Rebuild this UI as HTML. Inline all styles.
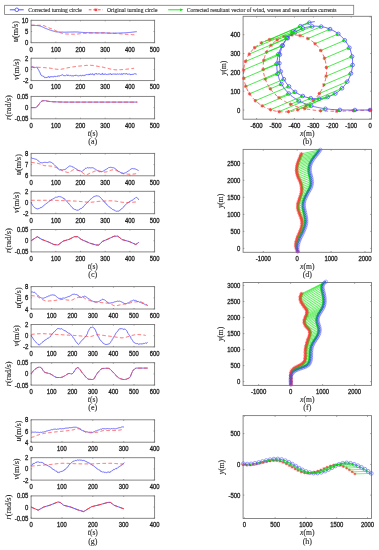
<!DOCTYPE html><html><head><meta charset="utf-8"><style>html,body{margin:0;padding:0;background:#fff;}svg{display:block;will-change:transform;filter:blur(0.3px);}</style></head><body>
<svg width="379" height="550" viewBox="0 0 379 550">
<style>text.t{stroke:#222;stroke-width:0.3px;} text.s{stroke:#2a2a2a;stroke-width:0.12px;}</style>
<rect width="379" height="550" fill="#fff"/>
<rect x="4.6" y="5.3" width="349.1" height="9.2" fill="#fff" stroke="#7a7a7a" stroke-width="0.8"/>
<path d="M9.8,9.8H23.7" stroke="#4040ff" stroke-width="0.9"/>
<circle cx="16.8" cy="9.8" r="1.8" fill="#fff" stroke="#4040ff" stroke-width="0.8"/>
<text x="28.2" y="12.1" font-size="6.8" font-family='"Liberation Serif", serif' text-anchor="start" fill="#2a2a2a" textLength="53.5" lengthAdjust="spacingAndGlyphs" class="s" >Corrected turning circle</text>
<path d="M88.8,9.8H103" stroke="#ff3a3a" stroke-width="0.9" stroke-dasharray="2.6 2.0"/>
<path d="M94.4,9.8h3 M95.9,8.3v3 M94.8,8.7l2.2,2.2 M94.8,10.9l2.2,-2.2" stroke="#ff3a3a" stroke-width="0.9" fill="none"/>
<circle cx="95.9" cy="9.8" r="0.9" fill="#ff3a3a"/>
<text x="107" y="12.1" font-size="6.8" font-family='"Liberation Serif", serif' text-anchor="start" fill="#2a2a2a" textLength="50.4" lengthAdjust="spacingAndGlyphs" class="s" >Original turning circle</text>
<path d="M168.2,9.8H181.5" stroke="#00e000" stroke-width="0.9"/>
<path d="M183.6,9.8L180.2,8.5L180.2,11.1Z" fill="#00e000"/>
<text x="186.7" y="12.1" font-size="6.8" font-family='"Liberation Serif", serif' text-anchor="start" fill="#2a2a2a" textLength="149.8" lengthAdjust="spacingAndGlyphs" class="s" >Corrected resultant vector of wind, waves and sea surface currents</text>
<rect x="31.1" y="20.3" width="123.5" height="22.4" fill="none" stroke="#7a7a7a" stroke-width="0.9"/>
<text x="31.1" y="51.5" font-size="6.5" font-family='"Liberation Sans", sans-serif' text-anchor="middle" fill="#2a2a2a" textLength="3.3" lengthAdjust="spacingAndGlyphs" class="t" >0</text>
<text x="55.8" y="51.5" font-size="6.5" font-family='"Liberation Sans", sans-serif' text-anchor="middle" fill="#2a2a2a" textLength="9.8" lengthAdjust="spacingAndGlyphs" class="t" >100</text>
<text x="80.5" y="51.5" font-size="6.5" font-family='"Liberation Sans", sans-serif' text-anchor="middle" fill="#2a2a2a" textLength="9.8" lengthAdjust="spacingAndGlyphs" class="t" >200</text>
<text x="105.2" y="51.5" font-size="6.5" font-family='"Liberation Sans", sans-serif' text-anchor="middle" fill="#2a2a2a" textLength="9.8" lengthAdjust="spacingAndGlyphs" class="t" >300</text>
<text x="129.9" y="51.5" font-size="6.5" font-family='"Liberation Sans", sans-serif' text-anchor="middle" fill="#2a2a2a" textLength="9.8" lengthAdjust="spacingAndGlyphs" class="t" >400</text>
<text x="154.6" y="51.5" font-size="6.5" font-family='"Liberation Sans", sans-serif' text-anchor="middle" fill="#2a2a2a" textLength="9.8" lengthAdjust="spacingAndGlyphs" class="t" >500</text>
<text x="28.4" y="45.2" font-size="6.5" font-family='"Liberation Sans", sans-serif' text-anchor="end" fill="#2a2a2a" textLength="3.3" lengthAdjust="spacingAndGlyphs" class="t" >0</text>
<text x="28.4" y="34" font-size="6.5" font-family='"Liberation Sans", sans-serif' text-anchor="end" fill="#2a2a2a" textLength="3.3" lengthAdjust="spacingAndGlyphs" class="t" >5</text>
<text x="28.4" y="22.8" font-size="6.5" font-family='"Liberation Sans", sans-serif' text-anchor="end" fill="#2a2a2a" textLength="6.6" lengthAdjust="spacingAndGlyphs" class="t" >10</text>
<path d="M31.1,42.7v-1 M31.1,20.3v1 M55.8,42.7v-1 M55.8,20.3v1 M80.5,42.7v-1 M80.5,20.3v1 M105.2,42.7v-1 M105.2,20.3v1 M129.9,42.7v-1 M129.9,20.3v1 M154.6,42.7v-1 M154.6,20.3v1 M31.1,42.7h1 M154.6,42.7h-1 M31.1,31.5h1 M154.6,31.5h-1 M31.1,20.3h1 M154.6,20.3h-1" stroke="#7a7a7a" stroke-width="0.8" fill="none"/>
<path d="M31.1,25.3 L31.5,25.3 L31.8,25.3 L32.2,25.3 L32.5,25.3 L32.9,25.3 L33.2,25.3 L33.6,25.3 L33.9,25.4 L34.3,25.4 L34.6,25.4 L35,25.4 L35.3,25.4 L35.7,25.5 L36,25.5 L36.4,25.5 L36.8,25.5 L37.1,25.6 L37.5,25.6 L37.8,25.6 L38.2,25.6 L38.5,25.7 L38.9,25.7 L39.2,25.8 L39.6,25.9 L39.9,26 L40.3,26.1 L40.6,26.2 L41,26.3 L41.4,26.5 L41.7,26.6 L42.1,26.8 L42.4,26.9 L42.8,27.1 L43.1,27.3 L43.5,27.4 L43.8,27.6 L44.2,27.8 L44.5,27.9 L44.9,28.1 L45.2,28.2 L45.6,28.4 L45.9,28.5 L46.3,28.6 L46.7,28.8 L47,28.9 L47.4,29.1 L47.7,29.2 L48.1,29.3 L48.4,29.5 L48.8,29.6 L49.1,29.7 L49.5,29.9 L49.8,30 L50.2,30.1 L50.5,30.2 L50.9,30.4 L51.3,30.5 L51.6,30.6 L52,30.7 L52.3,30.8 L52.7,30.9 L53,31 L53.4,31.1 L53.7,31.2 L54.1,31.3 L54.4,31.4 L54.8,31.5 L55.1,31.6 L55.5,31.7 L55.8,31.8 L56.2,31.8 L56.6,31.9 L56.9,31.9 L57.3,31.9 L57.6,32 L58,32 L58.3,32 L58.7,32 L59,32 L59.4,32 L59.7,32.1 L60.1,32.1 L60.4,32.1 L60.8,32.1 L61.2,32.1 L61.5,32.1 L61.9,32.1 L62.2,32.1 L62.6,32.1 L62.9,32.1 L63.3,32.2 L63.6,32.2 L64,32.2 L64.3,32.2 L64.7,32.2 L65,32.2 L65.4,32.2 L65.7,32.2 L66.1,32.2 L66.5,32.2 L66.8,32.2 L67.2,32.2 L67.5,32.1 L67.9,32.1 L68.2,32.1 L68.6,32.1 L68.9,32.1 L69.3,32.1 L69.6,32.1 L70,32.1 L70.3,32.1 L70.7,32 L71.1,32 L71.4,32 L71.8,32 L72.1,32 L72.5,32 L72.8,32 L73.2,32 L73.5,32 L73.9,32 L74.2,32 L74.6,31.9 L74.9,31.9 L75.3,31.9 L75.6,32 L76,32 L76.4,32 L76.7,32 L77.1,32 L77.4,32 L77.8,32 L78.1,32.1 L78.5,32.1 L78.8,32.1 L79.2,32.2 L79.5,32.2 L79.9,32.2 L80.2,32.2 L80.6,32.3 L81,32.3 L81.3,32.3 L81.7,32.4 L82,32.4 L82.4,32.4 L82.7,32.4 L83.1,32.5 L83.4,32.5 L83.8,32.5 L84.1,32.5 L84.5,32.5 L84.8,32.5 L85.2,32.6 L85.5,32.6 L85.9,32.6 L86.3,32.6 L86.6,32.6 L87,32.6 L87.3,32.6 L87.7,32.6 L88,32.7 L88.4,32.7 L88.7,32.7 L89.1,32.7 L89.4,32.7 L89.8,32.7 L90.1,32.7 L90.5,32.7 L90.9,32.7 L91.2,32.7 L91.6,32.8 L91.9,32.8 L92.3,32.8 L92.6,32.8 L93,32.8 L93.3,32.8 L93.7,32.8 L94,32.8 L94.4,32.8 L94.7,32.8 L95.1,32.8 L95.4,32.8 L95.8,32.8 L96.2,32.8 L96.5,32.9 L96.9,32.9 L97.2,32.9 L97.6,32.9 L97.9,32.9 L98.3,32.9 L98.6,32.9 L99,32.9 L99.3,32.9 L99.7,32.9 L100,32.9 L100.4,32.9 L100.8,32.9 L101.1,32.9 L101.5,32.9 L101.8,32.9 L102.2,32.9 L102.5,32.9 L102.9,32.9 L103.2,32.9 L103.6,32.9 L103.9,32.9 L104.3,32.9 L104.6,32.9 L105,33 L105.3,33 L105.7,33 L106.1,33 L106.4,33 L106.8,33 L107.1,33 L107.5,33 L107.8,33.1 L108.2,33.1 L108.5,33.1 L108.9,33.1 L109.2,33.1 L109.6,33.1 L109.9,33.1 L110.3,33.2 L110.7,33.2 L111,33.2 L111.4,33.2 L111.7,33.2 L112.1,33.2 L112.4,33.2 L112.8,33.2 L113.1,33.2 L113.5,33.2 L113.8,33.2 L114.2,33.2 L114.5,33.2 L114.9,33.2 L115.2,33.1 L115.6,33.1 L116,33.1 L116.3,33.1 L116.7,33.1 L117,33.1 L117.4,33.1 L117.7,33.1 L118.1,33.1 L118.4,33.1 L118.8,33 L119.1,33 L119.5,33 L119.8,33 L120.2,33 L120.6,33 L120.9,33 L121.3,33 L121.6,32.9 L122,32.9 L122.3,32.9 L122.7,32.9 L123,32.9 L123.4,32.9 L123.7,32.9 L124.1,32.8 L124.4,32.8 L124.8,32.8 L125.1,32.8 L125.5,32.8 L125.9,32.7 L126.2,32.7 L126.6,32.7 L126.9,32.7 L127.3,32.6 L127.6,32.6 L128,32.6 L128.3,32.6 L128.7,32.5 L129,32.5 L129.4,32.5 L129.7,32.4 L130.1,32.4 L130.5,32.4 L130.8,32.3 L131.2,32.3 L131.5,32.3 L131.9,32.2 L132.2,32.2 L132.6,32.1 L132.9,32.1 L133.3,32.1 L133.6,32 L134,32 L134.3,31.9 L134.7,31.9 L135,31.8 L135.4,31.8 L135.8,31.7 L136.1,31.7 L136.5,31.7 L136.8,31.6" stroke="#4040ff" stroke-width="0.8" fill="none" stroke-linejoin="round"/>
<path d="M31.1,25.3 L31.5,25.3 L31.8,25.3 L32.2,25.3 L32.5,25.3 L32.9,25.3 L33.2,25.3 L33.6,25.3 L33.9,25.3 L34.3,25.3 L34.6,25.3 L35,25.3 L35.3,25.3 L35.7,25.3 L36,25.3 L36.4,25.3 L36.8,25.3 L37.1,25.3 L37.5,25.3 L37.8,25.3 L38.2,25.3 L38.5,25.3 L38.9,25.3 L39.2,25.3 L39.6,25.3 L39.9,25.3 L40.3,25.3 L40.6,25.3 L41,25.3 L41.4,25.3 L41.7,25.3 L42.1,25.3 L42.4,25.3 L42.8,25.4 L43.1,25.4 L43.5,25.5 L43.8,25.7 L44.2,25.8 L44.5,25.9 L44.9,26.1 L45.2,26.3 L45.6,26.4 L45.9,26.6 L46.3,26.8 L46.7,26.9 L47,27.1 L47.4,27.3 L47.7,27.4 L48.1,27.5 L48.4,27.7 L48.8,27.8 L49.1,27.9 L49.5,28.1 L49.8,28.2 L50.2,28.3 L50.5,28.4 L50.9,28.6 L51.3,28.7 L51.6,28.8 L52,29 L52.3,29.1 L52.7,29.2 L53,29.4 L53.4,29.5 L53.7,29.7 L54.1,29.8 L54.4,30 L54.8,30.1 L55.1,30.3 L55.5,30.5 L55.8,30.7 L56.2,30.9 L56.6,31.1 L56.9,31.2 L57.3,31.4 L57.6,31.6 L58,31.8 L58.3,31.9 L58.7,32.1 L59,32.2 L59.4,32.4 L59.7,32.5 L60.1,32.6 L60.4,32.7 L60.8,32.9 L61.2,33 L61.5,33.1 L61.9,33.2 L62.2,33.3 L62.6,33.4 L62.9,33.5 L63.3,33.6 L63.6,33.7 L64,33.7 L64.3,33.8 L64.7,33.9 L65,33.9 L65.4,33.9 L65.7,34 L66.1,34 L66.5,34 L66.8,34 L67.2,34 L67.5,34 L67.9,34.1 L68.2,34.1 L68.6,34.1 L68.9,34.1 L69.3,34.1 L69.6,34.1 L70,34.1 L70.3,34.1 L70.7,34.1 L71.1,34.1 L71.4,34.2 L71.8,34.2 L72.1,34.2 L72.5,34.2 L72.8,34.2 L73.2,34.2 L73.5,34.2 L73.9,34.2 L74.2,34.2 L74.6,34.2 L74.9,34.2 L75.3,34.2 L75.6,34.2 L76,34.2 L76.4,34.1 L76.7,34.1 L77.1,34.1 L77.4,34 L77.8,34 L78.1,33.9 L78.5,33.9 L78.8,33.9 L79.2,33.8 L79.5,33.8 L79.9,33.7 L80.2,33.7 L80.6,33.6 L81,33.6 L81.3,33.6 L81.7,33.5 L82,33.5 L82.4,33.5 L82.7,33.4 L83.1,33.4 L83.4,33.4 L83.8,33.4 L84.1,33.4 L84.5,33.3 L84.8,33.3 L85.2,33.3 L85.5,33.3 L85.9,33.2 L86.3,33.2 L86.6,33.2 L87,33.2 L87.3,33.2 L87.7,33.2 L88,33.1 L88.4,33.1 L88.7,33.1 L89.1,33.1 L89.4,33.1 L89.8,33.1 L90.1,33.1 L90.5,33 L90.9,33 L91.2,33 L91.6,33 L91.9,33 L92.3,33 L92.6,33 L93,33 L93.3,33 L93.7,33 L94,32.9 L94.4,32.9 L94.7,32.9 L95.1,32.9 L95.4,32.9 L95.8,32.9 L96.2,32.9 L96.5,32.9 L96.9,32.9 L97.2,32.9 L97.6,32.9 L97.9,32.9 L98.3,32.9 L98.6,32.9 L99,32.8 L99.3,32.8 L99.7,32.8 L100,32.8 L100.4,32.8 L100.8,32.8 L101.1,32.8 L101.5,32.9 L101.8,32.9 L102.2,32.9 L102.5,32.9 L102.9,32.9 L103.2,32.9 L103.6,32.9 L103.9,32.9 L104.3,32.9 L104.6,32.9 L105,33 L105.3,33 L105.7,33 L106.1,33 L106.4,33 L106.8,33 L107.1,33 L107.5,33.1 L107.8,33.1 L108.2,33.1 L108.5,33.1 L108.9,33.1 L109.2,33.1 L109.6,33.1 L109.9,33.2 L110.3,33.2 L110.7,33.2 L111,33.2 L111.4,33.2 L111.7,33.2 L112.1,33.2 L112.4,33.3 L112.8,33.3 L113.1,33.3 L113.5,33.3 L113.8,33.3 L114.2,33.4 L114.5,33.4 L114.9,33.4 L115.2,33.4 L115.6,33.4 L116,33.5 L116.3,33.5 L116.7,33.5 L117,33.5 L117.4,33.5 L117.7,33.6 L118.1,33.6 L118.4,33.6 L118.8,33.6 L119.1,33.7 L119.5,33.7 L119.8,33.7 L120.2,33.8 L120.6,33.8 L120.9,33.8 L121.3,33.9 L121.6,33.9 L122,33.9 L122.3,34 L122.7,34 L123,34 L123.4,34.1 L123.7,34.1 L124.1,34.1 L124.4,34.2 L124.8,34.2 L125.1,34.2 L125.5,34.3 L125.9,34.3 L126.2,34.3 L126.6,34.4 L126.9,34.4 L127.3,34.4 L127.6,34.4 L128,34.4 L128.3,34.5 L128.7,34.5 L129,34.5 L129.4,34.5 L129.7,34.5 L130.1,34.6 L130.5,34.6 L130.8,34.6 L131.2,34.6 L131.5,34.6 L131.9,34.7 L132.2,34.7 L132.6,34.7 L132.9,34.7 L133.3,34.7 L133.6,34.7 L134,34.8 L134.3,34.8 L134.7,34.8 L135,34.8 L135.4,34.8 L135.8,34.8 L136.1,34.8 L136.5,34.8 L136.8,34.9" stroke="#ff3a3a" stroke-width="0.8" fill="none" stroke-dasharray="3.6 2.4" stroke-linejoin="round"/>
<text x="18" y="31.5" font-size="7.8" font-family='"Liberation Serif", serif' text-anchor="middle" fill="#2a2a2a" textLength="20.8" lengthAdjust="spacingAndGlyphs" transform="rotate(-90 18 31.5)" class="s" ><tspan font-style="italic">u</tspan>(m/s)</text>
<rect x="31.1" y="58.2" width="123.5" height="22.4" fill="none" stroke="#7a7a7a" stroke-width="0.9"/>
<text x="31.1" y="89.4" font-size="6.5" font-family='"Liberation Sans", sans-serif' text-anchor="middle" fill="#2a2a2a" textLength="3.3" lengthAdjust="spacingAndGlyphs" class="t" >0</text>
<text x="55.8" y="89.4" font-size="6.5" font-family='"Liberation Sans", sans-serif' text-anchor="middle" fill="#2a2a2a" textLength="9.8" lengthAdjust="spacingAndGlyphs" class="t" >100</text>
<text x="80.5" y="89.4" font-size="6.5" font-family='"Liberation Sans", sans-serif' text-anchor="middle" fill="#2a2a2a" textLength="9.8" lengthAdjust="spacingAndGlyphs" class="t" >200</text>
<text x="105.2" y="89.4" font-size="6.5" font-family='"Liberation Sans", sans-serif' text-anchor="middle" fill="#2a2a2a" textLength="9.8" lengthAdjust="spacingAndGlyphs" class="t" >300</text>
<text x="129.9" y="89.4" font-size="6.5" font-family='"Liberation Sans", sans-serif' text-anchor="middle" fill="#2a2a2a" textLength="9.8" lengthAdjust="spacingAndGlyphs" class="t" >400</text>
<text x="154.6" y="89.4" font-size="6.5" font-family='"Liberation Sans", sans-serif' text-anchor="middle" fill="#2a2a2a" textLength="9.8" lengthAdjust="spacingAndGlyphs" class="t" >500</text>
<text x="28.4" y="83.1" font-size="6.5" font-family='"Liberation Sans", sans-serif' text-anchor="end" fill="#2a2a2a" textLength="5.5" lengthAdjust="spacingAndGlyphs" class="t" >-2</text>
<text x="28.4" y="71.9" font-size="6.5" font-family='"Liberation Sans", sans-serif' text-anchor="end" fill="#2a2a2a" textLength="3.3" lengthAdjust="spacingAndGlyphs" class="t" >0</text>
<text x="28.4" y="60.7" font-size="6.5" font-family='"Liberation Sans", sans-serif' text-anchor="end" fill="#2a2a2a" textLength="3.3" lengthAdjust="spacingAndGlyphs" class="t" >2</text>
<path d="M31.1,80.6v-1 M31.1,58.2v1 M55.8,80.6v-1 M55.8,58.2v1 M80.5,80.6v-1 M80.5,58.2v1 M105.2,80.6v-1 M105.2,58.2v1 M129.9,80.6v-1 M129.9,58.2v1 M154.6,80.6v-1 M154.6,58.2v1 M31.1,80.6h1 M154.6,80.6h-1 M31.1,69.4h1 M154.6,69.4h-1 M31.1,58.2h1 M154.6,58.2h-1" stroke="#7a7a7a" stroke-width="0.8" fill="none"/>
<path d="M31.1,67.1 L31.4,67.1 L31.6,67 L31.9,67.1 L32.2,67.2 L32.4,67 L32.7,66.7 L33,66.8 L33.2,67.4 L33.5,67.6 L33.7,67.5 L34,67.5 L34.3,67.8 L34.5,67.7 L34.8,67.6 L35.1,67.6 L35.3,67.4 L35.6,67.3 L35.9,67 L36.1,66.9 L36.4,67.1 L36.7,67.3 L36.9,67.7 L37.2,67.8 L37.5,67.9 L37.7,68.5 L38,69.1 L38.3,69.5 L38.5,69.8 L38.8,70.2 L39,70.9 L39.3,71.5 L39.6,71.8 L39.8,72.3 L40.1,72.9 L40.4,73.7 L40.6,74.5 L40.9,74.9 L41.2,74.9 L41.4,75.2 L41.7,75.7 L42,75.6 L42.2,75.6 L42.5,76 L42.8,76.4 L43,76.6 L43.3,76.4 L43.6,76.2 L43.8,76.4 L44.1,76.8 L44.3,77.3 L44.6,77.7 L44.9,77.5 L45.1,77.4 L45.4,77.6 L45.7,77.4 L45.9,77.1 L46.2,77.2 L46.5,77.6 L46.7,77.6 L47,77.6 L47.3,77.4 L47.5,77 L47.8,77.1 L48.1,77.2 L48.3,77 L48.6,76.6 L48.9,76.5 L49.1,77.1 L49.4,77.6 L49.6,77.2 L49.9,76.7 L50.2,76.8 L50.4,76.8 L50.7,76.8 L51,77.1 L51.2,77.1 L51.5,76.7 L51.8,76.5 L52,76.3 L52.3,76.6 L52.6,77 L52.8,77.1 L53.1,77.2 L53.4,77.1 L53.6,76.6 L53.9,76.3 L54.2,76.3 L54.4,76.4 L54.7,76.3 L54.9,76.2 L55.2,76.2 L55.5,76.4 L55.7,76.6 L56,76.3 L56.3,76 L56.5,76.2 L56.8,76.5 L57.1,76.8 L57.3,76.6 L57.6,76 L57.9,75.7 L58.1,76 L58.4,76.1 L58.7,75.9 L58.9,76.1 L59.2,76 L59.4,75.9 L59.7,76 L60,75.8 L60.2,75.6 L60.5,75.5 L60.8,75.4 L61,75.2 L61.3,75.2 L61.6,75.2 L61.8,74.9 L62.1,74.8 L62.4,74.8 L62.6,74.8 L62.9,74.8 L63.2,75 L63.4,75.3 L63.7,75.7 L64,75.6 L64.2,75.7 L64.5,75.8 L64.7,75.5 L65,75.6 L65.3,75.8 L65.5,75.7 L65.8,75.4 L66.1,75.1 L66.3,75 L66.6,75.1 L66.9,75 L67.1,74.8 L67.4,75.3 L67.7,75.8 L67.9,75.4 L68.2,75.2 L68.5,75.3 L68.7,75.3 L69,75.3 L69.3,75.5 L69.5,75.8 L69.8,76.1 L70,75.9 L70.3,75.6 L70.6,75.4 L70.8,75.5 L71.1,75.7 L71.4,75.8 L71.6,75.8 L71.9,75.8 L72.2,75.9 L72.4,75.7 L72.7,75.7 L73,76.2 L73.2,76.2 L73.5,75.8 L73.8,75.6 L74,75.8 L74.3,75.5 L74.6,75.1 L74.8,75.3 L75.1,75.7 L75.3,75.7 L75.6,75.2 L75.9,75 L76.1,75.2 L76.4,75.3 L76.7,75.3 L76.9,75.3 L77.2,75.4 L77.5,75.7 L77.7,75.8 L78,75.7 L78.3,75.9 L78.5,75.9 L78.8,75.8 L79.1,75.8 L79.3,75.6 L79.6,75.6 L79.9,75.6 L80.1,75.5 L80.4,75.4 L80.6,75.2 L80.9,75.3 L81.2,75.8 L81.4,76.2 L81.7,75.9 L82,75.3 L82.2,75.3 L82.5,75.3 L82.8,75.2 L83,75.5 L83.3,75.7 L83.6,75.4 L83.8,75.2 L84.1,75.4 L84.4,75.6 L84.6,75.5 L84.9,75 L85.2,74.8 L85.4,75 L85.7,75.2 L85.9,75.3 L86.2,75 L86.5,74.6 L86.7,74.4 L87,74.3 L87.3,74.6 L87.5,74.7 L87.8,74.6 L88.1,74.6 L88.3,74.7 L88.6,74.9 L88.9,74.5 L89.1,73.9 L89.4,74.4 L89.7,75 L89.9,74.7 L90.2,74.3 L90.4,74.2 L90.7,73.8 L91,73.8 L91.2,74.1 L91.5,74.4 L91.8,74.5 L92,74.6 L92.3,74.4 L92.6,73.7 L92.8,73.7 L93.1,74.3 L93.4,74.7 L93.6,74.8 L93.9,74.9 L94.2,75.1 L94.4,74.6 L94.7,73.9 L95,73.9 L95.2,73.9 L95.5,73.8 L95.7,73.6 L96,73.8 L96.3,73.8 L96.5,73.5 L96.8,74 L97.1,74.4 L97.3,74.2 L97.6,73.9 L97.9,73.9 L98.1,74 L98.4,73.9 L98.7,73.8 L98.9,74.1 L99.2,74.2 L99.5,73.9 L99.7,73.7 L100,74 L100.3,74.4 L100.5,74.4 L100.8,74.3 L101,74 L101.3,73.9 L101.6,74.1 L101.8,74.4 L102.1,74.5 L102.4,74.1 L102.6,73.3 L102.9,73.5 L103.2,74.3 L103.4,74.6 L103.7,74.5 L104,74.2 L104.2,74.1 L104.5,74.4 L104.8,74.3 L105,73.8 L105.3,73.8 L105.6,74.1 L105.8,74.2 L106.1,74.6 L106.3,74.8 L106.6,74.5 L106.9,74.4 L107.1,74.5 L107.4,74.2 L107.7,74.1 L107.9,74.4 L108.2,74.5 L108.5,74 L108.7,73.9 L109,74.1 L109.3,74.1 L109.5,74 L109.8,74.2 L110.1,74.2 L110.3,73.8 L110.6,73.6 L110.9,73.7 L111.1,74.3 L111.4,74.9 L111.6,74.5 L111.9,74 L112.2,74.2 L112.4,74.2 L112.7,74.1 L113,74 L113.2,74.1 L113.5,74 L113.8,73.9 L114,74 L114.3,73.9 L114.6,74 L114.8,74.3 L115.1,74.3 L115.4,74.2 L115.6,73.9 L115.9,73.9 L116.1,74.3 L116.4,74.4 L116.7,74 L116.9,73.8 L117.2,73.9 L117.5,74 L117.7,74.1 L118,74.1 L118.3,74.1 L118.5,74.2 L118.8,74.3 L119.1,74.1 L119.3,74 L119.6,74 L119.9,74 L120.1,74.1 L120.4,74.1 L120.7,74.1 L120.9,74.4 L121.2,74.5 L121.4,73.9 L121.7,73.6 L122,73.8 L122.2,74.2 L122.5,74.4 L122.8,74.3 L123,73.8 L123.3,73.5 L123.6,73.8 L123.8,74.1 L124.1,73.7 L124.4,74 L124.6,74.1 L124.9,73.8 L125.2,73.9 L125.4,74.1 L125.7,73.9 L126,73.6 L126.2,73.8 L126.5,74 L126.7,73.5 L127,73.6 L127.3,74.1 L127.5,74.4 L127.8,74.3 L128.1,74.2 L128.3,74.2 L128.6,74.2 L128.9,73.9 L129.1,73.9 L129.4,74.1 L129.7,73.9 L129.9,74.1 L130.2,74.7 L130.5,74.8 L130.7,74.4 L131,74.4 L131.3,74.4 L131.5,74.5 L131.8,74.8 L132,75 L132.3,74.6 L132.6,74.2 L132.8,74.2 L133.1,74.2 L133.4,74.3 L133.6,74.3 L133.9,74.2 L134.2,73.8 L134.4,73.7 L134.7,74 L135,74.1 L135.2,74.1 L135.5,73.9 L135.8,73.8 L136,73.8 L136.3,74.2 L136.6,74.2 L136.8,74.2" stroke="#4040ff" stroke-width="0.8" fill="none" stroke-linejoin="round"/>
<path d="M31.1,67.2 L31.4,67.2 L31.8,67.2 L32.1,67.2 L32.5,67.2 L32.8,67.2 L33.2,67.2 L33.5,67.2 L33.9,67.2 L34.2,67.2 L34.5,67.2 L34.9,67.2 L35.2,67.2 L35.6,67.2 L35.9,67.2 L36.3,67.2 L36.6,67.3 L37,67.3 L37.3,67.3 L37.6,67.3 L38,67.3 L38.3,67.3 L38.7,67.3 L39,67.3 L39.4,67.4 L39.7,67.4 L40.1,67.4 L40.4,67.4 L40.7,67.4 L41.1,67.4 L41.4,67.5 L41.8,67.5 L42.1,67.5 L42.5,67.5 L42.8,67.5 L43.2,67.5 L43.5,67.6 L43.8,67.6 L44.2,67.6 L44.5,67.6 L44.9,67.6 L45.2,67.7 L45.6,67.7 L45.9,67.7 L46.3,67.8 L46.6,67.8 L46.9,67.8 L47.3,67.9 L47.6,67.9 L48,67.9 L48.3,68 L48.7,68 L49,68.1 L49.4,68.1 L49.7,68.1 L50,68.2 L50.4,68.2 L50.7,68.3 L51.1,68.3 L51.4,68.4 L51.8,68.4 L52.1,68.5 L52.5,68.5 L52.8,68.6 L53.1,68.6 L53.5,68.7 L53.8,68.8 L54.2,68.8 L54.5,68.9 L54.9,68.9 L55.2,69 L55.6,69.1 L55.9,69.1 L56.2,69.2 L56.6,69.2 L56.9,69.3 L57.3,69.3 L57.6,69.3 L58,69.4 L58.3,69.4 L58.7,69.4 L59,69.4 L59.3,69.4 L59.7,69.4 L60,69.4 L60.4,69.3 L60.7,69.3 L61.1,69.2 L61.4,69.2 L61.8,69.1 L62.1,69.1 L62.4,69 L62.8,68.9 L63.1,68.9 L63.5,68.8 L63.8,68.7 L64.2,68.6 L64.5,68.5 L64.9,68.4 L65.2,68.4 L65.5,68.3 L65.9,68.2 L66.2,68.1 L66.6,68 L66.9,68 L67.3,67.9 L67.6,67.8 L68,67.8 L68.3,67.7 L68.6,67.6 L69,67.6 L69.3,67.5 L69.7,67.5 L70,67.4 L70.4,67.3 L70.7,67.3 L71.1,67.2 L71.4,67.2 L71.7,67.1 L72.1,67.1 L72.4,67 L72.8,66.9 L73.1,66.9 L73.5,66.8 L73.8,66.8 L74.2,66.7 L74.5,66.7 L74.8,66.6 L75.2,66.6 L75.5,66.5 L75.9,66.5 L76.2,66.4 L76.6,66.4 L76.9,66.3 L77.3,66.3 L77.6,66.2 L77.9,66.2 L78.3,66.2 L78.6,66.1 L79,66.1 L79.3,66.1 L79.7,66 L80,66 L80.4,66 L80.7,65.9 L81,65.9 L81.4,65.9 L81.7,65.8 L82.1,65.8 L82.4,65.8 L82.8,65.7 L83.1,65.7 L83.5,65.7 L83.8,65.6 L84.1,65.6 L84.5,65.6 L84.8,65.5 L85.2,65.5 L85.5,65.5 L85.9,65.5 L86.2,65.4 L86.6,65.4 L86.9,65.4 L87.2,65.4 L87.6,65.4 L87.9,65.4 L88.3,65.3 L88.6,65.3 L89,65.3 L89.3,65.3 L89.7,65.3 L90,65.3 L90.4,65.3 L90.7,65.3 L91,65.3 L91.4,65.4 L91.7,65.4 L92.1,65.4 L92.4,65.4 L92.8,65.5 L93.1,65.5 L93.5,65.6 L93.8,65.6 L94.1,65.7 L94.5,65.7 L94.8,65.8 L95.2,65.8 L95.5,65.9 L95.9,65.9 L96.2,66 L96.6,66.1 L96.9,66.1 L97.2,66.2 L97.6,66.3 L97.9,66.3 L98.3,66.4 L98.6,66.5 L99,66.5 L99.3,66.6 L99.7,66.6 L100,66.7 L100.3,66.8 L100.7,66.8 L101,66.9 L101.4,66.9 L101.7,67 L102.1,67.1 L102.4,67.1 L102.8,67.2 L103.1,67.3 L103.4,67.3 L103.8,67.4 L104.1,67.5 L104.5,67.6 L104.8,67.7 L105.2,67.7 L105.5,67.8 L105.9,67.9 L106.2,68 L106.5,68.1 L106.9,68.2 L107.2,68.2 L107.6,68.3 L107.9,68.4 L108.3,68.5 L108.6,68.6 L109,68.7 L109.3,68.7 L109.6,68.8 L110,68.9 L110.3,69 L110.7,69.1 L111,69.1 L111.4,69.2 L111.7,69.3 L112.1,69.3 L112.4,69.4 L112.7,69.4 L113.1,69.5 L113.4,69.5 L113.8,69.6 L114.1,69.6 L114.5,69.7 L114.8,69.7 L115.2,69.7 L115.5,69.8 L115.8,69.8 L116.2,69.8 L116.5,69.8 L116.9,69.8 L117.2,69.8 L117.6,69.8 L117.9,69.8 L118.3,69.8 L118.6,69.8 L118.9,69.8 L119.3,69.7 L119.6,69.7 L120,69.7 L120.3,69.7 L120.7,69.7 L121,69.6 L121.4,69.6 L121.7,69.6 L122,69.6 L122.4,69.6 L122.7,69.5 L123.1,69.5 L123.4,69.5 L123.8,69.4 L124.1,69.4 L124.5,69.4 L124.8,69.4 L125.1,69.3 L125.5,69.3 L125.8,69.3 L126.2,69.2 L126.5,69.2 L126.9,69.2 L127.2,69.1 L127.6,69.1 L127.9,69.1 L128.2,69 L128.6,69 L128.9,69 L129.3,68.9 L129.6,68.9 L130,68.9 L130.3,68.8 L130.7,68.8 L131,68.7 L131.3,68.7 L131.7,68.6 L132,68.6 L132.4,68.5 L132.7,68.5 L133.1,68.4 L133.4,68.4 L133.8,68.3 L134.1,68.3" stroke="#ff3a3a" stroke-width="0.8" fill="none" stroke-dasharray="3.6 2.4" stroke-linejoin="round"/>
<text x="19.3" y="69.4" font-size="7.8" font-family='"Liberation Serif", serif' text-anchor="middle" fill="#2a2a2a" textLength="21" lengthAdjust="spacingAndGlyphs" transform="rotate(-90 19.3 69.4)" class="s" ><tspan font-style="italic">v</tspan>(m/s)</text>
<rect x="31.1" y="96.4" width="123.5" height="22.4" fill="none" stroke="#7a7a7a" stroke-width="0.9"/>
<text x="31.1" y="127.6" font-size="6.5" font-family='"Liberation Sans", sans-serif' text-anchor="middle" fill="#2a2a2a" textLength="3.3" lengthAdjust="spacingAndGlyphs" class="t" >0</text>
<text x="55.8" y="127.6" font-size="6.5" font-family='"Liberation Sans", sans-serif' text-anchor="middle" fill="#2a2a2a" textLength="9.8" lengthAdjust="spacingAndGlyphs" class="t" >100</text>
<text x="80.5" y="127.6" font-size="6.5" font-family='"Liberation Sans", sans-serif' text-anchor="middle" fill="#2a2a2a" textLength="9.8" lengthAdjust="spacingAndGlyphs" class="t" >200</text>
<text x="105.2" y="127.6" font-size="6.5" font-family='"Liberation Sans", sans-serif' text-anchor="middle" fill="#2a2a2a" textLength="9.8" lengthAdjust="spacingAndGlyphs" class="t" >300</text>
<text x="129.9" y="127.6" font-size="6.5" font-family='"Liberation Sans", sans-serif' text-anchor="middle" fill="#2a2a2a" textLength="9.8" lengthAdjust="spacingAndGlyphs" class="t" >400</text>
<text x="154.6" y="127.6" font-size="6.5" font-family='"Liberation Sans", sans-serif' text-anchor="middle" fill="#2a2a2a" textLength="9.8" lengthAdjust="spacingAndGlyphs" class="t" >500</text>
<text x="28.4" y="121.3" font-size="6.5" font-family='"Liberation Sans", sans-serif' text-anchor="end" fill="#2a2a2a" textLength="13.7" lengthAdjust="spacingAndGlyphs" class="t" >-0.05</text>
<text x="28.4" y="110.1" font-size="6.5" font-family='"Liberation Sans", sans-serif' text-anchor="end" fill="#2a2a2a" textLength="3.3" lengthAdjust="spacingAndGlyphs" class="t" >0</text>
<text x="28.4" y="98.9" font-size="6.5" font-family='"Liberation Sans", sans-serif' text-anchor="end" fill="#2a2a2a" textLength="11.5" lengthAdjust="spacingAndGlyphs" class="t" >0.05</text>
<path d="M31.1,118.8v-1 M31.1,96.4v1 M55.8,118.8v-1 M55.8,96.4v1 M80.5,118.8v-1 M80.5,96.4v1 M105.2,118.8v-1 M105.2,96.4v1 M129.9,118.8v-1 M129.9,96.4v1 M154.6,118.8v-1 M154.6,96.4v1 M31.1,118.8h1 M154.6,118.8h-1 M31.1,107.6h1 M154.6,107.6h-1 M31.1,96.4h1 M154.6,96.4h-1" stroke="#7a7a7a" stroke-width="0.8" fill="none"/>
<path d="M31.1,107.6 L31.5,107.6 L31.8,107.6 L32.2,107.6 L32.5,107.6 L32.9,107.6 L33.2,107.6 L33.6,107.6 L33.9,107.6 L34.3,107.6 L34.7,107.6 L35,107.6 L35.4,107.6 L35.7,107.6 L36.1,107.5 L36.4,107.4 L36.8,107 L37.1,106.6 L37.5,106.2 L37.8,105.7 L38.2,105.3 L38.6,104.9 L38.9,104.4 L39.3,103.9 L39.6,103.4 L40,102.9 L40.3,102.4 L40.7,102 L41,101.7 L41.4,101.4 L41.8,101.2 L42.1,101 L42.5,100.9 L42.8,100.8 L43.2,100.8 L43.5,100.7 L43.9,100.7 L44.2,100.7 L44.6,100.7 L45,100.7 L45.3,100.7 L45.7,100.7 L46,100.8 L46.4,100.9 L46.7,101 L47.1,101.1 L47.4,101.2 L47.8,101.2 L48.2,101.3 L48.5,101.3 L48.9,101.4 L49.2,101.4 L49.6,101.5 L49.9,101.5 L50.3,101.5 L50.6,101.6 L51,101.6 L51.3,101.6 L51.7,101.7 L52.1,101.7 L52.4,101.7 L52.8,101.7 L53.1,101.7 L53.5,101.8 L53.8,101.8 L54.2,101.8 L54.5,101.8 L54.9,101.8 L55.3,101.8 L55.6,101.8 L56,101.9 L56.3,101.9 L56.7,101.9 L57,101.9 L57.4,101.9 L57.7,101.9 L58.1,101.9 L58.5,101.9 L58.8,102 L59.2,102 L59.5,102 L59.9,102 L60.2,102 L60.6,102 L60.9,102 L61.3,102 L61.6,102 L62,102 L62.4,102 L62.7,102.1 L63.1,102.1 L63.4,102.1 L63.8,102.1 L64.1,102.1 L64.5,102.1 L64.8,102.1 L65.2,102.1 L65.6,102.1 L65.9,102.1 L66.3,102.1 L66.6,102.1 L67,102.1 L67.3,102.1 L67.7,102.1 L68,102.1 L68.4,102.1 L68.8,102.1 L69.1,102.1 L69.5,102.1 L69.8,102.1 L70.2,102.1 L70.5,102.1 L70.9,102.1 L71.2,102.1 L71.6,102.1 L72,102.1 L72.3,102.1 L72.7,102.1 L73,102.1 L73.4,102.1 L73.7,102.1 L74.1,102.1 L74.4,102.1 L74.8,102.1 L75.1,102.1 L75.5,102.1 L75.9,102.1 L76.2,102.1 L76.6,102.1 L76.9,102.1 L77.3,102.1 L77.6,102.1 L78,102.1 L78.3,102.1 L78.7,102.1 L79.1,102.1 L79.4,102.1 L79.8,102.1 L80.1,102.1 L80.5,102.1 L80.8,102.1 L81.2,102.1 L81.5,102.1 L81.9,102.1 L82.3,102.1 L82.6,102.1 L83,102.1 L83.3,102.1 L83.7,102.1 L84,102.1 L84.4,102.1 L84.7,102.1 L85.1,102.1 L85.4,102.1 L85.8,102.1 L86.2,102.1 L86.5,102.1 L86.9,102.1 L87.2,102.1 L87.6,102.1 L87.9,102.1 L88.3,102.1 L88.6,102.1 L89,102.1 L89.4,102.1 L89.7,102.1 L90.1,102.1 L90.4,102.1 L90.8,102.1 L91.1,102.1 L91.5,102.1 L91.8,102.1 L92.2,102.1 L92.6,102.1 L92.9,102.1 L93.3,102.1 L93.6,102.1 L94,102.1 L94.3,102.1 L94.7,102.1 L95,102.1 L95.4,102.1 L95.7,102.1 L96.1,102.1 L96.5,102.1 L96.8,102.1 L97.2,102.1 L97.5,102.1 L97.9,102.1 L98.2,102.1 L98.6,102.1 L98.9,102.1 L99.3,102.1 L99.7,102.1 L100,102.1 L100.4,102.1 L100.7,102.1 L101.1,102.1 L101.4,102.1 L101.8,102.1 L102.1,102.1 L102.5,102.1 L102.9,102.1 L103.2,102.1 L103.6,102.1 L103.9,102.1 L104.3,102.1 L104.6,102.1 L105,102.1 L105.3,102.1 L105.7,102.1 L106.1,102.1 L106.4,102.1 L106.8,102.1 L107.1,102.1 L107.5,102.1 L107.8,102.1 L108.2,102.1 L108.5,102.1 L108.9,102.1 L109.2,102.1 L109.6,102.1 L110,102.1 L110.3,102.1 L110.7,102.1 L111,102.1 L111.4,102.1 L111.7,102.1 L112.1,102.1 L112.4,102.1 L112.8,102.1 L113.2,102.1 L113.5,102.1 L113.9,102.1 L114.2,102.1 L114.6,102.1 L114.9,102.1 L115.3,102.1 L115.6,102.1 L116,102.1 L116.4,102.1 L116.7,102.1 L117.1,102.1 L117.4,102.1 L117.8,102.1 L118.1,102.1 L118.5,102.1 L118.8,102.1 L119.2,102.1 L119.5,102.1 L119.9,102.1 L120.3,102.1 L120.6,102.1 L121,102.1 L121.3,102.1 L121.7,102.1 L122,102.1 L122.4,102.1 L122.7,102.1 L123.1,102.1 L123.5,102.1 L123.8,102.1 L124.2,102.1 L124.5,102.1 L124.9,102.1 L125.2,102.1 L125.6,102.1 L125.9,102.1 L126.3,102.1 L126.7,102.1 L127,102.1 L127.4,102.1 L127.7,102.1 L128.1,102.1 L128.4,102.1 L128.8,102.1 L129.1,102.1 L129.5,102.1 L129.9,102.1 L130.2,102.1 L130.6,102.1 L130.9,102.1 L131.3,102.1 L131.6,102.1 L132,102.1 L132.3,102.1 L132.7,102.1 L133,102.1 L133.4,102.1 L133.8,102.1 L134.1,102.1 L134.5,102.1 L134.8,102.1 L135.2,102.1 L135.5,102.1 L135.9,102.1 L136.2,102.1 L136.6,102.1 L137,102.1 L137.3,102.1" stroke="#4040ff" stroke-width="0.8" fill="none" stroke-linejoin="round"/>
<path d="M31.1,107.6 L31.5,107.6 L31.8,107.6 L32.2,107.6 L32.5,107.6 L32.9,107.6 L33.2,107.6 L33.6,107.6 L33.9,107.6 L34.3,107.6 L34.7,107.6 L35,107.6 L35.4,107.6 L35.7,107.6 L36.1,107.5 L36.4,107.4 L36.8,107 L37.1,106.6 L37.5,106.2 L37.8,105.7 L38.2,105.3 L38.6,104.9 L38.9,104.4 L39.3,103.9 L39.6,103.4 L40,102.9 L40.3,102.4 L40.7,102 L41,101.7 L41.4,101.4 L41.8,101.2 L42.1,101 L42.5,100.9 L42.8,100.8 L43.2,100.8 L43.5,100.7 L43.9,100.7 L44.2,100.7 L44.6,100.7 L45,100.7 L45.3,100.7 L45.7,100.7 L46,100.8 L46.4,100.9 L46.7,101 L47.1,101.1 L47.4,101.2 L47.8,101.2 L48.2,101.3 L48.5,101.3 L48.9,101.4 L49.2,101.4 L49.6,101.5 L49.9,101.5 L50.3,101.5 L50.6,101.6 L51,101.6 L51.3,101.6 L51.7,101.7 L52.1,101.7 L52.4,101.7 L52.8,101.7 L53.1,101.7 L53.5,101.8 L53.8,101.8 L54.2,101.8 L54.5,101.8 L54.9,101.8 L55.3,101.8 L55.6,101.8 L56,101.9 L56.3,101.9 L56.7,101.9 L57,101.9 L57.4,101.9 L57.7,101.9 L58.1,101.9 L58.5,101.9 L58.8,102 L59.2,102 L59.5,102 L59.9,102 L60.2,102 L60.6,102 L60.9,102 L61.3,102 L61.6,102 L62,102 L62.4,102 L62.7,102.1 L63.1,102.1 L63.4,102.1 L63.8,102.1 L64.1,102.1 L64.5,102.1 L64.8,102.1 L65.2,102.1 L65.6,102.1 L65.9,102.1 L66.3,102.1 L66.6,102.1 L67,102.1 L67.3,102.1 L67.7,102.1 L68,102.1 L68.4,102.1 L68.8,102.1 L69.1,102.1 L69.5,102.1 L69.8,102.1 L70.2,102.1 L70.5,102.1 L70.9,102.1 L71.2,102.1 L71.6,102.1 L72,102.1 L72.3,102.1 L72.7,102.1 L73,102.1 L73.4,102.1 L73.7,102.1 L74.1,102.1 L74.4,102.1 L74.8,102.1 L75.1,102.1 L75.5,102.1 L75.9,102.1 L76.2,102.1 L76.6,102.1 L76.9,102.1 L77.3,102.1 L77.6,102.1 L78,102.1 L78.3,102.1 L78.7,102.1 L79.1,102.1 L79.4,102.1 L79.8,102.1 L80.1,102.1 L80.5,102.1 L80.8,102.1 L81.2,102.1 L81.5,102.1 L81.9,102.1 L82.3,102.1 L82.6,102.1 L83,102.1 L83.3,102.1 L83.7,102.1 L84,102.1 L84.4,102.1 L84.7,102.1 L85.1,102.1 L85.4,102.1 L85.8,102.1 L86.2,102.1 L86.5,102.1 L86.9,102.1 L87.2,102.1 L87.6,102.1 L87.9,102.1 L88.3,102.1 L88.6,102.1 L89,102.1 L89.4,102.1 L89.7,102.1 L90.1,102.1 L90.4,102.1 L90.8,102.1 L91.1,102.1 L91.5,102.1 L91.8,102.1 L92.2,102.1 L92.6,102.1 L92.9,102.1 L93.3,102.1 L93.6,102.1 L94,102.1 L94.3,102.1 L94.7,102.1 L95,102.1 L95.4,102.1 L95.7,102.1 L96.1,102.1 L96.5,102.1 L96.8,102.1 L97.2,102.1 L97.5,102.1 L97.9,102.1 L98.2,102.1 L98.6,102.1 L98.9,102.1 L99.3,102.1 L99.7,102.1 L100,102.1 L100.4,102.1 L100.7,102.1 L101.1,102.1 L101.4,102.1 L101.8,102.1 L102.1,102.1 L102.5,102.1 L102.9,102.1 L103.2,102.1 L103.6,102.1 L103.9,102.1 L104.3,102.1 L104.6,102.1 L105,102.1 L105.3,102.1 L105.7,102.1 L106.1,102.1 L106.4,102.1 L106.8,102.1 L107.1,102.1 L107.5,102.1 L107.8,102.1 L108.2,102.1 L108.5,102.1 L108.9,102.1 L109.2,102.1 L109.6,102.1 L110,102.1 L110.3,102.1 L110.7,102.1 L111,102.1 L111.4,102.1 L111.7,102.1 L112.1,102.1 L112.4,102.1 L112.8,102.1 L113.2,102.1 L113.5,102.1 L113.9,102.1 L114.2,102.1 L114.6,102.1 L114.9,102.1 L115.3,102.1 L115.6,102.1 L116,102.1 L116.4,102.1 L116.7,102.1 L117.1,102.1 L117.4,102.1 L117.8,102.1 L118.1,102.1 L118.5,102.1 L118.8,102.1 L119.2,102.1 L119.5,102.1 L119.9,102.1 L120.3,102.1 L120.6,102.1 L121,102.1 L121.3,102.1 L121.7,102.1 L122,102.1 L122.4,102.1 L122.7,102.1 L123.1,102.1 L123.5,102.1 L123.8,102.1 L124.2,102.1 L124.5,102.1 L124.9,102.1 L125.2,102.1 L125.6,102.1 L125.9,102.1 L126.3,102.1 L126.7,102.1 L127,102.1 L127.4,102.1 L127.7,102.1 L128.1,102.1 L128.4,102.1 L128.8,102.1 L129.1,102.1 L129.5,102.1 L129.9,102.1 L130.2,102.1 L130.6,102.1 L130.9,102.1 L131.3,102.1 L131.6,102.1 L132,102.1 L132.3,102.1 L132.7,102.1 L133,102.1 L133.4,102.1 L133.8,102.1 L134.1,102.1 L134.5,102.1 L134.8,102.1 L135.2,102.1 L135.5,102.1 L135.9,102.1 L136.2,102.1 L136.6,102.1 L137,102.1 L137.3,102.1" stroke="#ff3a3a" stroke-width="0.9" fill="none" stroke-dasharray="4.2 1.8" stroke-linejoin="round"/>
<text x="10.6" y="107.6" font-size="7.8" font-family='"Liberation Serif", serif' text-anchor="middle" fill="#2a2a2a" textLength="24.8" lengthAdjust="spacingAndGlyphs" transform="rotate(-90 10.6 107.6)" class="s" ><tspan font-style="italic">r</tspan>(rad/s)</text>
<text x="92.8" y="135.5" font-size="7.4" font-family='"Liberation Serif", serif' text-anchor="middle" fill="#2a2a2a" class="s" ><tspan font-style="italic">t</tspan>(s)</text>
<text x="92.8" y="144" font-size="8" font-family='"Liberation Serif", serif' text-anchor="middle" fill="#2a2a2a" class="s" >(a)</text>
<rect x="31.1" y="153.4" width="123.5" height="22.4" fill="none" stroke="#7a7a7a" stroke-width="0.9"/>
<text x="31.1" y="184.6" font-size="6.5" font-family='"Liberation Sans", sans-serif' text-anchor="middle" fill="#2a2a2a" textLength="3.3" lengthAdjust="spacingAndGlyphs" class="t" >0</text>
<text x="55.8" y="184.6" font-size="6.5" font-family='"Liberation Sans", sans-serif' text-anchor="middle" fill="#2a2a2a" textLength="9.8" lengthAdjust="spacingAndGlyphs" class="t" >100</text>
<text x="80.5" y="184.6" font-size="6.5" font-family='"Liberation Sans", sans-serif' text-anchor="middle" fill="#2a2a2a" textLength="9.8" lengthAdjust="spacingAndGlyphs" class="t" >200</text>
<text x="105.2" y="184.6" font-size="6.5" font-family='"Liberation Sans", sans-serif' text-anchor="middle" fill="#2a2a2a" textLength="9.8" lengthAdjust="spacingAndGlyphs" class="t" >300</text>
<text x="129.9" y="184.6" font-size="6.5" font-family='"Liberation Sans", sans-serif' text-anchor="middle" fill="#2a2a2a" textLength="9.8" lengthAdjust="spacingAndGlyphs" class="t" >400</text>
<text x="154.6" y="184.6" font-size="6.5" font-family='"Liberation Sans", sans-serif' text-anchor="middle" fill="#2a2a2a" textLength="9.8" lengthAdjust="spacingAndGlyphs" class="t" >500</text>
<text x="28.4" y="178.3" font-size="6.5" font-family='"Liberation Sans", sans-serif' text-anchor="end" fill="#2a2a2a" textLength="3.3" lengthAdjust="spacingAndGlyphs" class="t" >6</text>
<text x="28.4" y="167.1" font-size="6.5" font-family='"Liberation Sans", sans-serif' text-anchor="end" fill="#2a2a2a" textLength="3.3" lengthAdjust="spacingAndGlyphs" class="t" >7</text>
<text x="28.4" y="155.9" font-size="6.5" font-family='"Liberation Sans", sans-serif' text-anchor="end" fill="#2a2a2a" textLength="3.3" lengthAdjust="spacingAndGlyphs" class="t" >8</text>
<path d="M31.1,175.8v-1 M31.1,153.4v1 M55.8,175.8v-1 M55.8,153.4v1 M80.5,175.8v-1 M80.5,153.4v1 M105.2,175.8v-1 M105.2,153.4v1 M129.9,175.8v-1 M129.9,153.4v1 M154.6,175.8v-1 M154.6,153.4v1 M31.1,175.8h1 M154.6,175.8h-1 M31.1,164.6h1 M154.6,164.6h-1 M31.1,153.4h1 M154.6,153.4h-1" stroke="#7a7a7a" stroke-width="0.8" fill="none"/>
<path d="M31.1,158 L31.5,157.9 L31.8,158 L32.2,158.3 L32.5,158.4 L32.9,158.5 L33.3,158.5 L33.6,158.5 L34,158.7 L34.3,158.9 L34.7,158.8 L35.1,158.9 L35.4,159.1 L35.8,159.3 L36.1,159.4 L36.5,159.4 L36.8,159.6 L37.2,159.9 L37.6,160.1 L37.9,160.4 L38.3,160.9 L38.6,161.2 L39,161.4 L39.4,161.8 L39.7,162.2 L40.1,162.4 L40.4,162.5 L40.8,162.8 L41.2,162.9 L41.5,162.7 L41.9,162.6 L42.2,162.7 L42.6,162.8 L43,162.6 L43.3,162.5 L43.7,162.5 L44,162.4 L44.4,162.3 L44.8,162.5 L45.1,162.5 L45.5,162.4 L45.8,162.2 L46.2,162.3 L46.6,162.5 L46.9,162.5 L47.3,162.6 L47.6,162.5 L48,162.3 L48.3,162.2 L48.7,162.2 L49.1,162 L49.4,161.9 L49.8,162 L50.1,162 L50.5,162.1 L50.9,162.3 L51.2,162.3 L51.6,162.5 L51.9,162.9 L52.3,163.1 L52.7,163.2 L53,163.5 L53.4,163.9 L53.7,164.3 L54.1,164.7 L54.5,165.1 L54.8,165.4 L55.2,165.7 L55.5,166 L55.9,166.3 L56.3,166.5 L56.6,167 L57,167.5 L57.3,167.8 L57.7,168 L58.1,168.6 L58.4,169.2 L58.8,169.4 L59.1,169.6 L59.5,169.9 L59.8,169.9 L60.2,169.8 L60.6,169.9 L60.9,169.8 L61.3,169.8 L61.6,170 L62,170.1 L62.4,170.1 L62.7,169.8 L63.1,169.5 L63.4,169.6 L63.8,170 L64.2,170 L64.5,169.6 L64.9,169.3 L65.2,169.3 L65.6,169.2 L66,168.9 L66.3,168.5 L66.7,168.3 L67,167.9 L67.4,167.5 L67.8,167.1 L68.1,166.9 L68.5,166.7 L68.8,166.6 L69.2,166.3 L69.6,166 L69.9,166.1 L70.3,166.2 L70.6,166 L71,165.9 L71.3,166 L71.7,166.4 L72.1,166.8 L72.4,167 L72.8,166.8 L73.1,166.8 L73.5,167.3 L73.9,167.6 L74.2,167.7 L74.6,168 L74.9,168.2 L75.3,168.4 L75.7,168.5 L76,168.6 L76.4,168.9 L76.7,169.2 L77.1,169.5 L77.5,169.9 L77.8,170.4 L78.2,170.5 L78.5,170.5 L78.9,170.6 L79.3,170.7 L79.6,170.8 L80,170.8 L80.3,170.9 L80.7,171.1 L81,171.3 L81.4,171.5 L81.8,171.4 L82.1,171.3 L82.5,171.1 L82.8,170.8 L83.2,170.4 L83.6,170 L83.9,169.9 L84.3,169.7 L84.6,169.3 L85,168.7 L85.4,168.4 L85.7,168.3 L86.1,168.4 L86.4,168.3 L86.8,167.9 L87.2,167.8 L87.5,167.6 L87.9,167.7 L88.2,167.9 L88.6,167.9 L89,167.8 L89.3,167.7 L89.7,167.7 L90,167.7 L90.4,167.8 L90.8,168 L91.1,167.9 L91.5,167.8 L91.8,167.8 L92.2,167.8 L92.5,167.7 L92.9,167.8 L93.3,168 L93.6,168.1 L94,168.4 L94.3,168.6 L94.7,168.9 L95.1,169 L95.4,169.2 L95.8,169.4 L96.1,169.7 L96.5,170 L96.9,170.1 L97.2,170.4 L97.6,170.7 L97.9,170.9 L98.3,171 L98.7,171.2 L99,171.4 L99.4,171.7 L99.7,171.6 L100.1,171.5 L100.5,171.6 L100.8,171.8 L101.2,171.8 L101.5,171.7 L101.9,171.5 L102.3,171.5 L102.6,171.3 L103,171.1 L103.3,171.1 L103.7,170.8 L104,170.4 L104.4,170.3 L104.8,170.1 L105.1,169.8 L105.5,169.7 L105.8,169.5 L106.2,169.3 L106.6,169.1 L106.9,168.9 L107.3,168.6 L107.6,168.5 L108,168.4 L108.4,168 L108.7,167.5 L109.1,167.5 L109.4,167.5 L109.8,167.4 L110.2,167.4 L110.5,167.3 L110.9,167.4 L111.2,167.5 L111.6,167.4 L112,167.4 L112.3,167.6 L112.7,167.7 L113,167.9 L113.4,167.8 L113.8,167.7 L114.1,167.7 L114.5,168 L114.8,168.3 L115.2,168.8 L115.5,169.2 L115.9,169.3 L116.3,169.5 L116.6,169.8 L117,170 L117.3,170.3 L117.7,170.8 L118.1,171.2 L118.4,171.3 L118.8,171.5 L119.1,171.7 L119.5,171.7 L119.9,171.9 L120.2,172.3 L120.6,172.5 L120.9,172.6 L121.3,172.8 L121.7,173 L122,173.2 L122.4,173.1 L122.7,173 L123.1,173.2 L123.5,173.4 L123.8,173.3 L124.2,173.1 L124.5,173.1 L124.9,173 L125.2,172.8 L125.6,172.8 L126,172.6 L126.3,172.4 L126.7,172.2 L127,171.7 L127.4,171.5 L127.8,171.4 L128.1,171.1 L128.5,171 L128.8,170.9 L129.2,170.5 L129.6,170 L129.9,169.7 L130.3,169.5 L130.6,169.3 L131,169.1 L131.4,168.9 L131.7,168.7 L132.1,168.7 L132.4,168.6 L132.8,168.6 L133.2,168.8 L133.5,168.7 L133.9,168.5 L134.2,168.6 L134.6,168.8 L135,168.9 L135.3,169 L135.7,169.1 L136,169.2 L136.4,169.4 L136.7,169.6 L137.1,169.6 L137.5,169.9 L137.8,170.3 L138.2,170.4 L138.5,170.5" stroke="#4040ff" stroke-width="0.8" fill="none" stroke-linejoin="round"/>
<path d="M31.1,162.4 L31.5,162.4 L31.8,162.4 L32.2,162.5 L32.5,162.5 L32.9,162.5 L33.3,162.6 L33.6,162.6 L34,162.7 L34.3,162.7 L34.7,162.8 L35.1,162.9 L35.4,162.9 L35.8,163 L36.1,163.1 L36.5,163.1 L36.8,163.2 L37.2,163.3 L37.6,163.3 L37.9,163.4 L38.3,163.5 L38.6,163.6 L39,163.7 L39.4,163.8 L39.7,163.9 L40.1,164 L40.4,164.2 L40.8,164.3 L41.2,164.5 L41.5,164.6 L41.9,164.8 L42.2,164.9 L42.6,165 L43,165.2 L43.3,165.3 L43.7,165.4 L44,165.5 L44.4,165.6 L44.8,165.7 L45.1,165.7 L45.5,165.7 L45.8,165.8 L46.2,165.8 L46.6,165.8 L46.9,165.8 L47.3,165.9 L47.6,165.9 L48,165.9 L48.3,165.9 L48.7,165.9 L49.1,166 L49.4,166 L49.8,166 L50.1,166 L50.5,166.1 L50.9,166.1 L51.2,166.2 L51.6,166.2 L51.9,166.3 L52.3,166.4 L52.7,166.5 L53,166.6 L53.4,166.7 L53.7,166.8 L54.1,166.9 L54.5,167 L54.8,167.1 L55.2,167.2 L55.5,167.3 L55.9,167.5 L56.3,167.6 L56.6,167.7 L57,167.8 L57.3,168 L57.7,168.1 L58.1,168.3 L58.4,168.4 L58.8,168.6 L59.1,168.8 L59.5,169 L59.8,169.2 L60.2,169.4 L60.6,169.6 L60.9,169.8 L61.3,170.1 L61.6,170.3 L62,170.5 L62.4,170.6 L62.7,170.8 L63.1,171 L63.4,171.1 L63.8,171.3 L64.2,171.4 L64.5,171.5 L64.9,171.6 L65.2,171.8 L65.6,171.9 L66,172 L66.3,172.1 L66.7,172.2 L67,172.3 L67.4,172.4 L67.8,172.4 L68.1,172.4 L68.5,172.4 L68.8,172.4 L69.2,172.3 L69.6,172.2 L69.9,172 L70.3,171.8 L70.6,171.5 L71,171.3 L71.3,171 L71.7,170.7 L72.1,170.5 L72.4,170.2 L72.8,170 L73.1,169.8 L73.5,169.7 L73.9,169.6 L74.2,169.5 L74.6,169.5 L74.9,169.6 L75.3,169.6 L75.7,169.6 L76,169.7 L76.4,169.8 L76.7,169.9 L77.1,170 L77.5,170.1 L77.8,170.2 L78.2,170.3 L78.5,170.4 L78.9,170.6 L79.3,170.7 L79.6,170.8 L80,170.9 L80.3,171.1 L80.7,171.3 L81,171.6 L81.4,171.9 L81.8,172.1 L82.1,172.4 L82.5,172.7 L82.8,173 L83.2,173.3 L83.6,173.6 L83.9,173.8 L84.3,174 L84.6,174.2 L85,174.4 L85.4,174.5 L85.7,174.6 L86.1,174.7 L86.4,174.7 L86.8,174.6 L87.2,174.5 L87.5,174.4 L87.9,174.2 L88.2,174.1 L88.6,173.9 L89,173.7 L89.3,173.5 L89.7,173.3 L90,173.1 L90.4,173 L90.8,172.9 L91.1,172.7 L91.5,172.6 L91.8,172.4 L92.2,172.3 L92.5,172.1 L92.9,172 L93.3,171.8 L93.6,171.7 L94,171.5 L94.3,171.4 L94.7,171.2 L95.1,171.1 L95.4,171 L95.8,170.9 L96.1,170.9 L96.5,170.8 L96.9,170.8 L97.2,170.8 L97.6,170.8 L97.9,170.8 L98.3,170.8 L98.7,170.9 L99,171 L99.4,171 L99.7,171.1 L100.1,171.2 L100.5,171.3 L100.8,171.4 L101.2,171.5 L101.5,171.6 L101.9,171.7 L102.3,171.8 L102.6,171.9 L103,172 L103.3,172 L103.7,172.1 L104,172.1 L104.4,172.1 L104.8,172.1 L105.1,172.1 L105.5,172 L105.8,172 L106.2,171.9 L106.6,171.8 L106.9,171.7 L107.3,171.6 L107.6,171.4 L108,171.3 L108.4,171.2 L108.7,171.1 L109.1,170.9 L109.4,170.8 L109.8,170.7 L110.2,170.5 L110.5,170.4 L110.9,170.3 L111.2,170.2 L111.6,170.1 L112,170 L112.3,169.9 L112.7,169.9 L113,169.9 L113.4,169.9 L113.8,169.9 L114.1,169.9 L114.5,170 L114.8,170.1 L115.2,170.2 L115.5,170.3 L115.9,170.4 L116.3,170.5 L116.6,170.7 L117,170.9 L117.3,171 L117.7,171.2 L118.1,171.4 L118.4,171.6 L118.8,171.8 L119.1,172 L119.5,172.2 L119.9,172.3 L120.2,172.5 L120.6,172.7 L120.9,172.9 L121.3,173.1 L121.7,173.2 L122,173.4 L122.4,173.5 L122.7,173.6 L123.1,173.7 L123.5,173.8 L123.8,173.8 L124.2,173.9 L124.5,173.9 L124.9,173.9 L125.2,174 L125.6,174 L126,174 L126.3,174 L126.7,174.1 L127,174.1 L127.4,174.1 L127.8,174.1 L128.1,174.2 L128.5,174.2 L128.8,174.2 L129.2,174.2 L129.6,174.2 L129.9,174.2 L130.3,174.2 L130.6,174.2 L131,174.2 L131.4,174.2 L131.7,174.2 L132.1,174.2 L132.4,174.2 L132.8,174.2 L133.2,174.1 L133.5,174.1 L133.9,174 L134.2,174 L134.6,173.9 L135,173.8 L135.3,173.8 L135.7,173.7 L136,173.6 L136.4,173.5 L136.7,173.4 L137.1,173.3 L137.5,173.2 L137.8,173.1 L138.2,173 L138.5,172.9" stroke="#ff3a3a" stroke-width="0.8" fill="none" stroke-dasharray="3.6 2.4" stroke-linejoin="round"/>
<text x="21.2" y="164.6" font-size="7.8" font-family='"Liberation Serif", serif' text-anchor="middle" fill="#2a2a2a" textLength="20.8" lengthAdjust="spacingAndGlyphs" transform="rotate(-90 21.2 164.6)" class="s" ><tspan font-style="italic">u</tspan>(m/s)</text>
<rect x="31.1" y="191.3" width="123.5" height="22.4" fill="none" stroke="#7a7a7a" stroke-width="0.9"/>
<text x="31.1" y="222.5" font-size="6.5" font-family='"Liberation Sans", sans-serif' text-anchor="middle" fill="#2a2a2a" textLength="3.3" lengthAdjust="spacingAndGlyphs" class="t" >0</text>
<text x="55.8" y="222.5" font-size="6.5" font-family='"Liberation Sans", sans-serif' text-anchor="middle" fill="#2a2a2a" textLength="9.8" lengthAdjust="spacingAndGlyphs" class="t" >100</text>
<text x="80.5" y="222.5" font-size="6.5" font-family='"Liberation Sans", sans-serif' text-anchor="middle" fill="#2a2a2a" textLength="9.8" lengthAdjust="spacingAndGlyphs" class="t" >200</text>
<text x="105.2" y="222.5" font-size="6.5" font-family='"Liberation Sans", sans-serif' text-anchor="middle" fill="#2a2a2a" textLength="9.8" lengthAdjust="spacingAndGlyphs" class="t" >300</text>
<text x="129.9" y="222.5" font-size="6.5" font-family='"Liberation Sans", sans-serif' text-anchor="middle" fill="#2a2a2a" textLength="9.8" lengthAdjust="spacingAndGlyphs" class="t" >400</text>
<text x="154.6" y="222.5" font-size="6.5" font-family='"Liberation Sans", sans-serif' text-anchor="middle" fill="#2a2a2a" textLength="9.8" lengthAdjust="spacingAndGlyphs" class="t" >500</text>
<text x="28.4" y="216.2" font-size="6.5" font-family='"Liberation Sans", sans-serif' text-anchor="end" fill="#2a2a2a" textLength="5.5" lengthAdjust="spacingAndGlyphs" class="t" >-2</text>
<text x="28.4" y="205" font-size="6.5" font-family='"Liberation Sans", sans-serif' text-anchor="end" fill="#2a2a2a" textLength="3.3" lengthAdjust="spacingAndGlyphs" class="t" >0</text>
<text x="28.4" y="193.8" font-size="6.5" font-family='"Liberation Sans", sans-serif' text-anchor="end" fill="#2a2a2a" textLength="3.3" lengthAdjust="spacingAndGlyphs" class="t" >2</text>
<path d="M31.1,213.7v-1 M31.1,191.3v1 M55.8,213.7v-1 M55.8,191.3v1 M80.5,213.7v-1 M80.5,191.3v1 M105.2,213.7v-1 M105.2,191.3v1 M129.9,213.7v-1 M129.9,191.3v1 M154.6,213.7v-1 M154.6,191.3v1 M31.1,213.7h1 M154.6,213.7h-1 M31.1,202.5h1 M154.6,202.5h-1 M31.1,191.3h1 M154.6,191.3h-1" stroke="#7a7a7a" stroke-width="0.8" fill="none"/>
<path d="M31.1,202.4 L31.4,202.9 L31.6,203.6 L31.9,204.2 L32.2,204.5 L32.4,204.9 L32.7,205.4 L33,205.7 L33.3,206 L33.5,206.4 L33.8,206.7 L34.1,207 L34.3,207.4 L34.6,207.6 L34.9,207.8 L35.1,207.9 L35.4,208.1 L35.7,208.3 L36,208.5 L36.2,208.5 L36.5,208.6 L36.8,208.5 L37,208.4 L37.3,208.6 L37.6,209.1 L37.8,209.1 L38.1,208.8 L38.4,208.7 L38.7,208.5 L38.9,208.3 L39.2,208.2 L39.5,208.4 L39.7,208.2 L40,207.8 L40.3,207.7 L40.5,207.7 L40.8,207.8 L41.1,207.8 L41.4,207.4 L41.6,207.3 L41.9,207.2 L42.2,207 L42.4,206.8 L42.7,206.6 L43,206.3 L43.2,206 L43.5,205.8 L43.8,205.6 L44.1,205.3 L44.3,205 L44.6,204.9 L44.9,204.8 L45.1,204.5 L45.4,204.2 L45.7,204 L45.9,203.9 L46.2,203.6 L46.5,203.4 L46.8,203.4 L47,203.1 L47.3,202.8 L47.6,202.6 L47.8,202.5 L48.1,202.3 L48.4,202 L48.6,201.7 L48.9,201.5 L49.2,201.3 L49.5,201.3 L49.7,200.9 L50,200.5 L50.3,200.5 L50.5,200.4 L50.8,200.1 L51.1,199.8 L51.3,199.7 L51.6,199.7 L51.9,199.7 L52.2,199.4 L52.4,199.1 L52.7,198.8 L53,198.8 L53.2,198.9 L53.5,198.7 L53.8,198.2 L54,198 L54.3,198.1 L54.6,197.9 L54.9,197.7 L55.1,197.5 L55.4,197.3 L55.7,197.3 L55.9,197.3 L56.2,197.2 L56.5,197.1 L56.7,197.3 L57,197.1 L57.3,197 L57.6,197 L57.8,196.9 L58.1,196.7 L58.4,196.6 L58.6,196.6 L58.9,196.5 L59.2,196.4 L59.4,196.6 L59.7,196.9 L60,196.9 L60.2,196.7 L60.5,196.8 L60.8,197 L61.1,197.1 L61.3,197.1 L61.6,197.1 L61.9,197.3 L62.1,197.5 L62.4,197.7 L62.7,197.8 L62.9,198 L63.2,198 L63.5,198.1 L63.8,198.8 L64,199.1 L64.3,198.8 L64.6,198.8 L64.8,199.4 L65.1,199.8 L65.4,199.9 L65.6,200.2 L65.9,200.5 L66.2,200.7 L66.5,200.9 L66.7,201.2 L67,201.5 L67.3,201.8 L67.5,202.2 L67.8,202.6 L68.1,202.9 L68.3,203.2 L68.6,203.6 L68.9,203.8 L69.2,203.8 L69.4,204.2 L69.7,204.6 L70,204.9 L70.2,205.3 L70.5,205.6 L70.8,205.8 L71,206.2 L71.3,206.5 L71.6,206.8 L71.9,207.1 L72.1,207.6 L72.4,207.8 L72.7,207.9 L72.9,208 L73.2,208.4 L73.5,208.8 L73.7,209.1 L74,209.1 L74.3,209.1 L74.6,209.4 L74.8,209.6 L75.1,209.6 L75.4,209.7 L75.6,209.6 L75.9,209.7 L76.2,210 L76.4,210.2 L76.7,210.2 L77,210.2 L77.3,210.2 L77.5,210.2 L77.8,210.2 L78.1,210.3 L78.3,210.1 L78.6,210.1 L78.9,210 L79.1,209.6 L79.4,209.4 L79.7,209.3 L80,209.3 L80.2,209.1 L80.5,208.6 L80.8,208.6 L81,208.8 L81.3,208.6 L81.6,208.4 L81.8,208.2 L82.1,207.9 L82.4,207.5 L82.7,207.1 L82.9,207 L83.2,207.1 L83.5,206.8 L83.7,206.4 L84,206 L84.3,205.6 L84.5,205.4 L84.8,205.2 L85.1,204.6 L85.4,204.3 L85.6,204.3 L85.9,204.1 L86.2,203.8 L86.4,203.6 L86.7,203.2 L87,202.8 L87.2,202.6 L87.5,202.4 L87.8,202 L88,201.8 L88.3,201.6 L88.6,201.3 L88.9,201.1 L89.1,200.9 L89.4,200.5 L89.7,200.2 L89.9,199.9 L90.2,199.6 L90.5,199.3 L90.7,199 L91,198.8 L91.3,198.7 L91.6,198.5 L91.8,198.3 L92.1,198.1 L92.4,197.8 L92.6,197.6 L92.9,197.4 L93.2,197.1 L93.4,196.8 L93.7,196.9 L94,196.9 L94.3,196.5 L94.5,196.3 L94.8,196.3 L95.1,196.1 L95.3,196.1 L95.6,196.1 L95.9,195.9 L96.1,195.8 L96.4,195.8 L96.7,195.8 L97,195.6 L97.2,195.8 L97.5,196 L97.8,195.9 L98,195.9 L98.3,196 L98.6,196.1 L98.8,196.3 L99.1,196.4 L99.4,196.6 L99.7,196.8 L99.9,197.1 L100.2,197.4 L100.5,197.5 L100.7,197.7 L101,198.1 L101.3,198.4 L101.5,198.7 L101.8,199.2 L102.1,199.5 L102.4,199.7 L102.6,200 L102.9,200.2 L103.2,200.4 L103.4,200.7 L103.7,201.2 L104,201.5 L104.2,201.9 L104.5,202.1 L104.8,202.1 L105.1,202.6 L105.3,203 L105.6,203.2 L105.9,203.6 L106.1,204 L106.4,204.1 L106.7,204.2 L106.9,204.7 L107.2,205 L107.5,205.2 L107.8,205.5 L108,205.7 L108.3,206 L108.6,206.4 L108.8,206.7 L109.1,206.9 L109.4,207 L109.6,207.1 L109.9,207.3 L110.2,207.5 L110.5,207.8 L110.7,208.1 L111,208.3 L111.3,208.3 L111.5,208.4 L111.8,208.8 L112.1,209.1 L112.3,209.3 L112.6,209.5 L112.9,209.7 L113.2,209.7 L113.4,209.8 L113.7,209.8 L114,210 L114.2,210.1 L114.5,210.2 L114.8,210.4 L115,210.5 L115.3,210.8 L115.6,211 L115.9,211 L116.1,211.1 L116.4,211.2 L116.7,211.3 L116.9,211.2 L117.2,211.1 L117.5,211.1 L117.7,211.3 L118,211.3 L118.3,211.2 L118.5,211.1 L118.8,211.1 L119.1,211 L119.4,210.8 L119.6,210.5 L119.9,210.1 L120.2,209.9 L120.4,209.8 L120.7,209.7 L121,209.6 L121.2,209.2 L121.5,208.9 L121.8,208.5 L122.1,208.3 L122.3,208.4 L122.6,208.1 L122.9,207.7 L123.1,207.4 L123.4,207.2 L123.7,206.8 L123.9,206.4 L124.2,206 L124.5,205.8 L124.8,205.7 L125,205.3 L125.3,204.9 L125.6,204.8 L125.8,204.6 L126.1,204.2 L126.4,203.8 L126.6,203.6 L126.9,203.5 L127.2,203.3 L127.5,203.2 L127.7,202.9 L128,202.7 L128.3,202.4 L128.5,202.2 L128.8,202.2 L129.1,202.1 L129.3,201.8 L129.6,201.5 L129.9,201.5 L130.2,201.5 L130.4,201.2 L130.7,200.8 L131,200.7 L131.2,200.9 L131.5,200.7 L131.8,200.4 L132,200.5 L132.3,200.4 L132.6,199.9 L132.9,199.7 L133.1,199.6 L133.4,199.4 L133.7,199.1 L133.9,198.8 L134.2,198.7 L134.5,198.5 L134.7,198.5 L135,198.3 L135.3,198 L135.6,197.7 L135.8,197.6 L136.1,197.6 L136.4,197.5 L136.6,197.4 L136.9,197.6 L137.2,197.8 L137.4,198.1 L137.7,198.4 L138,198.6 L138.3,198.9 L138.5,199.5 L138.8,200" stroke="#4040ff" stroke-width="0.8" fill="none" stroke-linejoin="round"/>
<path d="M31.1,200.4 L31.5,200.4 L31.8,200.4 L32.2,200.4 L32.5,200.3 L32.9,200.3 L33.3,200.3 L33.6,200.3 L34,200.3 L34.3,200.3 L34.7,200.3 L35,200.3 L35.4,200.3 L35.8,200.3 L36.1,200.3 L36.5,200.3 L36.8,200.3 L37.2,200.3 L37.6,200.3 L37.9,200.3 L38.3,200.3 L38.6,200.3 L39,200.3 L39.3,200.3 L39.7,200.3 L40.1,200.3 L40.4,200.3 L40.8,200.3 L41.1,200.3 L41.5,200.3 L41.9,200.3 L42.2,200.3 L42.6,200.3 L42.9,200.3 L43.3,200.3 L43.6,200.3 L44,200.3 L44.4,200.3 L44.7,200.3 L45.1,200.3 L45.4,200.3 L45.8,200.3 L46.2,200.3 L46.5,200.3 L46.9,200.3 L47.2,200.3 L47.6,200.3 L48,200.3 L48.3,200.3 L48.7,200.3 L49,200.3 L49.4,200.3 L49.7,200.3 L50.1,200.3 L50.5,200.3 L50.8,200.3 L51.2,200.3 L51.5,200.3 L51.9,200.3 L52.3,200.3 L52.6,200.3 L53,200.3 L53.3,200.4 L53.7,200.4 L54,200.4 L54.4,200.4 L54.8,200.4 L55.1,200.4 L55.5,200.4 L55.8,200.4 L56.2,200.4 L56.6,200.4 L56.9,200.4 L57.3,200.4 L57.6,200.5 L58,200.5 L58.3,200.5 L58.7,200.5 L59.1,200.5 L59.4,200.5 L59.8,200.5 L60.1,200.5 L60.5,200.5 L60.9,200.5 L61.2,200.6 L61.6,200.6 L61.9,200.6 L62.3,200.6 L62.6,200.6 L63,200.6 L63.4,200.6 L63.7,200.6 L64.1,200.6 L64.4,200.6 L64.8,200.7 L65.2,200.7 L65.5,200.7 L65.9,200.7 L66.2,200.7 L66.6,200.7 L67,200.7 L67.3,200.7 L67.7,200.8 L68,200.8 L68.4,200.8 L68.7,200.8 L69.1,200.8 L69.5,200.8 L69.8,200.8 L70.2,200.9 L70.5,200.9 L70.9,200.9 L71.3,200.9 L71.6,200.9 L72,200.9 L72.3,200.9 L72.7,201 L73,201 L73.4,201 L73.8,201 L74.1,201 L74.5,201 L74.8,201.1 L75.2,201.1 L75.6,201.1 L75.9,201.1 L76.3,201.1 L76.6,201.2 L77,201.2 L77.3,201.2 L77.7,201.2 L78.1,201.3 L78.4,201.3 L78.8,201.3 L79.1,201.4 L79.5,201.4 L79.9,201.4 L80.2,201.5 L80.6,201.5 L80.9,201.5 L81.3,201.6 L81.7,201.6 L82,201.7 L82.4,201.7 L82.7,201.7 L83.1,201.8 L83.4,201.8 L83.8,201.8 L84.2,201.9 L84.5,201.9 L84.9,201.9 L85.2,202 L85.6,202 L86,202 L86.3,202.1 L86.7,202.1 L87,202.1 L87.4,202.1 L87.7,202.1 L88.1,202.2 L88.5,202.2 L88.8,202.2 L89.2,202.2 L89.5,202.2 L89.9,202.2 L90.3,202.2 L90.6,202.2 L91,202.2 L91.3,202.2 L91.7,202.2 L92,202.2 L92.4,202.1 L92.8,202.1 L93.1,202.1 L93.5,202 L93.8,202 L94.2,201.9 L94.6,201.9 L94.9,201.8 L95.3,201.8 L95.6,201.7 L96,201.7 L96.4,201.7 L96.7,201.6 L97.1,201.6 L97.4,201.5 L97.8,201.5 L98.1,201.4 L98.5,201.4 L98.9,201.4 L99.2,201.4 L99.6,201.3 L99.9,201.3 L100.3,201.3 L100.7,201.3 L101,201.3 L101.4,201.2 L101.7,201.2 L102.1,201.2 L102.4,201.2 L102.8,201.1 L103.2,201.1 L103.5,201.1 L103.9,201.1 L104.2,201.1 L104.6,201 L105,201 L105.3,201 L105.7,201 L106,201 L106.4,200.9 L106.7,200.9 L107.1,200.9 L107.5,200.9 L107.8,200.9 L108.2,200.9 L108.5,200.9 L108.9,200.9 L109.3,200.8 L109.6,200.8 L110,200.8 L110.3,200.8 L110.7,200.8 L111.1,200.8 L111.4,200.8 L111.8,200.8 L112.1,200.8 L112.5,200.8 L112.8,200.9 L113.2,200.9 L113.6,200.9 L113.9,201 L114.3,201 L114.6,201 L115,201.1 L115.4,201.1 L115.7,201.2 L116.1,201.2 L116.4,201.3 L116.8,201.3 L117.1,201.4 L117.5,201.5 L117.9,201.5 L118.2,201.6 L118.6,201.6 L118.9,201.7 L119.3,201.8 L119.7,201.8 L120,201.9 L120.4,202 L120.7,202 L121.1,202.1 L121.4,202.1 L121.8,202.2 L122.2,202.2 L122.5,202.3 L122.9,202.3 L123.2,202.3 L123.6,202.4 L124,202.4 L124.3,202.4 L124.7,202.5 L125,202.5 L125.4,202.5 L125.7,202.5 L126.1,202.5 L126.5,202.5 L126.8,202.5 L127.2,202.5 L127.5,202.5 L127.9,202.5 L128.3,202.5 L128.6,202.5 L129,202.5 L129.3,202.4 L129.7,202.4 L130.1,202.4 L130.4,202.4 L130.8,202.4 L131.1,202.4 L131.5,202.4 L131.8,202.3 L132.2,202.3 L132.6,202.3 L132.9,202.3 L133.3,202.2 L133.6,202.2 L134,202.2 L134.4,202.1 L134.7,202.1 L135.1,202.1 L135.4,202 L135.8,202 L136.1,202 L136.5,201.9 L136.9,201.9 L137.2,201.8 L137.6,201.8 L137.9,201.7 L138.3,201.7" stroke="#ff3a3a" stroke-width="0.8" fill="none" stroke-dasharray="3.6 2.4" stroke-linejoin="round"/>
<text x="19.3" y="202.5" font-size="7.8" font-family='"Liberation Serif", serif' text-anchor="middle" fill="#2a2a2a" textLength="21" lengthAdjust="spacingAndGlyphs" transform="rotate(-90 19.3 202.5)" class="s" ><tspan font-style="italic">v</tspan>(m/s)</text>
<rect x="31.1" y="229.5" width="123.5" height="22.4" fill="none" stroke="#7a7a7a" stroke-width="0.9"/>
<text x="31.1" y="260.7" font-size="6.5" font-family='"Liberation Sans", sans-serif' text-anchor="middle" fill="#2a2a2a" textLength="3.3" lengthAdjust="spacingAndGlyphs" class="t" >0</text>
<text x="55.8" y="260.7" font-size="6.5" font-family='"Liberation Sans", sans-serif' text-anchor="middle" fill="#2a2a2a" textLength="9.8" lengthAdjust="spacingAndGlyphs" class="t" >100</text>
<text x="80.5" y="260.7" font-size="6.5" font-family='"Liberation Sans", sans-serif' text-anchor="middle" fill="#2a2a2a" textLength="9.8" lengthAdjust="spacingAndGlyphs" class="t" >200</text>
<text x="105.2" y="260.7" font-size="6.5" font-family='"Liberation Sans", sans-serif' text-anchor="middle" fill="#2a2a2a" textLength="9.8" lengthAdjust="spacingAndGlyphs" class="t" >300</text>
<text x="129.9" y="260.7" font-size="6.5" font-family='"Liberation Sans", sans-serif' text-anchor="middle" fill="#2a2a2a" textLength="9.8" lengthAdjust="spacingAndGlyphs" class="t" >400</text>
<text x="154.6" y="260.7" font-size="6.5" font-family='"Liberation Sans", sans-serif' text-anchor="middle" fill="#2a2a2a" textLength="9.8" lengthAdjust="spacingAndGlyphs" class="t" >500</text>
<text x="28.4" y="254.4" font-size="6.5" font-family='"Liberation Sans", sans-serif' text-anchor="end" fill="#2a2a2a" textLength="13.7" lengthAdjust="spacingAndGlyphs" class="t" >-0.05</text>
<text x="28.4" y="243.2" font-size="6.5" font-family='"Liberation Sans", sans-serif' text-anchor="end" fill="#2a2a2a" textLength="3.3" lengthAdjust="spacingAndGlyphs" class="t" >0</text>
<text x="28.4" y="232" font-size="6.5" font-family='"Liberation Sans", sans-serif' text-anchor="end" fill="#2a2a2a" textLength="11.5" lengthAdjust="spacingAndGlyphs" class="t" >0.05</text>
<path d="M31.1,251.9v-1 M31.1,229.5v1 M55.8,251.9v-1 M55.8,229.5v1 M80.5,251.9v-1 M80.5,229.5v1 M105.2,251.9v-1 M105.2,229.5v1 M129.9,251.9v-1 M129.9,229.5v1 M154.6,251.9v-1 M154.6,229.5v1 M31.1,251.9h1 M154.6,251.9h-1 M31.1,240.7h1 M154.6,240.7h-1 M31.1,229.5h1 M154.6,229.5h-1" stroke="#7a7a7a" stroke-width="0.8" fill="none"/>
<path d="M31.1,240.7 L37.3,236.7 L41.7,239.4 L48.6,242 L53.8,244.5 L58,245 L63.2,241.1 L69.1,239.4 L74.3,236.7 L77.8,236.7 L81.2,239.4 L89.9,243.2 L96.1,245 L98.8,245 L102.5,241.4 L107.9,239.1 L114.1,236.2 L117.8,236.2 L122.2,239.6 L129.4,241.6 L135.8,244.5 L138.8,242.3" stroke="#4040ff" stroke-width="0.8" fill="none"/>
<path d="M31.1,240.7 L37.3,236.7 L41.7,239.4 L48.6,242 L53.8,244.5 L58,245 L63.2,241.1 L69.1,239.4 L74.3,236.7 L77.8,236.7 L81.2,239.4 L89.9,243.2 L96.1,245 L98.8,245 L102.5,241.4 L107.9,239.1 L114.1,236.2 L117.8,236.2 L122.2,239.6 L129.4,241.6 L135.8,244.5 L138.8,242.3" stroke="#ff3a3a" stroke-width="0.95" fill="none" stroke-dasharray="4.2 1.8"/>
<text x="10.6" y="240.7" font-size="7.8" font-family='"Liberation Serif", serif' text-anchor="middle" fill="#2a2a2a" textLength="24.8" lengthAdjust="spacingAndGlyphs" transform="rotate(-90 10.6 240.7)" class="s" ><tspan font-style="italic">r</tspan>(rad/s)</text>
<text x="92.8" y="268.6" font-size="7.4" font-family='"Liberation Serif", serif' text-anchor="middle" fill="#2a2a2a" class="s" ><tspan font-style="italic">t</tspan>(s)</text>
<text x="92.8" y="277.1" font-size="8" font-family='"Liberation Serif", serif' text-anchor="middle" fill="#2a2a2a" class="s" >(c)</text>
<rect x="31.1" y="286.6" width="123.5" height="22.4" fill="none" stroke="#7a7a7a" stroke-width="0.9"/>
<text x="31.1" y="317.8" font-size="6.5" font-family='"Liberation Sans", sans-serif' text-anchor="middle" fill="#2a2a2a" textLength="3.3" lengthAdjust="spacingAndGlyphs" class="t" >0</text>
<text x="51.7" y="317.8" font-size="6.5" font-family='"Liberation Sans", sans-serif' text-anchor="middle" fill="#2a2a2a" textLength="9.8" lengthAdjust="spacingAndGlyphs" class="t" >100</text>
<text x="72.3" y="317.8" font-size="6.5" font-family='"Liberation Sans", sans-serif' text-anchor="middle" fill="#2a2a2a" textLength="9.8" lengthAdjust="spacingAndGlyphs" class="t" >200</text>
<text x="92.8" y="317.8" font-size="6.5" font-family='"Liberation Sans", sans-serif' text-anchor="middle" fill="#2a2a2a" textLength="9.8" lengthAdjust="spacingAndGlyphs" class="t" >300</text>
<text x="113.4" y="317.8" font-size="6.5" font-family='"Liberation Sans", sans-serif' text-anchor="middle" fill="#2a2a2a" textLength="9.8" lengthAdjust="spacingAndGlyphs" class="t" >400</text>
<text x="134" y="317.8" font-size="6.5" font-family='"Liberation Sans", sans-serif' text-anchor="middle" fill="#2a2a2a" textLength="9.8" lengthAdjust="spacingAndGlyphs" class="t" >500</text>
<text x="154.6" y="317.8" font-size="6.5" font-family='"Liberation Sans", sans-serif' text-anchor="middle" fill="#2a2a2a" textLength="9.8" lengthAdjust="spacingAndGlyphs" class="t" >600</text>
<text x="28.4" y="311.5" font-size="6.5" font-family='"Liberation Sans", sans-serif' text-anchor="end" fill="#2a2a2a" textLength="3.3" lengthAdjust="spacingAndGlyphs" class="t" >4</text>
<text x="28.4" y="300.3" font-size="6.5" font-family='"Liberation Sans", sans-serif' text-anchor="end" fill="#2a2a2a" textLength="3.3" lengthAdjust="spacingAndGlyphs" class="t" >6</text>
<text x="28.4" y="289.1" font-size="6.5" font-family='"Liberation Sans", sans-serif' text-anchor="end" fill="#2a2a2a" textLength="3.3" lengthAdjust="spacingAndGlyphs" class="t" >8</text>
<path d="M31.1,309v-1 M31.1,286.6v1 M51.7,309v-1 M51.7,286.6v1 M72.3,309v-1 M72.3,286.6v1 M92.8,309v-1 M92.8,286.6v1 M113.4,309v-1 M113.4,286.6v1 M134,309v-1 M134,286.6v1 M154.6,309v-1 M154.6,286.6v1 M31.1,309h1 M154.6,309h-1 M31.1,297.8h1 M154.6,297.8h-1 M31.1,286.6h1 M154.6,286.6h-1" stroke="#7a7a7a" stroke-width="0.8" fill="none"/>
<path d="M31.1,292.1 L31.5,292 L31.9,292 L32.3,292 L32.7,292 L33,292.3 L33.4,292.4 L33.8,292.4 L34.2,292.3 L34.6,292.3 L35,292.5 L35.4,293 L35.8,293.5 L36.2,293.9 L36.6,294.3 L36.9,294.5 L37.3,294.9 L37.7,295.4 L38.1,295.8 L38.5,296 L38.9,296.3 L39.3,296.7 L39.7,297 L40.1,297.2 L40.5,297.5 L40.8,297.7 L41.2,297.9 L41.6,298 L42,298.1 L42.4,298.2 L42.8,298.1 L43.2,298.1 L43.6,298.2 L44,298.1 L44.3,297.9 L44.7,297.7 L45.1,297.6 L45.5,297.5 L45.9,297.2 L46.3,296.9 L46.7,296.9 L47.1,296.8 L47.5,296.6 L47.9,296.4 L48.2,296.2 L48.6,296 L49,296 L49.4,295.9 L49.8,295.6 L50.2,295.3 L50.6,295.2 L51,295 L51.4,295 L51.8,295.1 L52.1,294.9 L52.5,294.9 L52.9,294.9 L53.3,295 L53.7,295 L54.1,295 L54.5,295.2 L54.9,295.4 L55.3,295.6 L55.6,296 L56,296.4 L56.4,296.6 L56.8,296.8 L57.2,297.2 L57.6,297.7 L58,298.1 L58.4,298.2 L58.8,298.4 L59.2,298.5 L59.5,298.4 L59.9,298.4 L60.3,298.4 L60.7,298.5 L61.1,298.7 L61.5,298.7 L61.9,298.4 L62.3,298.2 L62.7,298.2 L63.1,298.1 L63.4,298 L63.8,298.1 L64.2,298.2 L64.6,298.1 L65,297.8 L65.4,297.7 L65.8,297.7 L66.2,297.5 L66.6,297.3 L66.9,297.2 L67.3,297 L67.7,296.9 L68.1,296.8 L68.5,296.5 L68.9,296.4 L69.3,296.3 L69.7,296.3 L70.1,296.2 L70.5,295.8 L70.8,295.4 L71.2,295.2 L71.6,295 L72,294.8 L72.4,294.5 L72.8,294.3 L73.2,294.3 L73.6,294.3 L74,294.2 L74.3,294.1 L74.7,294.3 L75.1,294.5 L75.5,294.6 L75.9,294.5 L76.3,294.4 L76.7,294.6 L77.1,294.8 L77.5,295 L77.9,295 L78.2,295.4 L78.6,296 L79,296.6 L79.4,296.9 L79.8,297.1 L80.2,297.2 L80.6,297.3 L81,297.4 L81.4,297.4 L81.8,297.4 L82.1,297.1 L82.5,296.7 L82.9,296.6 L83.3,296.7 L83.7,296.6 L84.1,296.3 L84.5,296.2 L84.9,296.3 L85.3,296.4 L85.6,296.5 L86,296.7 L86.4,297 L86.8,297.4 L87.2,297.8 L87.6,298.1 L88,298.3 L88.4,298.5 L88.8,298.8 L89.2,298.9 L89.5,299.1 L89.9,299.5 L90.3,299.8 L90.7,300.1 L91.1,300.5 L91.5,300.9 L91.9,300.9 L92.3,301 L92.7,301.2 L93.1,301.4 L93.4,301.5 L93.8,301.7 L94.2,301.8 L94.6,301.8 L95,301.8 L95.4,302 L95.8,302.2 L96.2,302.1 L96.6,302 L96.9,301.9 L97.3,301.9 L97.7,301.8 L98.1,301.7 L98.5,301.6 L98.9,301.5 L99.3,301.3 L99.7,301.1 L100.1,301 L100.5,300.5 L100.8,300 L101.2,300 L101.6,300 L102,299.6 L102.4,299.3 L102.8,299.3 L103.2,299.5 L103.6,299.6 L104,299.7 L104.4,299.8 L104.7,300.1 L105.1,300.4 L105.5,300.6 L105.9,300.9 L106.3,301.3 L106.7,301.6 L107.1,301.9 L107.5,302.2 L107.9,302.3 L108.2,302.6 L108.6,303 L109,303.2 L109.4,303.1 L109.8,303 L110.2,303 L110.6,303 L111,302.9 L111.4,302.8 L111.8,302.7 L112.1,302.8 L112.5,302.7 L112.9,302.5 L113.3,302.4 L113.7,302.3 L114.1,302.2 L114.5,301.9 L114.9,301.7 L115.3,301.7 L115.7,301.7 L116,301.6 L116.4,301.5 L116.8,301.3 L117.2,301.1 L117.6,301.2 L118,301.3 L118.4,301.3 L118.8,301.3 L119.2,301.2 L119.5,301.1 L119.9,301.3 L120.3,301.4 L120.7,301.5 L121.1,301.8 L121.5,301.9 L121.9,301.9 L122.3,302.2 L122.7,302.5 L123.1,302.7 L123.4,302.9 L123.8,303.1 L124.2,303.4 L124.6,303.5 L125,303.4 L125.4,303.6 L125.8,303.8 L126.2,303.7 L126.6,303.5 L127,303.3 L127.3,303.1 L127.7,303.1 L128.1,303.2 L128.5,302.9 L128.9,302.6 L129.3,302.2 L129.7,301.9 L130.1,301.6 L130.5,301.3 L130.8,301.1 L131.2,301.1 L131.6,301 L132,300.9 L132.4,300.7 L132.8,300.5 L133.2,300.2 L133.6,300.1 L134,300.3 L134.4,300.5 L134.7,300.3 L135.1,300.2 L135.5,300.3 L135.9,300.7 L136.3,300.9 L136.7,301 L137.1,301.3 L137.5,301.5 L137.9,301.5 L138.3,301.4 L138.6,301.8 L139,302.1 L139.4,302.2 L139.8,302.2 L140.2,302.2 L140.6,302.3 L141,302.6 L141.4,302.8 L141.8,303 L142.1,303.3 L142.5,303.4 L142.9,303.4 L143.3,303.5 L143.7,303.8 L144.1,304 L144.5,304.2 L144.9,304.4 L145.3,304.7 L145.7,304.8 L146,304.8 L146.4,304.9 L146.8,305.1 L147.2,305.3 L147.6,305.5" stroke="#4040ff" stroke-width="0.8" fill="none" stroke-linejoin="round"/>
<path d="M31.1,295.7 L31.5,295.7 L31.9,295.7 L32.3,295.7 L32.7,295.7 L33,295.7 L33.4,295.8 L33.8,295.8 L34.2,295.9 L34.6,295.9 L35,295.9 L35.4,296 L35.8,296.1 L36.2,296.1 L36.6,296.2 L36.9,296.3 L37.3,296.5 L37.7,296.7 L38.1,296.9 L38.5,297.2 L38.9,297.5 L39.3,297.7 L39.7,298 L40.1,298.3 L40.5,298.6 L40.8,298.8 L41.2,299 L41.6,299.2 L42,299.4 L42.4,299.6 L42.8,299.7 L43.2,299.9 L43.6,300.1 L44,300.3 L44.3,300.4 L44.7,300.6 L45.1,300.7 L45.5,300.8 L45.9,300.9 L46.3,300.9 L46.7,301 L47.1,301 L47.5,301 L47.9,301 L48.2,301 L48.6,301 L49,300.9 L49.4,300.9 L49.8,300.9 L50.2,300.9 L50.6,300.8 L51,300.8 L51.4,300.8 L51.8,300.8 L52.1,300.7 L52.5,300.7 L52.9,300.7 L53.3,300.6 L53.7,300.6 L54.1,300.6 L54.5,300.5 L54.9,300.5 L55.3,300.4 L55.6,300.4 L56,300.3 L56.4,300.2 L56.8,300.2 L57.2,300.1 L57.6,300 L58,300 L58.4,299.9 L58.8,299.8 L59.2,299.8 L59.5,299.7 L59.9,299.7 L60.3,299.6 L60.7,299.6 L61.1,299.5 L61.5,299.5 L61.9,299.5 L62.3,299.5 L62.7,299.5 L63.1,299.5 L63.4,299.5 L63.8,299.5 L64.2,299.6 L64.6,299.6 L65,299.7 L65.4,299.7 L65.8,299.8 L66.2,299.8 L66.6,299.9 L66.9,300 L67.3,300 L67.7,300.1 L68.1,300.1 L68.5,300.2 L68.9,300.2 L69.3,300.2 L69.7,300.3 L70.1,300.3 L70.5,300.3 L70.8,300.3 L71.2,300.3 L71.6,300.2 L72,300.1 L72.4,299.9 L72.8,299.7 L73.2,299.5 L73.6,299.3 L74,299.1 L74.3,298.8 L74.7,298.6 L75.1,298.4 L75.5,298.2 L75.9,298.1 L76.3,298 L76.7,297.9 L77.1,297.7 L77.5,297.6 L77.9,297.5 L78.2,297.4 L78.6,297.3 L79,297.2 L79.4,297.1 L79.8,297 L80.2,297 L80.6,296.9 L81,296.9 L81.4,296.9 L81.8,297 L82.1,297 L82.5,297.2 L82.9,297.3 L83.3,297.5 L83.7,297.7 L84.1,297.9 L84.5,298.1 L84.9,298.3 L85.3,298.6 L85.6,298.8 L86,299 L86.4,299.2 L86.8,299.4 L87.2,299.5 L87.6,299.7 L88,299.8 L88.4,300 L88.8,300.1 L89.2,300.3 L89.5,300.4 L89.9,300.6 L90.3,300.7 L90.7,300.8 L91.1,301 L91.5,301.1 L91.9,301.2 L92.3,301.3 L92.7,301.4 L93.1,301.4 L93.4,301.5 L93.8,301.6 L94.2,301.7 L94.6,301.7 L95,301.8 L95.4,301.9 L95.8,301.9 L96.2,302 L96.6,302 L96.9,302.1 L97.3,302.1 L97.7,302.2 L98.1,302.2 L98.5,302.3 L98.9,302.3 L99.3,302.4 L99.7,302.4 L100.1,302.4 L100.5,302.5 L100.8,302.5 L101.2,302.5 L101.6,302.6 L102,302.6 L102.4,302.6 L102.8,302.7 L103.2,302.7 L103.6,302.8 L104,302.8 L104.4,302.8 L104.7,302.9 L105.1,302.9 L105.5,303 L105.9,303 L106.3,303 L106.7,303.1 L107.1,303.1 L107.5,303.2 L107.9,303.2 L108.2,303.3 L108.6,303.3 L109,303.4 L109.4,303.5 L109.8,303.5 L110.2,303.6 L110.6,303.8 L111,304 L111.4,304.2 L111.8,304.4 L112.1,304.7 L112.5,304.9 L112.9,305.2 L113.3,305.4 L113.7,305.6 L114.1,305.7 L114.5,305.8 L114.9,305.9 L115.3,305.9 L115.7,305.9 L116,305.9 L116.4,305.8 L116.8,305.7 L117.2,305.6 L117.6,305.5 L118,305.4 L118.4,305.3 L118.8,305.2 L119.2,305.1 L119.5,305 L119.9,304.9 L120.3,304.8 L120.7,304.7 L121.1,304.6 L121.5,304.5 L121.9,304.4 L122.3,304.4 L122.7,304.3 L123.1,304.3 L123.4,304.2 L123.8,304.2 L124.2,304.1 L124.6,304.1 L125,304 L125.4,304 L125.8,303.9 L126.2,303.9 L126.6,303.8 L127,303.7 L127.3,303.7 L127.7,303.6 L128.1,303.5 L128.5,303.4 L128.9,303.3 L129.3,303.2 L129.7,303.1 L130.1,302.9 L130.5,302.8 L130.8,302.7 L131.2,302.6 L131.6,302.4 L132,302.3 L132.4,302.2 L132.8,302.2 L133.2,302.1 L133.6,302.1 L134,302 L134.4,302 L134.7,301.9 L135.1,301.9 L135.5,301.9 L135.9,301.8 L136.3,301.8 L136.7,301.8 L137.1,301.8 L137.5,301.7 L137.9,301.7 L138.3,301.7 L138.6,301.7 L139,301.7 L139.4,301.8 L139.8,301.8 L140.2,301.9 L140.6,301.9 L141,302 L141.4,302.1 L141.8,302.3 L142.1,302.4 L142.5,302.5 L142.9,302.7 L143.3,302.9 L143.7,303 L144.1,303.2 L144.5,303.4 L144.9,303.6 L145.3,303.9 L145.7,304.1 L146,304.3 L146.4,304.6 L146.8,304.8 L147.2,305.1 L147.6,305.4" stroke="#ff3a3a" stroke-width="0.8" fill="none" stroke-dasharray="3.6 2.4" stroke-linejoin="round"/>
<text x="21.2" y="297.8" font-size="7.8" font-family='"Liberation Serif", serif' text-anchor="middle" fill="#2a2a2a" textLength="20.8" lengthAdjust="spacingAndGlyphs" transform="rotate(-90 21.2 297.8)" class="s" ><tspan font-style="italic">u</tspan>(m/s)</text>
<rect x="31.1" y="324.5" width="123.5" height="22.4" fill="none" stroke="#7a7a7a" stroke-width="0.9"/>
<text x="31.1" y="355.7" font-size="6.5" font-family='"Liberation Sans", sans-serif' text-anchor="middle" fill="#2a2a2a" textLength="3.3" lengthAdjust="spacingAndGlyphs" class="t" >0</text>
<text x="51.7" y="355.7" font-size="6.5" font-family='"Liberation Sans", sans-serif' text-anchor="middle" fill="#2a2a2a" textLength="9.8" lengthAdjust="spacingAndGlyphs" class="t" >100</text>
<text x="72.3" y="355.7" font-size="6.5" font-family='"Liberation Sans", sans-serif' text-anchor="middle" fill="#2a2a2a" textLength="9.8" lengthAdjust="spacingAndGlyphs" class="t" >200</text>
<text x="92.8" y="355.7" font-size="6.5" font-family='"Liberation Sans", sans-serif' text-anchor="middle" fill="#2a2a2a" textLength="9.8" lengthAdjust="spacingAndGlyphs" class="t" >300</text>
<text x="113.4" y="355.7" font-size="6.5" font-family='"Liberation Sans", sans-serif' text-anchor="middle" fill="#2a2a2a" textLength="9.8" lengthAdjust="spacingAndGlyphs" class="t" >400</text>
<text x="134" y="355.7" font-size="6.5" font-family='"Liberation Sans", sans-serif' text-anchor="middle" fill="#2a2a2a" textLength="9.8" lengthAdjust="spacingAndGlyphs" class="t" >500</text>
<text x="154.6" y="355.7" font-size="6.5" font-family='"Liberation Sans", sans-serif' text-anchor="middle" fill="#2a2a2a" textLength="9.8" lengthAdjust="spacingAndGlyphs" class="t" >600</text>
<text x="28.4" y="349.4" font-size="6.5" font-family='"Liberation Sans", sans-serif' text-anchor="end" fill="#2a2a2a" textLength="5.5" lengthAdjust="spacingAndGlyphs" class="t" >-2</text>
<text x="28.4" y="338.2" font-size="6.5" font-family='"Liberation Sans", sans-serif' text-anchor="end" fill="#2a2a2a" textLength="3.3" lengthAdjust="spacingAndGlyphs" class="t" >0</text>
<text x="28.4" y="327" font-size="6.5" font-family='"Liberation Sans", sans-serif' text-anchor="end" fill="#2a2a2a" textLength="3.3" lengthAdjust="spacingAndGlyphs" class="t" >2</text>
<path d="M31.1,346.9v-1 M31.1,324.5v1 M51.7,346.9v-1 M51.7,324.5v1 M72.3,346.9v-1 M72.3,324.5v1 M92.8,346.9v-1 M92.8,324.5v1 M113.4,346.9v-1 M113.4,324.5v1 M134,346.9v-1 M134,324.5v1 M154.6,346.9v-1 M154.6,324.5v1 M31.1,346.9h1 M154.6,346.9h-1 M31.1,335.7h1 M154.6,335.7h-1 M31.1,324.5h1 M154.6,324.5h-1" stroke="#7a7a7a" stroke-width="0.8" fill="none"/>
<path d="M31.1,335.4 L31.4,336 L31.7,336.8 L32,337.2 L32.3,337.2 L32.6,337.6 L32.9,338.2 L33.1,338.6 L33.4,339.1 L33.7,339.6 L34,339.9 L34.3,340.3 L34.6,340.8 L34.9,341.1 L35.2,341.3 L35.5,341.6 L35.8,342 L36.1,342.4 L36.4,342.8 L36.6,343.1 L36.9,343.3 L37.2,343.5 L37.5,343.8 L37.8,344.1 L38.1,344.4 L38.4,344.3 L38.7,344.3 L39,344.9 L39.3,345.2 L39.6,344.9 L39.9,344.5 L40.2,344.1 L40.4,343.9 L40.7,343.6 L41,343.5 L41.3,343.3 L41.6,343 L41.9,342.7 L42.2,342.6 L42.5,342.3 L42.8,341.7 L43.1,341.3 L43.4,341.4 L43.7,341.4 L43.9,341.1 L44.2,340.7 L44.5,340.4 L44.8,340.4 L45.1,340.3 L45.4,339.9 L45.7,339.7 L46,339.8 L46.3,339.5 L46.6,339.1 L46.9,339 L47.2,338.6 L47.5,338.3 L47.7,338.4 L48,338.5 L48.3,338.3 L48.6,337.9 L48.9,337.7 L49.2,337.5 L49.5,337.1 L49.8,336.8 L50.1,336.7 L50.4,336.7 L50.7,336.2 L51,335.5 L51.2,334.9 L51.5,334.5 L51.8,334.3 L52.1,334.2 L52.4,333.7 L52.7,333.5 L53,333.4 L53.3,332.9 L53.6,332.2 L53.9,332 L54.2,331.9 L54.5,331.7 L54.8,331.4 L55,330.9 L55.3,330.7 L55.6,330.5 L55.9,330.3 L56.2,330 L56.5,329.5 L56.8,329.2 L57.1,329 L57.4,328.7 L57.7,328.7 L58,328.7 L58.3,328.6 L58.5,328.5 L58.8,328.5 L59.1,328.6 L59.4,328.7 L59.7,328.8 L60,328.9 L60.3,329 L60.6,328.9 L60.9,328.8 L61.2,328.7 L61.5,328.7 L61.8,328.7 L62.1,329.1 L62.3,329.3 L62.6,329.3 L62.9,329.6 L63.2,329.8 L63.5,330 L63.8,330.3 L64.1,330.5 L64.4,330.5 L64.7,330.7 L65,330.9 L65.3,330.7 L65.6,330.9 L65.8,331.3 L66.1,331.7 L66.4,331.8 L66.7,331.8 L67,331.9 L67.3,332.1 L67.6,332.5 L67.9,332.7 L68.2,333 L68.5,333.2 L68.8,333.3 L69.1,333.3 L69.3,333.2 L69.6,333.4 L69.9,333.8 L70.2,334.1 L70.5,334.2 L70.8,334.3 L71.1,334.6 L71.4,335.1 L71.7,335.7 L72,336 L72.3,336.3 L72.6,336.6 L72.9,337.1 L73.1,337.6 L73.4,337.9 L73.7,338.2 L74,338.4 L74.3,338.9 L74.6,339.4 L74.9,340 L75.2,340.5 L75.5,341 L75.8,341.5 L76.1,341.9 L76.4,342.2 L76.6,342.5 L76.9,342.6 L77.2,343 L77.5,343.5 L77.8,344 L78.1,344.2 L78.4,344.3 L78.7,344.4 L79,344.1 L79.3,343.8 L79.6,343.5 L79.9,342.9 L80.2,342.5 L80.4,342.3 L80.7,342 L81,341.4 L81.3,341 L81.6,340.7 L81.9,340.2 L82.2,340 L82.5,340 L82.8,339.7 L83.1,339.3 L83.4,338.8 L83.7,338.5 L83.9,338.5 L84.2,338.3 L84.5,337.9 L84.8,337.4 L85.1,336.9 L85.4,336.6 L85.7,336.4 L86,336.2 L86.3,335.9 L86.6,335.2 L86.9,334.5 L87.2,334 L87.5,333.4 L87.7,332.4 L88,331.5 L88.3,331.1 L88.6,330.6 L88.9,329.9 L89.2,329.4 L89.5,328.9 L89.8,328.4 L90.1,328 L90.4,327.6 L90.7,327.2 L91,327.1 L91.2,327.4 L91.5,327.4 L91.8,327.1 L92.1,326.8 L92.4,327 L92.7,327.3 L93,327.4 L93.3,327.5 L93.6,327.7 L93.9,328.1 L94.2,328.5 L94.5,328.6 L94.8,329 L95,329.6 L95.3,329.8 L95.6,330.4 L95.9,331.4 L96.2,332.2 L96.5,332.6 L96.8,333.2 L97.1,334.3 L97.4,335.1 L97.7,335.6 L98,336.3 L98.3,336.8 L98.5,336.8 L98.8,337.3 L99.1,338.1 L99.4,338.7 L99.7,339.2 L100,339.8 L100.3,340.1 L100.6,340.4 L100.9,341 L101.2,341.2 L101.5,341.3 L101.8,341.5 L102.1,341.8 L102.3,342.1 L102.6,342.6 L102.9,343.2 L103.2,343.4 L103.5,343.4 L103.8,343.4 L104.1,343.6 L104.4,343.8 L104.7,344.2 L105,344.4 L105.3,344.5 L105.6,344.4 L105.8,344.1 L106.1,344.1 L106.4,344.5 L106.7,344.5 L107,344.5 L107.3,344.4 L107.6,344.3 L107.9,344.3 L108.2,344.2 L108.5,344 L108.8,343.9 L109.1,343.9 L109.4,343.8 L109.6,343.5 L109.9,343.2 L110.2,342.9 L110.5,342.3 L110.8,341.8 L111.1,341.4 L111.4,341.1 L111.7,340.7 L112,340.1 L112.3,339.4 L112.6,338.9 L112.9,338.6 L113.1,337.8 L113.4,337.4 L113.7,337.2 L114,336.6 L114.3,336 L114.6,335.7 L114.9,335.2 L115.2,334.6 L115.5,334 L115.8,333.3 L116.1,332.8 L116.4,332.5 L116.7,332.2 L116.9,331.8 L117.2,331.6 L117.5,331.5 L117.8,331.2 L118.1,330.6 L118.4,329.9 L118.7,329.4 L119,329.2 L119.3,329.2 L119.6,329 L119.9,328.6 L120.2,328.5 L120.4,328.8 L120.7,329 L121,328.9 L121.3,328.6 L121.6,328.7 L121.9,328.8 L122.2,328.8 L122.5,328.8 L122.8,329.1 L123.1,329.3 L123.4,329.4 L123.7,329.4 L124,328.9 L124.2,328.8 L124.5,329.2 L124.8,329.3 L125.1,329.2 L125.4,329.5 L125.7,329.7 L126,330 L126.3,330.2 L126.6,330.6 L126.9,331.1 L127.2,331.5 L127.5,332.2 L127.7,333 L128,333.3 L128.3,333.6 L128.6,334.1 L128.9,334.7 L129.2,335.3 L129.5,335.6 L129.8,335.8 L130.1,336.2 L130.4,336.6 L130.7,337.4 L131,338.3 L131.3,338.8 L131.5,339 L131.8,339.4 L132.1,339.9 L132.4,340.3 L132.7,340.6 L133,341.2 L133.3,341.8 L133.6,342.2 L133.9,342.5 L134.2,342.8 L134.5,342.8 L134.8,342.8 L135,343 L135.3,343.2 L135.6,343.4 L135.9,343.6 L136.2,343.6 L136.5,343.6 L136.8,343.7 L137.1,343.7 L137.4,343.6 L137.7,343.6 L138,343.8 L138.3,343.9 L138.6,344.3 L138.8,344.4 L139.1,344.1 L139.4,343.9 L139.7,344 L140,344.2 L140.3,344.1 L140.6,343.8 L140.9,343.7 L141.2,343.8 L141.5,343.9 L141.8,344 L142.1,344 L142.3,343.9 L142.6,343.8 L142.9,343.9 L143.2,343.9 L143.5,343.5 L143.8,343.2 L144.1,343.3 L144.4,343.5 L144.7,343.4 L145,343.2 L145.3,343 L145.6,342.9 L145.8,343 L146.1,343.3 L146.4,343.2 L146.7,343.2 L147,343 L147.3,342.5 L147.6,342.3" stroke="#4040ff" stroke-width="0.8" fill="none" stroke-linejoin="round"/>
<path d="M31.1,334.5 L31.5,334.5 L31.9,334.4 L32.3,334.4 L32.6,334.3 L33,334.3 L33.4,334.2 L33.8,334.2 L34.2,334.1 L34.6,334.1 L34.9,334.1 L35.3,334 L35.7,334 L36.1,333.9 L36.5,333.9 L36.9,333.9 L37.2,333.8 L37.6,333.8 L38,333.8 L38.4,333.8 L38.8,333.7 L39.2,333.7 L39.5,333.7 L39.9,333.7 L40.3,333.7 L40.7,333.7 L41.1,333.7 L41.5,333.7 L41.8,333.7 L42.2,333.7 L42.6,333.7 L43,333.7 L43.4,333.7 L43.8,333.7 L44.1,333.7 L44.5,333.7 L44.9,333.8 L45.3,333.8 L45.7,333.8 L46.1,333.8 L46.4,333.8 L46.8,333.8 L47.2,333.9 L47.6,333.9 L48,333.9 L48.4,333.9 L48.7,334 L49.1,334 L49.5,334 L49.9,334 L50.3,334 L50.7,334.1 L51,334.1 L51.4,334.1 L51.8,334.2 L52.2,334.2 L52.6,334.2 L53,334.2 L53.3,334.3 L53.7,334.3 L54.1,334.3 L54.5,334.3 L54.9,334.4 L55.3,334.4 L55.6,334.4 L56,334.4 L56.4,334.5 L56.8,334.5 L57.2,334.5 L57.6,334.5 L57.9,334.5 L58.3,334.6 L58.7,334.6 L59.1,334.6 L59.5,334.6 L59.9,334.6 L60.2,334.7 L60.6,334.7 L61,334.7 L61.4,334.7 L61.8,334.7 L62.2,334.8 L62.5,334.8 L62.9,334.8 L63.3,334.8 L63.7,334.9 L64.1,334.9 L64.5,334.9 L64.8,334.9 L65.2,334.9 L65.6,335 L66,335 L66.4,335 L66.8,335 L67.1,335 L67.5,335.1 L67.9,335.1 L68.3,335.1 L68.7,335.1 L69.1,335.2 L69.4,335.2 L69.8,335.2 L70.2,335.2 L70.6,335.2 L71,335.3 L71.4,335.3 L71.7,335.3 L72.1,335.3 L72.5,335.4 L72.9,335.4 L73.3,335.4 L73.7,335.4 L74,335.5 L74.4,335.5 L74.8,335.5 L75.2,335.5 L75.6,335.6 L76,335.6 L76.3,335.6 L76.7,335.6 L77.1,335.7 L77.5,335.7 L77.9,335.7 L78.3,335.7 L78.6,335.8 L79,335.8 L79.4,335.8 L79.8,335.9 L80.2,335.9 L80.6,335.9 L80.9,336 L81.3,336 L81.7,336.1 L82.1,336.1 L82.5,336.1 L82.9,336.2 L83.2,336.2 L83.6,336.2 L84,336.3 L84.4,336.3 L84.8,336.3 L85.2,336.3 L85.5,336.4 L85.9,336.4 L86.3,336.4 L86.7,336.4 L87.1,336.5 L87.5,336.5 L87.8,336.5 L88.2,336.5 L88.6,336.5 L89,336.5 L89.4,336.5 L89.8,336.5 L90.2,336.5 L90.5,336.5 L90.9,336.5 L91.3,336.4 L91.7,336.3 L92.1,336.2 L92.5,336 L92.8,335.9 L93.2,335.8 L93.6,335.6 L94,335.5 L94.4,335.4 L94.8,335.2 L95.1,335.1 L95.5,335 L95.9,334.9 L96.3,334.8 L96.7,334.8 L97.1,334.7 L97.4,334.7 L97.8,334.8 L98.2,334.8 L98.6,334.8 L99,334.8 L99.4,334.9 L99.7,334.9 L100.1,335 L100.5,335 L100.9,335 L101.3,335.1 L101.7,335.2 L102,335.2 L102.4,335.3 L102.8,335.3 L103.2,335.4 L103.6,335.4 L104,335.5 L104.3,335.5 L104.7,335.6 L105.1,335.6 L105.5,335.7 L105.9,335.7 L106.3,335.8 L106.6,335.8 L107,335.9 L107.4,335.9 L107.8,336 L108.2,336 L108.6,336.1 L108.9,336.1 L109.3,336.2 L109.7,336.2 L110.1,336.3 L110.5,336.3 L110.9,336.4 L111.2,336.4 L111.6,336.5 L112,336.5 L112.4,336.6 L112.8,336.6 L113.2,336.7 L113.5,336.7 L113.9,336.8 L114.3,336.8 L114.7,336.9 L115.1,336.9 L115.5,337 L115.8,337.1 L116.2,337.1 L116.6,337.2 L117,337.3 L117.4,337.3 L117.8,337.4 L118.1,337.5 L118.5,337.5 L118.9,337.6 L119.3,337.6 L119.7,337.7 L120.1,337.7 L120.4,337.7 L120.8,337.8 L121.2,337.8 L121.6,337.8 L122,337.8 L122.4,337.8 L122.7,337.8 L123.1,337.8 L123.5,337.7 L123.9,337.7 L124.3,337.6 L124.7,337.5 L125,337.5 L125.4,337.4 L125.8,337.3 L126.2,337.2 L126.6,337.1 L127,336.9 L127.3,336.8 L127.7,336.7 L128.1,336.6 L128.5,336.5 L128.9,336.4 L129.3,336.3 L129.6,336.2 L130,336.1 L130.4,336 L130.8,335.9 L131.2,335.8 L131.6,335.7 L131.9,335.6 L132.3,335.4 L132.7,335.3 L133.1,335.2 L133.5,335.1 L133.9,335 L134.2,334.9 L134.6,334.8 L135,334.7 L135.4,334.7 L135.8,334.6 L136.2,334.6 L136.5,334.6 L136.9,334.6 L137.3,334.6 L137.7,334.6 L138.1,334.6 L138.5,334.6 L138.8,334.6 L139.2,334.6 L139.6,334.6 L140,334.6 L140.4,334.7 L140.8,334.7 L141.1,334.7 L141.5,334.8 L141.9,334.8 L142.3,334.8 L142.7,334.9 L143.1,334.9 L143.4,335 L143.8,335.1 L144.2,335.1 L144.6,335.2 L145,335.3 L145.4,335.4 L145.7,335.5" stroke="#ff3a3a" stroke-width="0.8" fill="none" stroke-dasharray="3.6 2.4" stroke-linejoin="round"/>
<text x="19.3" y="335.7" font-size="7.8" font-family='"Liberation Serif", serif' text-anchor="middle" fill="#2a2a2a" textLength="21" lengthAdjust="spacingAndGlyphs" transform="rotate(-90 19.3 335.7)" class="s" ><tspan font-style="italic">v</tspan>(m/s)</text>
<rect x="31.1" y="362.7" width="123.5" height="22.4" fill="none" stroke="#7a7a7a" stroke-width="0.9"/>
<text x="31.1" y="393.9" font-size="6.5" font-family='"Liberation Sans", sans-serif' text-anchor="middle" fill="#2a2a2a" textLength="3.3" lengthAdjust="spacingAndGlyphs" class="t" >0</text>
<text x="51.7" y="393.9" font-size="6.5" font-family='"Liberation Sans", sans-serif' text-anchor="middle" fill="#2a2a2a" textLength="9.8" lengthAdjust="spacingAndGlyphs" class="t" >100</text>
<text x="72.3" y="393.9" font-size="6.5" font-family='"Liberation Sans", sans-serif' text-anchor="middle" fill="#2a2a2a" textLength="9.8" lengthAdjust="spacingAndGlyphs" class="t" >200</text>
<text x="92.8" y="393.9" font-size="6.5" font-family='"Liberation Sans", sans-serif' text-anchor="middle" fill="#2a2a2a" textLength="9.8" lengthAdjust="spacingAndGlyphs" class="t" >300</text>
<text x="113.4" y="393.9" font-size="6.5" font-family='"Liberation Sans", sans-serif' text-anchor="middle" fill="#2a2a2a" textLength="9.8" lengthAdjust="spacingAndGlyphs" class="t" >400</text>
<text x="134" y="393.9" font-size="6.5" font-family='"Liberation Sans", sans-serif' text-anchor="middle" fill="#2a2a2a" textLength="9.8" lengthAdjust="spacingAndGlyphs" class="t" >500</text>
<text x="154.6" y="393.9" font-size="6.5" font-family='"Liberation Sans", sans-serif' text-anchor="middle" fill="#2a2a2a" textLength="9.8" lengthAdjust="spacingAndGlyphs" class="t" >600</text>
<text x="28.4" y="387.6" font-size="6.5" font-family='"Liberation Sans", sans-serif' text-anchor="end" fill="#2a2a2a" textLength="13.7" lengthAdjust="spacingAndGlyphs" class="t" >-0.05</text>
<text x="28.4" y="376.4" font-size="6.5" font-family='"Liberation Sans", sans-serif' text-anchor="end" fill="#2a2a2a" textLength="3.3" lengthAdjust="spacingAndGlyphs" class="t" >0</text>
<text x="28.4" y="365.2" font-size="6.5" font-family='"Liberation Sans", sans-serif' text-anchor="end" fill="#2a2a2a" textLength="11.5" lengthAdjust="spacingAndGlyphs" class="t" >0.05</text>
<path d="M31.1,385.1v-1 M31.1,362.7v1 M51.7,385.1v-1 M51.7,362.7v1 M72.3,385.1v-1 M72.3,362.7v1 M92.8,385.1v-1 M92.8,362.7v1 M113.4,385.1v-1 M113.4,362.7v1 M134,385.1v-1 M134,362.7v1 M154.6,385.1v-1 M154.6,362.7v1 M31.1,385.1h1 M154.6,385.1h-1 M31.1,373.9h1 M154.6,373.9h-1 M31.1,362.7h1 M154.6,362.7h-1" stroke="#7a7a7a" stroke-width="0.8" fill="none"/>
<path d="M31.1,373.9 L31.5,373.3 L31.9,372.7 L32.3,372.2 L32.7,371.7 L33,371.2 L33.4,370.7 L33.8,370.3 L34.2,369.9 L34.6,369.6 L35,369.3 L35.4,369 L35.8,368.7 L36.2,368.4 L36.6,368.2 L36.9,367.9 L37.3,367.7 L37.7,367.5 L38.1,367.4 L38.5,367.3 L38.9,367.2 L39.3,367.2 L39.7,367.2 L40.1,367.3 L40.5,367.4 L40.8,367.6 L41.2,367.8 L41.6,368.2 L42,368.7 L42.4,369.3 L42.8,370 L43.2,370.7 L43.6,371.3 L44,371.8 L44.3,372 L44.7,372.2 L45.1,372.4 L45.5,372.6 L45.9,372.7 L46.3,372.8 L46.7,372.9 L47.1,373 L47.5,373.1 L47.9,373.2 L48.2,373.3 L48.6,373.4 L49,373.5 L49.4,373.6 L49.8,373.7 L50.2,373.9 L50.6,374 L51,374.2 L51.4,374.5 L51.8,374.7 L52.1,374.9 L52.5,375.2 L52.9,375.5 L53.3,375.7 L53.7,376 L54.1,376.3 L54.5,376.5 L54.9,376.7 L55.3,376.9 L55.6,377.1 L56,377.3 L56.4,377.4 L56.8,377.5 L57.2,377.5 L57.6,377.5 L58,377.5 L58.4,377.5 L58.8,377.5 L59.2,377.5 L59.5,377.5 L59.9,377.5 L60.3,377.5 L60.7,377.5 L61.1,377.4 L61.5,377.3 L61.9,377.2 L62.3,377.1 L62.7,376.9 L63.1,376.7 L63.4,376.5 L63.8,376.3 L64.2,376.1 L64.6,375.9 L65,375.7 L65.4,375.5 L65.8,375.3 L66.2,375 L66.6,374.7 L66.9,374.4 L67.3,374.2 L67.7,373.9 L68.1,373.7 L68.5,373.6 L68.9,373.5 L69.3,373.5 L69.7,373.5 L70.1,373.6 L70.5,373.7 L70.8,373.8 L71.2,373.9 L71.6,373.9 L72,373.8 L72.4,373.6 L72.8,373.3 L73.2,372.9 L73.6,372.4 L74,371.8 L74.3,371.2 L74.7,370.6 L75.1,370 L75.5,369.4 L75.9,368.9 L76.3,368.4 L76.7,368 L77.1,367.8 L77.5,367.6 L77.9,367.7 L78.2,367.8 L78.6,368 L79,368.4 L79.4,368.8 L79.8,369.3 L80.2,369.8 L80.6,370.4 L81,371 L81.4,371.6 L81.8,372.1 L82.1,372.7 L82.5,373.2 L82.9,373.6 L83.3,374 L83.7,374.5 L84.1,374.9 L84.5,375.4 L84.9,375.9 L85.3,376.4 L85.6,376.8 L86,377.3 L86.4,377.7 L86.8,378.1 L87.2,378.4 L87.6,378.7 L88,379 L88.4,379.1 L88.8,379.3 L89.2,379.3 L89.5,379.3 L89.9,379.4 L90.3,379.4 L90.7,379.4 L91.1,379.4 L91.5,379.5 L91.9,379.5 L92.3,379.5 L92.7,379.5 L93.1,379.5 L93.4,379.3 L93.8,378.9 L94.2,378.4 L94.6,377.8 L95,377.1 L95.4,376.4 L95.8,375.6 L96.2,374.9 L96.6,374.3 L96.9,373.7 L97.3,373.3 L97.7,372.8 L98.1,372.3 L98.5,371.9 L98.9,371.4 L99.3,370.9 L99.7,370.5 L100.1,370.1 L100.5,369.7 L100.8,369.3 L101.2,369 L101.6,368.8 L102,368.6 L102.4,368.5 L102.8,368.5 L103.2,368.5 L103.6,368.4 L104,368.4 L104.4,368.4 L104.7,368.4 L105.1,368.4 L105.5,368.3 L105.9,368.3 L106.3,368.3 L106.7,368.3 L107.1,368.3 L107.5,368.3 L107.9,368.3 L108.2,368.3 L108.6,368.4 L109,368.5 L109.4,368.7 L109.8,369 L110.2,369.3 L110.6,369.7 L111,370 L111.4,370.4 L111.8,370.9 L112.1,371.3 L112.5,371.7 L112.9,372.1 L113.3,372.4 L113.7,372.8 L114.1,373.2 L114.5,373.6 L114.9,374.1 L115.3,374.5 L115.7,375 L116,375.5 L116.4,375.9 L116.8,376.3 L117.2,376.7 L117.6,377.1 L118,377.4 L118.4,377.7 L118.8,377.9 L119.2,378.1 L119.5,378.3 L119.9,378.4 L120.3,378.6 L120.7,378.8 L121.1,378.9 L121.5,379 L121.9,379.1 L122.3,379.3 L122.7,379.3 L123.1,379.4 L123.4,379.5 L123.8,379.5 L124.2,379.5 L124.6,379.5 L125,379.4 L125.4,379.4 L125.8,379.3 L126.2,379.2 L126.6,379.1 L127,379 L127.3,378.8 L127.7,378.6 L128.1,378.5 L128.5,378.3 L128.9,378 L129.3,377.8 L129.7,377.6 L130.1,377 L130.5,376.3 L130.8,375.4 L131.2,374.5 L131.6,373.4 L132,372.5 L132.4,371.6 L132.8,370.8 L133.2,370.3 L133.6,369.9 L134,369.6 L134.4,369.2 L134.7,368.9 L135.1,368.6 L135.5,368.4 L135.9,368.2 L136.3,368.1 L136.7,368.1 L137.1,368.1 L137.5,368.1 L137.9,368.1 L138.3,368.1 L138.6,368.1 L139,368.1 L139.4,368.1 L139.8,368.1 L140.2,368.1 L140.6,368.1 L141,368.1 L141.4,368.1 L141.8,368.1 L142.1,368.1 L142.5,368.1 L142.9,368.1 L143.3,368.1 L143.7,368.1 L144.1,368.1 L144.5,368.1 L144.9,368.1 L145.3,368.1 L145.7,368.1 L146,368.1 L146.4,368.1 L146.8,368.1 L147.2,368.1 L147.6,368.1" stroke="#4040ff" stroke-width="0.8" fill="none" stroke-linejoin="round"/>
<path d="M31.1,373.9 L31.5,373.3 L31.9,372.7 L32.3,372.2 L32.7,371.7 L33,371.2 L33.4,370.7 L33.8,370.3 L34.2,369.9 L34.6,369.6 L35,369.3 L35.4,369 L35.8,368.7 L36.2,368.4 L36.6,368.2 L36.9,367.9 L37.3,367.7 L37.7,367.5 L38.1,367.4 L38.5,367.3 L38.9,367.2 L39.3,367.2 L39.7,367.2 L40.1,367.3 L40.5,367.4 L40.8,367.6 L41.2,367.8 L41.6,368.2 L42,368.7 L42.4,369.3 L42.8,370 L43.2,370.7 L43.6,371.3 L44,371.8 L44.3,372 L44.7,372.2 L45.1,372.4 L45.5,372.6 L45.9,372.7 L46.3,372.8 L46.7,372.9 L47.1,373 L47.5,373.1 L47.9,373.2 L48.2,373.3 L48.6,373.4 L49,373.5 L49.4,373.6 L49.8,373.7 L50.2,373.9 L50.6,374 L51,374.2 L51.4,374.5 L51.8,374.7 L52.1,374.9 L52.5,375.2 L52.9,375.5 L53.3,375.7 L53.7,376 L54.1,376.3 L54.5,376.5 L54.9,376.7 L55.3,376.9 L55.6,377.1 L56,377.3 L56.4,377.4 L56.8,377.5 L57.2,377.5 L57.6,377.5 L58,377.5 L58.4,377.5 L58.8,377.5 L59.2,377.5 L59.5,377.5 L59.9,377.5 L60.3,377.5 L60.7,377.5 L61.1,377.4 L61.5,377.3 L61.9,377.2 L62.3,377.1 L62.7,376.9 L63.1,376.7 L63.4,376.5 L63.8,376.3 L64.2,376.1 L64.6,375.9 L65,375.7 L65.4,375.5 L65.8,375.3 L66.2,375 L66.6,374.7 L66.9,374.4 L67.3,374.2 L67.7,373.9 L68.1,373.7 L68.5,373.6 L68.9,373.5 L69.3,373.5 L69.7,373.5 L70.1,373.6 L70.5,373.7 L70.8,373.8 L71.2,373.9 L71.6,373.9 L72,373.8 L72.4,373.6 L72.8,373.3 L73.2,372.9 L73.6,372.4 L74,371.8 L74.3,371.2 L74.7,370.6 L75.1,370 L75.5,369.4 L75.9,368.9 L76.3,368.4 L76.7,368 L77.1,367.8 L77.5,367.6 L77.9,367.7 L78.2,367.8 L78.6,368 L79,368.4 L79.4,368.8 L79.8,369.3 L80.2,369.8 L80.6,370.4 L81,371 L81.4,371.6 L81.8,372.1 L82.1,372.7 L82.5,373.2 L82.9,373.6 L83.3,374 L83.7,374.5 L84.1,374.9 L84.5,375.4 L84.9,375.9 L85.3,376.4 L85.6,376.8 L86,377.3 L86.4,377.7 L86.8,378.1 L87.2,378.4 L87.6,378.7 L88,379 L88.4,379.1 L88.8,379.3 L89.2,379.3 L89.5,379.3 L89.9,379.4 L90.3,379.4 L90.7,379.4 L91.1,379.4 L91.5,379.5 L91.9,379.5 L92.3,379.5 L92.7,379.5 L93.1,379.5 L93.4,379.3 L93.8,378.9 L94.2,378.4 L94.6,377.8 L95,377.1 L95.4,376.4 L95.8,375.6 L96.2,374.9 L96.6,374.3 L96.9,373.7 L97.3,373.3 L97.7,372.8 L98.1,372.3 L98.5,371.9 L98.9,371.4 L99.3,370.9 L99.7,370.5 L100.1,370.1 L100.5,369.7 L100.8,369.3 L101.2,369 L101.6,368.8 L102,368.6 L102.4,368.5 L102.8,368.5 L103.2,368.5 L103.6,368.4 L104,368.4 L104.4,368.4 L104.7,368.4 L105.1,368.4 L105.5,368.3 L105.9,368.3 L106.3,368.3 L106.7,368.3 L107.1,368.3 L107.5,368.3 L107.9,368.3 L108.2,368.3 L108.6,368.4 L109,368.5 L109.4,368.7 L109.8,369 L110.2,369.3 L110.6,369.7 L111,370 L111.4,370.4 L111.8,370.9 L112.1,371.3 L112.5,371.7 L112.9,372.1 L113.3,372.4 L113.7,372.8 L114.1,373.2 L114.5,373.6 L114.9,374.1 L115.3,374.5 L115.7,375 L116,375.5 L116.4,375.9 L116.8,376.3 L117.2,376.7 L117.6,377.1 L118,377.4 L118.4,377.7 L118.8,377.9 L119.2,378.1 L119.5,378.3 L119.9,378.4 L120.3,378.6 L120.7,378.8 L121.1,378.9 L121.5,379 L121.9,379.1 L122.3,379.3 L122.7,379.3 L123.1,379.4 L123.4,379.5 L123.8,379.5 L124.2,379.5 L124.6,379.5 L125,379.4 L125.4,379.4 L125.8,379.3 L126.2,379.2 L126.6,379.1 L127,379 L127.3,378.8 L127.7,378.6 L128.1,378.5 L128.5,378.3 L128.9,378 L129.3,377.8 L129.7,377.6 L130.1,377 L130.5,376.3 L130.8,375.4 L131.2,374.5 L131.6,373.4 L132,372.5 L132.4,371.6 L132.8,370.8 L133.2,370.3 L133.6,369.9 L134,369.6 L134.4,369.2 L134.7,368.9 L135.1,368.6 L135.5,368.4 L135.9,368.2 L136.3,368.1 L136.7,368.1 L137.1,368.1 L137.5,368.1 L137.9,368.1 L138.3,368.1 L138.6,368.1 L139,368.1 L139.4,368.1 L139.8,368.1 L140.2,368.1 L140.6,368.1 L141,368.1 L141.4,368.1 L141.8,368.1 L142.1,368.1 L142.5,368.1 L142.9,368.1 L143.3,368.1 L143.7,368.1 L144.1,368.1 L144.5,368.1 L144.9,368.1 L145.3,368.1 L145.7,368.1 L146,368.1 L146.4,368.1 L146.8,368.1 L147.2,368.1 L147.6,368.1" stroke="#ff3a3a" stroke-width="0.9" fill="none" stroke-dasharray="4.2 1.8" stroke-linejoin="round"/>
<text x="10.6" y="373.9" font-size="7.8" font-family='"Liberation Serif", serif' text-anchor="middle" fill="#2a2a2a" textLength="24.8" lengthAdjust="spacingAndGlyphs" transform="rotate(-90 10.6 373.9)" class="s" ><tspan font-style="italic">r</tspan>(rad/s)</text>
<text x="92.8" y="401.8" font-size="7.4" font-family='"Liberation Serif", serif' text-anchor="middle" fill="#2a2a2a" class="s" ><tspan font-style="italic">t</tspan>(s)</text>
<text x="92.8" y="410.3" font-size="8" font-family='"Liberation Serif", serif' text-anchor="middle" fill="#2a2a2a" class="s" >(e)</text>
<rect x="31.1" y="419.8" width="123.5" height="22.4" fill="none" stroke="#7a7a7a" stroke-width="0.9"/>
<text x="31.1" y="451" font-size="6.5" font-family='"Liberation Sans", sans-serif' text-anchor="middle" fill="#2a2a2a" textLength="3.3" lengthAdjust="spacingAndGlyphs" class="t" >0</text>
<text x="62" y="451" font-size="6.5" font-family='"Liberation Sans", sans-serif' text-anchor="middle" fill="#2a2a2a" textLength="9.8" lengthAdjust="spacingAndGlyphs" class="t" >100</text>
<text x="92.8" y="451" font-size="6.5" font-family='"Liberation Sans", sans-serif' text-anchor="middle" fill="#2a2a2a" textLength="9.8" lengthAdjust="spacingAndGlyphs" class="t" >200</text>
<text x="123.7" y="451" font-size="6.5" font-family='"Liberation Sans", sans-serif' text-anchor="middle" fill="#2a2a2a" textLength="9.8" lengthAdjust="spacingAndGlyphs" class="t" >300</text>
<text x="154.6" y="451" font-size="6.5" font-family='"Liberation Sans", sans-serif' text-anchor="middle" fill="#2a2a2a" textLength="9.8" lengthAdjust="spacingAndGlyphs" class="t" >400</text>
<text x="28.4" y="444.7" font-size="6.5" font-family='"Liberation Sans", sans-serif' text-anchor="end" fill="#2a2a2a" textLength="3.3" lengthAdjust="spacingAndGlyphs" class="t" >4</text>
<text x="28.4" y="433.5" font-size="6.5" font-family='"Liberation Sans", sans-serif' text-anchor="end" fill="#2a2a2a" textLength="3.3" lengthAdjust="spacingAndGlyphs" class="t" >6</text>
<text x="28.4" y="422.3" font-size="6.5" font-family='"Liberation Sans", sans-serif' text-anchor="end" fill="#2a2a2a" textLength="3.3" lengthAdjust="spacingAndGlyphs" class="t" >8</text>
<path d="M31.1,442.2v-1 M31.1,419.8v1 M62,442.2v-1 M62,419.8v1 M92.8,442.2v-1 M92.8,419.8v1 M123.7,442.2v-1 M123.7,419.8v1 M154.6,442.2v-1 M154.6,419.8v1 M31.1,442.2h1 M154.6,442.2h-1 M31.1,431h1 M154.6,431h-1 M31.1,419.8h1 M154.6,419.8h-1" stroke="#7a7a7a" stroke-width="0.8" fill="none"/>
<path d="M31.1,432.8 L31.4,432.9 L31.7,432.7 L32,432.4 L32.3,432.3 L32.7,432.1 L33,432.1 L33.3,432.2 L33.6,432.2 L33.9,432.1 L34.2,432.1 L34.5,432.2 L34.8,432.1 L35.1,432 L35.5,432.1 L35.8,432.2 L36.1,432.4 L36.4,432.4 L36.7,432.3 L37,432.3 L37.3,432.3 L37.6,432.3 L37.9,432.2 L38.2,432.3 L38.6,432.4 L38.9,432.4 L39.2,432.5 L39.5,432.5 L39.8,432.6 L40.1,432.4 L40.4,432.3 L40.7,432.3 L41,432.4 L41.4,432.4 L41.7,432.3 L42,432 L42.3,432 L42.6,432.1 L42.9,432.1 L43.2,432 L43.5,432.1 L43.8,432 L44.2,431.8 L44.5,431.7 L44.8,431.6 L45.1,431.5 L45.4,431.5 L45.7,431.5 L46,431.3 L46.3,431.1 L46.6,431.1 L47,431.1 L47.3,431 L47.6,430.8 L47.9,430.7 L48.2,430.6 L48.5,430.5 L48.8,430.4 L49.1,430.4 L49.4,430.5 L49.7,430.3 L50.1,430.2 L50.4,430.1 L50.7,430 L51,429.8 L51.3,429.6 L51.6,429.7 L51.9,430 L52.2,429.9 L52.5,429.7 L52.9,429.7 L53.2,429.4 L53.5,429.2 L53.8,429.3 L54.1,429.3 L54.4,429.2 L54.7,429.2 L55,429.2 L55.3,429.2 L55.7,429.1 L56,429.2 L56.3,429.4 L56.6,429.3 L56.9,429 L57.2,428.9 L57.5,429.1 L57.8,429.2 L58.1,429.1 L58.5,429.1 L58.8,429 L59.1,428.8 L59.4,428.7 L59.7,428.8 L60,428.8 L60.3,428.7 L60.6,428.7 L60.9,428.9 L61.2,428.9 L61.6,428.8 L61.9,428.6 L62.2,428.5 L62.5,428.6 L62.8,428.8 L63.1,428.8 L63.4,428.7 L63.7,428.6 L64,428.4 L64.4,428.4 L64.7,428.5 L65,428.4 L65.3,428.2 L65.6,428.2 L65.9,428.2 L66.2,428.1 L66.5,428.1 L66.8,428.2 L67.2,428.2 L67.5,428.1 L67.8,427.9 L68.1,427.9 L68.4,428 L68.7,427.8 L69,427.6 L69.3,427.6 L69.6,427.6 L70,427.6 L70.3,427.7 L70.6,427.7 L70.9,427.7 L71.2,427.8 L71.5,427.7 L71.8,427.3 L72.1,427.2 L72.4,427.4 L72.7,427.5 L73.1,427.4 L73.4,427.3 L73.7,427.3 L74,427.4 L74.3,427.4 L74.6,427.2 L74.9,427.1 L75.2,427.2 L75.5,427.2 L75.9,427.2 L76.2,427.2 L76.5,427.3 L76.8,427.5 L77.1,427.7 L77.4,427.7 L77.7,427.9 L78,428 L78.3,428 L78.7,428.2 L79,428.4 L79.3,428.4 L79.6,428.3 L79.9,428.6 L80.2,428.8 L80.5,428.9 L80.8,429.5 L81.1,430 L81.5,430.3 L81.8,430.3 L82.1,430.2 L82.4,430.4 L82.7,430.7 L83,430.8 L83.3,431 L83.6,431.1 L83.9,431.1 L84.2,431.3 L84.6,431.5 L84.9,431.7 L85.2,431.9 L85.5,431.9 L85.8,431.9 L86.1,431.8 L86.4,431.7 L86.7,431.8 L87,431.9 L87.4,431.9 L87.7,432.1 L88,432.4 L88.3,432.4 L88.6,432.1 L88.9,432 L89.2,432.1 L89.5,432.2 L89.8,432.1 L90.2,432 L90.5,432.1 L90.8,432.4 L91.1,432.3 L91.4,432.2 L91.7,432.4 L92,432.7 L92.3,432.6 L92.6,432.3 L93,432 L93.3,431.9 L93.6,432 L93.9,431.9 L94.2,431.7 L94.5,431.5 L94.8,431.4 L95.1,431.3 L95.4,431.1 L95.7,430.9 L96.1,431 L96.4,430.9 L96.7,430.7 L97,430.5 L97.3,430.4 L97.6,430.3 L97.9,430.2 L98.2,430.1 L98.5,430 L98.9,430 L99.2,429.9 L99.5,429.7 L99.8,429.5 L100.1,429.3 L100.4,429.1 L100.7,429.2 L101,429.5 L101.3,429.4 L101.7,429.1 L102,429.1 L102.3,428.9 L102.6,428.6 L102.9,428.7 L103.2,428.8 L103.5,428.7 L103.8,428.6 L104.1,428.7 L104.5,428.7 L104.8,428.8 L105.1,428.9 L105.4,428.8 L105.7,428.8 L106,428.7 L106.3,428.7 L106.6,428.7 L106.9,428.7 L107.2,428.6 L107.6,428.6 L107.9,428.6 L108.2,428.7 L108.5,428.7 L108.8,428.7 L109.1,428.6 L109.4,428.7 L109.7,428.9 L110,429 L110.4,429 L110.7,428.9 L111,428.7 L111.3,428.6 L111.6,428.6 L111.9,428.8 L112.2,429.1 L112.5,428.9 L112.8,428.5 L113.2,428.4 L113.5,428.7 L113.8,428.8 L114.1,428.7 L114.4,428.8 L114.7,428.8 L115,428.7 L115.3,428.8 L115.6,428.8 L116,428.7 L116.3,428.5 L116.6,428.6 L116.9,428.6 L117.2,428.4 L117.5,428.3 L117.8,428.2 L118.1,428.1 L118.4,427.9 L118.7,427.9 L119.1,427.9 L119.4,427.7 L119.7,427.6 L120,427.6 L120.3,427.7 L120.6,427.5 L120.9,427.3 L121.2,427.1 L121.5,427.1 L121.9,427.1 L122.2,427 L122.5,426.9 L122.8,426.8 L123.1,426.9 L123.4,427 L123.7,427 L124,427.1" stroke="#4040ff" stroke-width="0.8" fill="none" stroke-linejoin="round"/>
<path d="M31.1,437.7 L31.4,437.6 L31.7,437.5 L32,437.4 L32.3,437.2 L32.7,437.1 L33,437 L33.3,436.9 L33.6,436.8 L33.9,436.7 L34.2,436.5 L34.5,436.4 L34.8,436.3 L35.1,436.2 L35.5,436.1 L35.8,436 L36.1,435.8 L36.4,435.7 L36.7,435.6 L37,435.5 L37.3,435.3 L37.6,435.2 L37.9,435.1 L38.2,435 L38.6,434.9 L38.9,434.7 L39.2,434.6 L39.5,434.5 L39.8,434.4 L40.1,434.3 L40.4,434.2 L40.7,434.1 L41,434 L41.4,434 L41.7,433.9 L42,433.8 L42.3,433.8 L42.6,433.7 L42.9,433.6 L43.2,433.6 L43.5,433.5 L43.8,433.5 L44.2,433.4 L44.5,433.3 L44.8,433.3 L45.1,433.2 L45.4,433.2 L45.7,433.1 L46,433.1 L46.3,433 L46.6,433 L47,433 L47.3,432.9 L47.6,432.9 L47.9,432.8 L48.2,432.8 L48.5,432.7 L48.8,432.7 L49.1,432.7 L49.4,432.6 L49.7,432.6 L50.1,432.5 L50.4,432.5 L50.7,432.5 L51,432.4 L51.3,432.4 L51.6,432.3 L51.9,432.3 L52.2,432.3 L52.5,432.2 L52.9,432.2 L53.2,432.2 L53.5,432.1 L53.8,432.1 L54.1,432.1 L54.4,432 L54.7,432 L55,432 L55.3,431.9 L55.7,431.9 L56,431.9 L56.3,431.8 L56.6,431.8 L56.9,431.8 L57.2,431.7 L57.5,431.7 L57.8,431.7 L58.1,431.7 L58.5,431.6 L58.8,431.6 L59.1,431.6 L59.4,431.5 L59.7,431.5 L60,431.5 L60.3,431.4 L60.6,431.4 L60.9,431.4 L61.2,431.3 L61.6,431.3 L61.9,431.3 L62.2,431.2 L62.5,431.2 L62.8,431.2 L63.1,431.1 L63.4,431.1 L63.7,431.1 L64,431 L64.4,431 L64.7,431 L65,430.9 L65.3,430.9 L65.6,430.9 L65.9,430.8 L66.2,430.8 L66.5,430.8 L66.8,430.7 L67.2,430.7 L67.5,430.7 L67.8,430.6 L68.1,430.6 L68.4,430.6 L68.7,430.5 L69,430.5 L69.3,430.4 L69.6,430.4 L70,430.4 L70.3,430.3 L70.6,430.3 L70.9,430.2 L71.2,430.2 L71.5,430.1 L71.8,430.1 L72.1,430 L72.4,430 L72.7,429.9 L73.1,429.9 L73.4,429.8 L73.7,429.7 L74,429.6 L74.3,429.5 L74.6,429.4 L74.9,429.3 L75.2,429.2 L75.5,429.1 L75.9,429 L76.2,429 L76.5,428.9 L76.8,428.8 L77.1,428.8 L77.4,428.8 L77.7,428.8 L78,428.8 L78.3,428.8 L78.7,428.8 L79,428.9 L79.3,429 L79.6,429.1 L79.9,429.2 L80.2,429.3 L80.5,429.4 L80.8,429.5 L81.1,429.7 L81.5,429.8 L81.8,429.9 L82.1,430.1 L82.4,430.2 L82.7,430.3 L83,430.5 L83.3,430.6 L83.6,430.7 L83.9,430.9 L84.2,431.1 L84.6,431.3 L84.9,431.5 L85.2,431.6 L85.5,431.8 L85.8,432 L86.1,432.1 L86.4,432.3 L86.7,432.4 L87,432.5 L87.4,432.5 L87.7,432.6 L88,432.6 L88.3,432.6 L88.6,432.7 L88.9,432.7 L89.2,432.7 L89.5,432.7 L89.8,432.7 L90.2,432.8 L90.5,432.8 L90.8,432.8 L91.1,432.8 L91.4,432.8 L91.7,432.8 L92,432.8 L92.3,432.8 L92.6,432.8 L93,432.7 L93.3,432.7 L93.6,432.7 L93.9,432.7 L94.2,432.6 L94.5,432.6 L94.8,432.6 L95.1,432.5 L95.4,432.5 L95.7,432.5 L96.1,432.4 L96.4,432.4 L96.7,432.3 L97,432.3 L97.3,432.3 L97.6,432.2 L97.9,432.2 L98.2,432.1 L98.5,432 L98.9,431.9 L99.2,431.8 L99.5,431.7 L99.8,431.6 L100.1,431.5 L100.4,431.4 L100.7,431.3 L101,431.2 L101.3,431.1 L101.7,431 L102,430.9 L102.3,430.8 L102.6,430.7 L102.9,430.6 L103.2,430.6 L103.5,430.5 L103.8,430.5 L104.1,430.5 L104.5,430.5 L104.8,430.5 L105.1,430.5 L105.4,430.5 L105.7,430.5 L106,430.5 L106.3,430.5 L106.6,430.5 L106.9,430.5 L107.2,430.5 L107.6,430.5 L107.9,430.5 L108.2,430.5 L108.5,430.5 L108.8,430.5 L109.1,430.5 L109.4,430.5 L109.7,430.5 L110,430.5 L110.4,430.5 L110.7,430.5 L111,430.5 L111.3,430.5 L111.6,430.5 L111.9,430.5 L112.2,430.5 L112.5,430.5 L112.8,430.5 L113.2,430.5 L113.5,430.5 L113.8,430.5 L114.1,430.5 L114.4,430.5 L114.7,430.5 L115,430.5 L115.3,430.5 L115.6,430.5 L116,430.5 L116.3,430.5 L116.6,430.4 L116.9,430.4 L117.2,430.4 L117.5,430.4 L117.8,430.3 L118.1,430.3 L118.4,430.3 L118.7,430.2 L119.1,430.2 L119.4,430.1 L119.7,430.1 L120,430 L120.3,430 L120.6,429.9 L120.9,429.8 L121.2,429.8 L121.5,429.7 L121.9,429.7 L122.2,429.6 L122.5,429.5 L122.8,429.5 L123.1,429.4 L123.4,429.3 L123.7,429.3 L124,429.2" stroke="#ff3a3a" stroke-width="0.8" fill="none" stroke-dasharray="3.6 2.4" stroke-linejoin="round"/>
<text x="21.2" y="431" font-size="7.8" font-family='"Liberation Serif", serif' text-anchor="middle" fill="#2a2a2a" textLength="20.8" lengthAdjust="spacingAndGlyphs" transform="rotate(-90 21.2 431)" class="s" ><tspan font-style="italic">u</tspan>(m/s)</text>
<rect x="31.1" y="457.7" width="123.5" height="22.4" fill="none" stroke="#7a7a7a" stroke-width="0.9"/>
<text x="31.1" y="488.9" font-size="6.5" font-family='"Liberation Sans", sans-serif' text-anchor="middle" fill="#2a2a2a" textLength="3.3" lengthAdjust="spacingAndGlyphs" class="t" >0</text>
<text x="62" y="488.9" font-size="6.5" font-family='"Liberation Sans", sans-serif' text-anchor="middle" fill="#2a2a2a" textLength="9.8" lengthAdjust="spacingAndGlyphs" class="t" >100</text>
<text x="92.8" y="488.9" font-size="6.5" font-family='"Liberation Sans", sans-serif' text-anchor="middle" fill="#2a2a2a" textLength="9.8" lengthAdjust="spacingAndGlyphs" class="t" >200</text>
<text x="123.7" y="488.9" font-size="6.5" font-family='"Liberation Sans", sans-serif' text-anchor="middle" fill="#2a2a2a" textLength="9.8" lengthAdjust="spacingAndGlyphs" class="t" >300</text>
<text x="154.6" y="488.9" font-size="6.5" font-family='"Liberation Sans", sans-serif' text-anchor="middle" fill="#2a2a2a" textLength="9.8" lengthAdjust="spacingAndGlyphs" class="t" >400</text>
<text x="28.4" y="482.6" font-size="6.5" font-family='"Liberation Sans", sans-serif' text-anchor="end" fill="#2a2a2a" textLength="5.5" lengthAdjust="spacingAndGlyphs" class="t" >-2</text>
<text x="28.4" y="471.4" font-size="6.5" font-family='"Liberation Sans", sans-serif' text-anchor="end" fill="#2a2a2a" textLength="3.3" lengthAdjust="spacingAndGlyphs" class="t" >0</text>
<text x="28.4" y="460.2" font-size="6.5" font-family='"Liberation Sans", sans-serif' text-anchor="end" fill="#2a2a2a" textLength="3.3" lengthAdjust="spacingAndGlyphs" class="t" >2</text>
<path d="M31.1,480.1v-1 M31.1,457.7v1 M62,480.1v-1 M62,457.7v1 M92.8,480.1v-1 M92.8,457.7v1 M123.7,480.1v-1 M123.7,457.7v1 M154.6,480.1v-1 M154.6,457.7v1 M31.1,480.1h1 M154.6,480.1h-1 M31.1,468.9h1 M154.6,468.9h-1 M31.1,457.7h1 M154.6,457.7h-1" stroke="#7a7a7a" stroke-width="0.8" fill="none"/>
<path d="M31.1,465.2 L31.3,465.4 L31.6,465.1 L31.8,464.9 L32,464.7 L32.3,464.7 L32.5,464.6 L32.7,464.4 L33,463.8 L33.2,463.3 L33.4,463.4 L33.7,463.6 L33.9,463.6 L34.1,463.5 L34.4,463.5 L34.6,463.2 L34.8,463 L35.1,462.8 L35.3,462.7 L35.5,462.6 L35.8,462.5 L36,462.2 L36.2,462.2 L36.5,462.4 L36.7,462.3 L36.9,462 L37.2,461.8 L37.4,462 L37.6,462.1 L37.9,462 L38.1,462.2 L38.3,462.1 L38.6,461.9 L38.8,461.9 L39,462 L39.3,462.2 L39.5,462.5 L39.7,462.3 L40,462.4 L40.2,462.5 L40.4,462.2 L40.7,462.1 L40.9,462.4 L41.1,462.5 L41.4,462.5 L41.6,462.4 L41.8,462.3 L42.1,462.4 L42.3,462.6 L42.6,462.7 L42.8,463 L43,463.2 L43.3,463.2 L43.5,463.2 L43.7,463.5 L44,463.7 L44.2,464 L44.4,464.2 L44.7,464 L44.9,464.1 L45.1,464.4 L45.4,464.5 L45.6,464.5 L45.8,464.7 L46.1,465 L46.3,465 L46.5,464.8 L46.8,464.9 L47,465.5 L47.2,465.5 L47.5,465.4 L47.7,465.5 L47.9,465.5 L48.2,465.8 L48.4,466.1 L48.6,466.1 L48.9,466 L49.1,466.3 L49.3,466.7 L49.6,466.8 L49.8,466.6 L50,466.6 L50.3,466.8 L50.5,467 L50.7,467.3 L51,467.7 L51.2,468 L51.4,468 L51.7,468.1 L51.9,468.5 L52.1,468.7 L52.4,468.8 L52.6,468.8 L52.8,469 L53.1,469.5 L53.3,469.8 L53.5,469.6 L53.8,469.4 L54,469.6 L54.2,469.9 L54.5,470.2 L54.7,470.3 L54.9,470.4 L55.2,470.6 L55.4,470.9 L55.6,471.1 L55.9,471.1 L56.1,471.2 L56.3,471.2 L56.6,471.1 L56.8,471.2 L57,471.7 L57.3,472.3 L57.5,472.4 L57.7,472.3 L58,472.4 L58.2,472.5 L58.4,472.2 L58.7,472.1 L58.9,472.4 L59.1,472.5 L59.4,472.4 L59.6,472.1 L59.8,471.8 L60.1,471.6 L60.3,471.8 L60.5,471.8 L60.8,471.6 L61,471.4 L61.2,471.3 L61.5,471.5 L61.7,471.7 L61.9,471.7 L62.2,471.4 L62.4,471 L62.6,470.9 L62.9,471 L63.1,470.9 L63.3,470.7 L63.6,470.7 L63.8,470.6 L64.1,470 L64.3,469.6 L64.5,469.7 L64.8,469.9 L65,469.8 L65.2,469.6 L65.5,469 L65.7,468.7 L65.9,468.6 L66.2,468.4 L66.4,468.2 L66.6,468.1 L66.9,468 L67.1,467.6 L67.3,467.2 L67.6,467 L67.8,466.8 L68,466.5 L68.3,466 L68.5,465.6 L68.7,465.4 L69,465.2 L69.2,464.7 L69.4,464.4 L69.7,464.3 L69.9,464.4 L70.1,464.1 L70.4,463.8 L70.6,463.6 L70.8,463.2 L71.1,462.9 L71.3,462.7 L71.5,462.6 L71.8,462.4 L72,462.4 L72.2,462.2 L72.5,462 L72.7,461.8 L72.9,461.4 L73.2,461.1 L73.4,461 L73.6,461.2 L73.9,461.3 L74.1,461.1 L74.3,461 L74.6,461 L74.8,460.9 L75,460.7 L75.3,460.5 L75.5,460.6 L75.7,460.5 L76,460.6 L76.2,460.8 L76.4,460.7 L76.7,460.6 L76.9,460.3 L77.1,460.1 L77.4,460 L77.6,459.9 L77.8,459.8 L78.1,459.9 L78.3,460 L78.5,460.2 L78.8,460.3 L79,460.2 L79.2,460.2 L79.5,460.1 L79.7,459.9 L79.9,459.9 L80.2,460.1 L80.4,460.2 L80.6,460.1 L80.9,460.2 L81.1,460.2 L81.3,460.1 L81.6,460.2 L81.8,460.3 L82,460.3 L82.3,460.5 L82.5,460.6 L82.7,460.5 L83,460.3 L83.2,460.1 L83.4,460.1 L83.7,460.6 L83.9,460.6 L84.1,460.6 L84.4,460.7 L84.6,460.7 L84.8,461 L85.1,461.3 L85.3,461.3 L85.5,461.2 L85.8,461.4 L86,461.6 L86.3,461.5 L86.5,461.7 L86.7,462.1 L87,462.2 L87.2,462.2 L87.4,462.2 L87.7,462.1 L87.9,462.4 L88.1,462.8 L88.4,463 L88.6,462.8 L88.8,462.7 L89.1,463 L89.3,463.2 L89.5,463.3 L89.8,463.3 L90,463.4 L90.2,463.7 L90.5,463.9 L90.7,464 L90.9,464.3 L91.2,464.4 L91.4,464.4 L91.6,464.6 L91.9,465 L92.1,465.3 L92.3,465.4 L92.6,465.2 L92.8,465.2 L93,465.3 L93.3,465.5 L93.5,465.8 L93.7,466 L94,466.1 L94.2,466.3 L94.4,466.6 L94.7,466.7 L94.9,466.8 L95.1,467.1 L95.4,467.4 L95.6,467.4 L95.8,467.4 L96.1,467.9 L96.3,468.2 L96.5,468.3 L96.8,468.5 L97,468.9 L97.2,468.9 L97.5,468.9 L97.7,469.1 L97.9,469.1 L98.2,469.4 L98.4,469.7 L98.6,469.9 L98.9,470.2 L99.1,470.1 L99.3,470 L99.6,470.2 L99.8,470.2 L100,470.3 L100.3,470.5 L100.5,470.9 L100.7,471.4 L101,471.3 L101.2,471.3 L101.4,471.6 L101.7,471.7 L101.9,471.7 L102.1,471.9 L102.4,472.2 L102.6,472 L102.8,471.9 L103.1,471.9 L103.3,471.8 L103.5,471.8 L103.8,472.1 L104,472.5 L104.2,472.6 L104.5,472.3 L104.7,472.1 L104.9,472.1 L105.2,472.2 L105.4,472.3 L105.6,472.3 L105.9,472.3 L106.1,472.5 L106.3,472.6 L106.6,472.7 L106.8,472.6 L107,472.6 L107.3,472.5 L107.5,472.2 L107.8,472 L108,471.7 L108.2,471.9 L108.5,472.2 L108.7,472.2 L108.9,472.2 L109.2,472.2 L109.4,472.1 L109.6,472.4 L109.9,472.6 L110.1,472.1 L110.3,471.8 L110.6,471.6 L110.8,471.7 L111,471.6 L111.3,471.2 L111.5,471.2 L111.7,470.9 L112,470.5 L112.2,470.5 L112.4,470.5 L112.7,470.3 L112.9,470.1 L113.1,470.1 L113.4,469.9 L113.6,469.5 L113.8,469.3 L114.1,469.5 L114.3,469.6 L114.5,469.3 L114.8,469.2 L115,469.1 L115.2,468.9 L115.5,468.7 L115.7,468.8 L115.9,468.9 L116.2,469 L116.4,468.6 L116.6,468.2 L116.9,468.2 L117.1,468.3 L117.3,468.1 L117.6,467.8 L117.8,467.7 L118,467.6 L118.3,467.4 L118.5,467.1 L118.7,467 L119,466.9 L119.2,466.6 L119.4,466.5 L119.7,466.6 L119.9,466.6 L120.1,466.3 L120.4,466.1 L120.6,465.9 L120.8,465.6 L121.1,465.4 L121.3,465.2 L121.5,465.1 L121.8,465.2 L122,465.2 L122.2,464.8 L122.5,464.3 L122.7,464.1 L122.9,464 L123.2,463.9 L123.4,463.7 L123.6,463.4 L123.9,462.9 L124.1,462.7 L124.3,462.6" stroke="#4040ff" stroke-width="0.8" fill="none" stroke-linejoin="round"/>
<path d="M31.1,466.1 L31.4,466.1 L31.7,466.1 L32,466 L32.3,466 L32.7,466 L33,466 L33.3,465.9 L33.6,465.9 L33.9,465.9 L34.2,465.9 L34.5,465.8 L34.8,465.8 L35.2,465.8 L35.5,465.8 L35.8,465.7 L36.1,465.7 L36.4,465.7 L36.7,465.7 L37,465.6 L37.3,465.6 L37.6,465.6 L38,465.6 L38.3,465.5 L38.6,465.5 L38.9,465.5 L39.2,465.5 L39.5,465.4 L39.8,465.4 L40.1,465.4 L40.5,465.4 L40.8,465.3 L41.1,465.3 L41.4,465.3 L41.7,465.3 L42,465.2 L42.3,465.2 L42.6,465.2 L43,465.2 L43.3,465.1 L43.6,465.1 L43.9,465.1 L44.2,465 L44.5,465 L44.8,465 L45.1,465 L45.4,464.9 L45.8,464.9 L46.1,464.9 L46.4,464.9 L46.7,464.8 L47,464.8 L47.3,464.8 L47.6,464.7 L47.9,464.7 L48.3,464.7 L48.6,464.7 L48.9,464.6 L49.2,464.6 L49.5,464.6 L49.8,464.5 L50.1,464.5 L50.4,464.5 L50.7,464.5 L51.1,464.4 L51.4,464.4 L51.7,464.4 L52,464.3 L52.3,464.3 L52.6,464.3 L52.9,464.2 L53.2,464.2 L53.6,464.2 L53.9,464.1 L54.2,464.1 L54.5,464 L54.8,464 L55.1,463.9 L55.4,463.9 L55.7,463.9 L56,463.8 L56.4,463.8 L56.7,463.7 L57,463.7 L57.3,463.7 L57.6,463.6 L57.9,463.6 L58.2,463.6 L58.5,463.5 L58.9,463.5 L59.2,463.5 L59.5,463.4 L59.8,463.4 L60.1,463.4 L60.4,463.4 L60.7,463.3 L61,463.3 L61.3,463.3 L61.7,463.3 L62,463.3 L62.3,463.3 L62.6,463.3 L62.9,463.3 L63.2,463.3 L63.5,463.3 L63.8,463.3 L64.2,463.3 L64.5,463.3 L64.8,463.3 L65.1,463.3 L65.4,463.3 L65.7,463.3 L66,463.4 L66.3,463.4 L66.7,463.4 L67,463.4 L67.3,463.4 L67.6,463.4 L67.9,463.4 L68.2,463.4 L68.5,463.4 L68.8,463.4 L69.1,463.5 L69.5,463.5 L69.8,463.5 L70.1,463.5 L70.4,463.5 L70.7,463.5 L71,463.5 L71.3,463.5 L71.6,463.6 L72,463.6 L72.3,463.6 L72.6,463.6 L72.9,463.6 L73.2,463.6 L73.5,463.6 L73.8,463.6 L74.1,463.7 L74.4,463.7 L74.8,463.7 L75.1,463.7 L75.4,463.7 L75.7,463.7 L76,463.7 L76.3,463.7 L76.6,463.8 L76.9,463.8 L77.3,463.8 L77.6,463.8 L77.9,463.8 L78.2,463.8 L78.5,463.8 L78.8,463.8 L79.1,463.8 L79.4,463.8 L79.7,463.8 L80.1,463.8 L80.4,463.8 L80.7,463.9 L81,463.9 L81.3,463.9 L81.6,463.9 L81.9,463.9 L82.2,463.9 L82.6,463.9 L82.9,463.9 L83.2,463.9 L83.5,463.9 L83.8,463.9 L84.1,463.9 L84.4,463.9 L84.7,463.9 L85,463.9 L85.4,463.9 L85.7,463.9 L86,463.9 L86.3,463.9 L86.6,463.9 L86.9,463.9 L87.2,463.9 L87.5,463.9 L87.9,463.9 L88.2,463.9 L88.5,463.9 L88.8,463.9 L89.1,463.9 L89.4,463.9 L89.7,463.9 L90,463.9 L90.4,463.9 L90.7,463.9 L91,463.9 L91.3,463.9 L91.6,463.9 L91.9,463.9 L92.2,463.9 L92.5,463.9 L92.8,463.9 L93.2,463.9 L93.5,463.8 L93.8,463.8 L94.1,463.8 L94.4,463.8 L94.7,463.8 L95,463.7 L95.3,463.7 L95.7,463.7 L96,463.7 L96.3,463.6 L96.6,463.6 L96.9,463.6 L97.2,463.6 L97.5,463.6 L97.8,463.6 L98.1,463.5 L98.5,463.5 L98.8,463.5 L99.1,463.5 L99.4,463.5 L99.7,463.5 L100,463.5 L100.3,463.5 L100.6,463.5 L101,463.5 L101.3,463.5 L101.6,463.4 L101.9,463.4 L102.2,463.4 L102.5,463.4 L102.8,463.4 L103.1,463.4 L103.4,463.4 L103.8,463.4 L104.1,463.4 L104.4,463.4 L104.7,463.4 L105,463.4 L105.3,463.4 L105.6,463.4 L105.9,463.3 L106.3,463.3 L106.6,463.3 L106.9,463.3 L107.2,463.3 L107.5,463.3 L107.8,463.3 L108.1,463.3 L108.4,463.3 L108.8,463.3 L109.1,463.3 L109.4,463.3 L109.7,463.3 L110,463.3 L110.3,463.3 L110.6,463.3 L110.9,463.3 L111.2,463.3 L111.6,463.3 L111.9,463.3 L112.2,463.3 L112.5,463.3 L112.8,463.3 L113.1,463.4 L113.4,463.4 L113.7,463.4 L114.1,463.4 L114.4,463.4 L114.7,463.5 L115,463.5 L115.3,463.5 L115.6,463.5 L115.9,463.6 L116.2,463.6 L116.5,463.6 L116.9,463.7 L117.2,463.7 L117.5,463.7 L117.8,463.7 L118.1,463.8 L118.4,463.8 L118.7,463.8 L119,463.8 L119.4,463.8 L119.7,463.8 L120,463.9 L120.3,463.9 L120.6,463.9 L120.9,463.9 L121.2,463.9 L121.5,463.9 L121.8,463.9 L122.2,463.9 L122.5,463.9 L122.8,463.9 L123.1,463.9 L123.4,463.9 L123.7,463.9 L124,463.9 L124.3,463.9" stroke="#ff3a3a" stroke-width="0.8" fill="none" stroke-dasharray="3.6 2.4" stroke-linejoin="round"/>
<text x="19.3" y="468.9" font-size="7.8" font-family='"Liberation Serif", serif' text-anchor="middle" fill="#2a2a2a" textLength="21" lengthAdjust="spacingAndGlyphs" transform="rotate(-90 19.3 468.9)" class="s" ><tspan font-style="italic">v</tspan>(m/s)</text>
<rect x="31.1" y="495.9" width="123.5" height="22.4" fill="none" stroke="#7a7a7a" stroke-width="0.9"/>
<text x="31.1" y="527.1" font-size="6.5" font-family='"Liberation Sans", sans-serif' text-anchor="middle" fill="#2a2a2a" textLength="3.3" lengthAdjust="spacingAndGlyphs" class="t" >0</text>
<text x="62" y="527.1" font-size="6.5" font-family='"Liberation Sans", sans-serif' text-anchor="middle" fill="#2a2a2a" textLength="9.8" lengthAdjust="spacingAndGlyphs" class="t" >100</text>
<text x="92.8" y="527.1" font-size="6.5" font-family='"Liberation Sans", sans-serif' text-anchor="middle" fill="#2a2a2a" textLength="9.8" lengthAdjust="spacingAndGlyphs" class="t" >200</text>
<text x="123.7" y="527.1" font-size="6.5" font-family='"Liberation Sans", sans-serif' text-anchor="middle" fill="#2a2a2a" textLength="9.8" lengthAdjust="spacingAndGlyphs" class="t" >300</text>
<text x="154.6" y="527.1" font-size="6.5" font-family='"Liberation Sans", sans-serif' text-anchor="middle" fill="#2a2a2a" textLength="9.8" lengthAdjust="spacingAndGlyphs" class="t" >400</text>
<text x="28.4" y="520.8" font-size="6.5" font-family='"Liberation Sans", sans-serif' text-anchor="end" fill="#2a2a2a" textLength="13.7" lengthAdjust="spacingAndGlyphs" class="t" >-0.05</text>
<text x="28.4" y="509.6" font-size="6.5" font-family='"Liberation Sans", sans-serif' text-anchor="end" fill="#2a2a2a" textLength="3.3" lengthAdjust="spacingAndGlyphs" class="t" >0</text>
<text x="28.4" y="498.4" font-size="6.5" font-family='"Liberation Sans", sans-serif' text-anchor="end" fill="#2a2a2a" textLength="11.5" lengthAdjust="spacingAndGlyphs" class="t" >0.05</text>
<path d="M31.1,518.3v-1 M31.1,495.9v1 M62,518.3v-1 M62,495.9v1 M92.8,518.3v-1 M92.8,495.9v1 M123.7,518.3v-1 M123.7,495.9v1 M154.6,518.3v-1 M154.6,495.9v1 M31.1,518.3h1 M154.6,518.3h-1 M31.1,507.1h1 M154.6,507.1h-1 M31.1,495.9h1 M154.6,495.9h-1" stroke="#7a7a7a" stroke-width="0.8" fill="none"/>
<path d="M31.1,507.1 L38.2,510.2 L43.5,507.1 L50.2,505.1 L58,501.9 L60.4,502.6 L63.8,505.3 L70.9,507.1 L77.7,509.8 L83.6,511.6 L87.9,508.9 L91.6,506.7 L99,504.9 L108,502.4 L110.4,502.4 L114.2,505.3 L124,508.9" stroke="#4040ff" stroke-width="0.8" fill="none"/>
<path d="M31.1,507.1 L38.2,510.2 L43.5,507.1 L50.2,505.1 L58,501.9 L60.4,502.6 L63.8,505.3 L70.9,507.1 L77.7,509.8 L83.6,511.6 L87.9,508.9 L91.6,506.7 L99,504.9 L108,502.4 L110.4,502.4 L114.2,505.3 L124,508.9" stroke="#ff3a3a" stroke-width="0.95" fill="none" stroke-dasharray="4.2 1.8"/>
<text x="10.6" y="507.1" font-size="7.8" font-family='"Liberation Serif", serif' text-anchor="middle" fill="#2a2a2a" textLength="24.8" lengthAdjust="spacingAndGlyphs" transform="rotate(-90 10.6 507.1)" class="s" ><tspan font-style="italic">r</tspan>(rad/s)</text>
<text x="92.8" y="535" font-size="7.4" font-family='"Liberation Serif", serif' text-anchor="middle" fill="#2a2a2a" class="s" ><tspan font-style="italic">t</tspan>(s)</text>
<text x="92.8" y="543.5" font-size="8" font-family='"Liberation Serif", serif' text-anchor="middle" fill="#2a2a2a" class="s" >(g)</text>
<rect x="243.1" y="16.3" width="128.4" height="102.9" fill="none" stroke="#7a7a7a" stroke-width="0.9"/>
<text x="256.6" y="128" font-size="6.5" font-family='"Liberation Sans", sans-serif' text-anchor="middle" fill="#2a2a2a" textLength="12" lengthAdjust="spacingAndGlyphs" class="t" >-600</text>
<text x="275.5" y="128" font-size="6.5" font-family='"Liberation Sans", sans-serif' text-anchor="middle" fill="#2a2a2a" textLength="12" lengthAdjust="spacingAndGlyphs" class="t" >-500</text>
<text x="294.4" y="128" font-size="6.5" font-family='"Liberation Sans", sans-serif' text-anchor="middle" fill="#2a2a2a" textLength="12" lengthAdjust="spacingAndGlyphs" class="t" >-400</text>
<text x="313.4" y="128" font-size="6.5" font-family='"Liberation Sans", sans-serif' text-anchor="middle" fill="#2a2a2a" textLength="12" lengthAdjust="spacingAndGlyphs" class="t" >-300</text>
<text x="332.3" y="128" font-size="6.5" font-family='"Liberation Sans", sans-serif' text-anchor="middle" fill="#2a2a2a" textLength="12" lengthAdjust="spacingAndGlyphs" class="t" >-200</text>
<text x="351.2" y="128" font-size="6.5" font-family='"Liberation Sans", sans-serif' text-anchor="middle" fill="#2a2a2a" textLength="12" lengthAdjust="spacingAndGlyphs" class="t" >-100</text>
<text x="370.1" y="128" font-size="6.5" font-family='"Liberation Sans", sans-serif' text-anchor="middle" fill="#2a2a2a" textLength="3.3" lengthAdjust="spacingAndGlyphs" class="t" >0</text>
<text x="240.4" y="112.5" font-size="6.5" font-family='"Liberation Sans", sans-serif' text-anchor="end" fill="#2a2a2a" textLength="3.3" lengthAdjust="spacingAndGlyphs" class="t" >0</text>
<text x="240.4" y="93.7" font-size="6.5" font-family='"Liberation Sans", sans-serif' text-anchor="end" fill="#2a2a2a" textLength="9.8" lengthAdjust="spacingAndGlyphs" class="t" >100</text>
<text x="240.4" y="74.8" font-size="6.5" font-family='"Liberation Sans", sans-serif' text-anchor="end" fill="#2a2a2a" textLength="9.8" lengthAdjust="spacingAndGlyphs" class="t" >200</text>
<text x="240.4" y="56" font-size="6.5" font-family='"Liberation Sans", sans-serif' text-anchor="end" fill="#2a2a2a" textLength="9.8" lengthAdjust="spacingAndGlyphs" class="t" >300</text>
<text x="240.4" y="37.2" font-size="6.5" font-family='"Liberation Sans", sans-serif' text-anchor="end" fill="#2a2a2a" textLength="9.8" lengthAdjust="spacingAndGlyphs" class="t" >400</text>
<path d="M256.6,119.2v-1.2 M256.6,16.3v1.2 M275.5,119.2v-1.2 M275.5,16.3v1.2 M294.4,119.2v-1.2 M294.4,16.3v1.2 M313.4,119.2v-1.2 M313.4,16.3v1.2 M332.3,119.2v-1.2 M332.3,16.3v1.2 M351.2,119.2v-1.2 M351.2,16.3v1.2 M370.1,119.2v-1.2 M370.1,16.3v1.2 M243.1,110h1.2 M371.5,110h-1.2 M243.1,91.2h1.2 M371.5,91.2h-1.2 M243.1,72.3h1.2 M371.5,72.3h-1.2 M243.1,53.5h1.2 M371.5,53.5h-1.2 M243.1,34.7h1.2 M371.5,34.7h-1.2" stroke="#7a7a7a" stroke-width="0.8" fill="none"/>
<text x="307.3" y="135.9" font-size="7.4" font-family='"Liberation Serif", serif' text-anchor="middle" fill="#2a2a2a" textLength="14.4" lengthAdjust="spacingAndGlyphs" class="s" ><tspan font-style="italic">x</tspan>(m)</text>
<text x="307.3" y="144" font-size="8" font-family='"Liberation Serif", serif' text-anchor="middle" fill="#2a2a2a" class="s" >(b)</text>
<text x="226" y="67.8" font-size="7.8" font-family='"Liberation Serif", serif' text-anchor="middle" fill="#2a2a2a" textLength="14.2" lengthAdjust="spacingAndGlyphs" transform="rotate(-90 226 67.8)" class="s" ><tspan font-style="italic">y</tspan>(m)</text>
<path d="M370.1,110 L368.7,110.1 L367.2,110.1 L365.8,110.2 L364.3,110.2 L362.9,110.3 L361.4,110.3 L360,110.4 L358.6,110.5 L357.1,110.5 L355.7,110.6 L354.3,110.6 L352.9,110.7 L351.4,110.7 L350,110.8 L348.6,110.9 L347.1,110.9 L345.7,111 L344.3,111 L342.9,111.1 L341.5,111.1 L340.1,111.1 L338.7,111.2 L337.3,111.2 L335.9,111.2 L334.5,111.2 L333.1,111.2 L331.8,111.2 L330.5,111.2 L329.1,111.2 L327.8,111.2 L326.5,111.1 L325.2,111.1 L323.9,111 L322.7,110.9 L321.4,110.9 L320.2,110.8 L318.9,110.7 L317.7,110.6 L316.5,110.4 L315.3,110.3 L314.1,110.2 L312.9,110 L311.8,109.9 L310.6,109.7 L309.4,109.5 L308.2,109.3 L307,109.1 L305.8,108.9 L304.7,108.6 L303.5,108.4 L302.3,108.1 L301.2,107.8 L300,107.5 L298.8,107.2 L297.7,106.9 L296.6,106.5 L295.4,106.2 L294.3,105.8 L293.2,105.4 L292.1,104.9 L291,104.5 L289.9,104 L288.8,103.5 L287.7,103 L286.7,102.5 L285.6,101.9 L284.6,101.3 L283.6,100.7 L282.5,100.1 L281.6,99.5 L280.6,98.8 L279.6,98.1 L278.7,97.4 L277.8,96.7 L276.8,95.9 L276,95.1 L275.1,94.3 L274.2,93.4 L273.4,92.5 L272.6,91.6 L271.8,90.7 L271.1,89.7 L270.3,88.8 L269.7,87.8 L269,86.8 L268.4,85.8 L267.8,84.7 L267.3,83.7 L266.7,82.7 L266.3,81.6 L265.8,80.5 L265.4,79.4 L265,78.4 L264.7,77.3 L264.4,76.2 L264.1,75.1 L263.9,74 L263.6,72.9 L263.5,71.7 L263.3,70.6 L263.2,69.5 L263.2,68.4 L263.2,67.3 L263.2,66.2 L263.2,65.1 L263.3,64 L263.4,62.9 L263.5,61.8 L263.7,60.7 L263.9,59.6 L264.2,58.6 L264.5,57.5 L264.8,56.5 L265.1,55.4 L265.5,54.4 L265.9,53.4 L266.4,52.5 L266.9,51.5 L267.4,50.5 L267.9,49.6 L268.5,48.7 L269.1,47.8 L269.7,47 L270.3,46.1 L271,45.3 L271.7,44.6 L272.4,43.8 L273.1,43.1 L273.9,42.4 L274.7,41.7 L275.5,41.1 L276.3,40.5 L277.1,39.9 L278,39.3 L278.9,38.8 L279.7,38.3 L280.6,37.9 L281.5,37.4 L282.5,37.1 L283.4,36.7 L284.3,36.4 L285.3,36.1 L286.2,35.8 L287.2,35.6 L288.2,35.4 L289.1,35.2 L290.1,35.1 L291.1,35 L292.1,34.9 L293.1,34.9 L294.1,34.9 L295,34.9 L296,35 L297,35.1 L298,35.3 L299,35.4 L300,35.6 L301.1,35.9 L302.1,36.2 L303.1,36.5 L304.1,36.9 L305.2,37.3 L306.2,37.7 L307.2,38.2 L308.3,38.7 L309.3,39.3 L310.3,39.9 L311.3,40.6 L312.3,41.3 L313.2,42.1 L314.2,42.9 L315.1,43.7 L316.1,44.6 L317,45.6 L317.8,46.5 L318.7,47.6 L319.5,48.6 L320.3,49.8 L321,50.9 L321.7,52.1 L322.4,53.4 L323,54.7 L323.6,56 L324.2,57.4 L324.6,58.8 L325.1,60.3 L325.5,61.7 L325.8,63.3 L326.1,64.8 L326.3,66.4 L326.4,68 L326.5,69.6 L326.5,71.2 L326.5,72.9 L326.3,74.6 L326.1,76.2 L325.9,77.9 L325.5,79.5 L325.1,81.2 L324.6,82.8 L324.1,84.4 L323.5,86 L322.8,87.6 L322,89.1 L321.2,90.6 L320.3,92.1 L319.4,93.5 L318.4,94.9 L317.3,96.3 L316.2,97.6 L315,98.8 L313.8,100.1 L312.5,101.2 L311.2,102.3 L309.9,103.4 L308.5,104.4 L307,105.3 L305.6,106.2 L304,107.1 L302.5,107.8 L300.9,108.5 L299.3,109.2 L297.7,109.8 L296,110.3 L294.3,110.7 L292.6,111.1 L290.9,111.4 L289.1,111.6 L287.4,111.8 L285.6,111.9 L283.9,111.9 L282.1,111.9 L280.3,111.8 L278.6,111.6 L276.8,111.3 L275.1,111 L273.4,110.6 L271.7,110.1 L270.1,109.6 L268.4,108.9 L266.8,108.3 L265.3,107.5 L263.7,106.7 L262.2,105.9 L260.8,105 L259.4,104 L258,102.9 L256.7,101.8 L255.4,100.7 L254.2,99.5 L253.1,98.3 L252,97 L250.9,95.7 L250,94.3 L249,92.9 L248.2,91.4 L247.4,90 L246.7,88.4 L246,86.9 L245.5,85.3 L245,83.7 L244.5,82.1 L244.2,80.5 L243.9,78.9 L243.7,77.2 L243.5,75.6 L243.5,73.9 L243.5,72.2 L243.6,70.6 L243.8,68.9 L244,67.3 L244.3,65.7 L244.7,64.1 L245.2,62.5 L245.8,60.9 L246.4,59.4 L247.1,57.9 L247.8,56.4 L248.7,55 L249.6,53.6 L250.6,52.3 L251.6,51 L252.7,49.7 L253.9,48.5 L255.1,47.4 L256.3,46.3 L257.7,45.3 L259,44.3 L260.4,43.4 L261.9,42.6 L263.4,41.8 L264.9,41.2 L266.5,40.6 L268.1,40 L269.7,39.6 L271.3,39.2 L272.9,38.9 L274.6,38.7" stroke="#ff3a3a" stroke-width="0.8" fill="none" stroke-dasharray="3.6 2.4"/>
<path d="M368.4,110h3.4 M370.1,108.3v3.4 M368.9,108.8l2.4,2.4 M368.9,111.2l2.4,-2.4 M351.6,110.7h3.4 M353.3,109v3.4 M352.1,109.4l2.4,2.4 M352.1,111.9l2.4,-2.4 M335.1,111.2h3.4 M336.8,109.5v3.4 M335.6,110l2.4,2.4 M335.6,112.4l2.4,-2.4 M318.9,110.8h3.4 M320.6,109.1v3.4 M319.4,109.6l2.4,2.4 M319.4,112l2.4,-2.4 M303,108.6h3.4 M304.7,106.9v3.4 M303.4,107.4l2.4,2.4 M303.4,109.9l2.4,-2.4 M288.9,104.3h3.4 M290.6,102.6v3.4 M289.4,103.1l2.4,2.4 M289.4,105.5l2.4,-2.4 M277.3,97.7h3.4 M279,96v3.4 M277.8,96.4l2.4,2.4 M277.8,98.9l2.4,-2.4 M268.6,88.8h3.4 M270.3,87.1v3.4 M269.1,87.6l2.4,2.4 M269.1,90l2.4,-2.4 M263.6,79.1h3.4 M265.3,77.4v3.4 M264,77.9l2.4,2.4 M264,80.3l2.4,-2.4 M261.5,69.5h3.4 M263.2,67.8v3.4 M262,68.3l2.4,2.4 M262,70.7l2.4,-2.4 M262.1,60.3h3.4 M263.8,58.6v3.4 M262.6,59.1l2.4,2.4 M262.6,61.6l2.4,-2.4 M264.8,52.1h3.4 M266.5,50.4v3.4 M265.3,50.9l2.4,2.4 M265.3,53.4l2.4,-2.4 M269.3,45.3h3.4 M271,43.6v3.4 M269.8,44.1l2.4,2.4 M269.8,46.6l2.4,-2.4 M275.4,39.9h3.4 M277.1,38.2v3.4 M275.9,38.7l2.4,2.4 M275.9,41.1l2.4,-2.4 M282.3,36.5h3.4 M284,34.8v3.4 M282.8,35.2l2.4,2.4 M282.8,37.7l2.4,-2.4 M290.4,34.9h3.4 M292.1,33.2v3.4 M290.9,33.7l2.4,2.4 M290.9,36.2l2.4,-2.4 M298.3,35.6h3.4 M300,33.9v3.4 M298.8,34.4l2.4,2.4 M298.8,36.9l2.4,-2.4 M306.2,38.6h3.4 M307.9,36.9v3.4 M306.7,37.3l2.4,2.4 M306.7,39.8l2.4,-2.4 M313.4,43.7h3.4 M315.1,42v3.4 M313.9,42.5l2.4,2.4 M313.9,45l2.4,-2.4 M319.1,50.5h3.4 M320.8,48.8v3.4 M319.5,49.3l2.4,2.4 M319.5,51.8l2.4,-2.4 M322.8,58.3h3.4 M324.5,56.6v3.4 M323.3,57.1l2.4,2.4 M323.3,59.6l2.4,-2.4 M324.7,67.4h3.4 M326.4,65.7v3.4 M325.2,66.2l2.4,2.4 M325.2,68.7l2.4,-2.4 M324.4,76.2h3.4 M326.1,74.5v3.4 M324.9,75l2.4,2.4 M324.9,77.5l2.4,-2.4 M322.2,84.9h3.4 M323.9,83.2v3.4 M322.7,83.7l2.4,2.4 M322.7,86.2l2.4,-2.4 M317.7,93.5h3.4 M319.4,91.8v3.4 M318.2,92.3l2.4,2.4 M318.2,94.7l2.4,-2.4 M311.7,100.4h3.4 M313.4,98.7v3.4 M312.2,99.2l2.4,2.4 M312.2,101.7l2.4,-2.4 M304.4,105.9h3.4 M306.1,104.2v3.4 M304.8,104.7l2.4,2.4 M304.8,107.2l2.4,-2.4 M296,109.8h3.4 M297.7,108.1v3.4 M296.4,108.5l2.4,2.4 M296.4,111l2.4,-2.4 M286.8,111.7h3.4 M288.5,110v3.4 M287.3,110.5l2.4,2.4 M287.3,112.9l2.4,-2.4 M277.5,111.6h3.4 M279.2,109.9v3.4 M277.9,110.4l2.4,2.4 M277.9,112.9l2.4,-2.4 M268.9,109.7h3.4 M270.6,108v3.4 M269.4,108.5l2.4,2.4 M269.4,111l2.4,-2.4 M260.5,105.9h3.4 M262.2,104.2v3.4 M261,104.6l2.4,2.4 M261,107.1l2.4,-2.4 M253.7,100.7h3.4 M255.4,99v3.4 M254.2,99.5l2.4,2.4 M254.2,101.9l2.4,-2.4 M247.9,93.8h3.4 M249.6,92.1v3.4 M248.4,92.6l2.4,2.4 M248.4,95.1l2.4,-2.4 M244.1,86.4h3.4 M245.8,84.7v3.4 M244.6,85.2l2.4,2.4 M244.6,87.6l2.4,-2.4 M242.1,78.3h3.4 M243.8,76.6v3.4 M242.6,77.1l2.4,2.4 M242.6,79.5l2.4,-2.4 M241.9,70h3.4 M243.6,68.3v3.4 M242.4,68.8l2.4,2.4 M242.4,71.3l2.4,-2.4 M243.9,61.4h3.4 M245.6,59.7v3.4 M244.3,60.2l2.4,2.4 M244.3,62.7l2.4,-2.4 M247.6,54.1h3.4 M249.3,52.4v3.4 M248.1,52.8l2.4,2.4 M248.1,55.3l2.4,-2.4 M253,47.7h3.4 M254.7,46v3.4 M253.4,46.5l2.4,2.4 M253.4,49l2.4,-2.4 M259.7,42.9h3.4 M261.4,41.2v3.4 M260.2,41.6l2.4,2.4 M260.2,44.1l2.4,-2.4 M268,39.6h3.4 M269.7,37.9v3.4 M268.4,38.4l2.4,2.4 M268.4,40.8l2.4,-2.4" stroke="#ff3a3a" stroke-width="0.9" fill="none"/>
<path d="M370.1,110 L368.8,110 L367.5,110 L366.2,110 L364.9,110 L363.6,110 L362.3,110 L361,110 L359.7,110 L358.4,110 L357.1,110 L355.8,110 L354.5,110 L353.2,110 L351.9,110 L350.6,110 L349.3,110 L348,110 L346.7,110 L345.4,110 L344.2,110 L342.9,109.9 L341.6,109.9 L340.4,109.9 L339.1,109.9 L337.9,109.8 L336.7,109.8 L335.4,109.7 L334.2,109.6 L333,109.5 L331.9,109.5 L330.7,109.4 L329.5,109.2 L328.4,109.1 L327.3,109 L326.1,108.9 L325,108.7 L323.9,108.5 L322.8,108.4 L321.8,108.2 L320.7,108 L319.7,107.8 L318.6,107.6 L317.5,107.4 L316.5,107.2 L315.4,106.9 L314.4,106.7 L313.3,106.4 L312.3,106.1 L311.3,105.8 L310.2,105.5 L309.2,105.2 L308.2,104.8 L307.1,104.5 L306.1,104.1 L305.1,103.7 L304.1,103.3 L303.1,102.9 L302.1,102.4 L301.1,102 L300.2,101.5 L299.2,101 L298.2,100.5 L297.3,99.9 L296.3,99.3 L295.4,98.7 L294.5,98.1 L293.6,97.5 L292.7,96.8 L291.8,96.2 L291,95.5 L290.2,94.7 L289.3,94 L288.5,93.2 L287.7,92.4 L287,91.6 L286.2,90.7 L285.5,89.9 L284.7,88.9 L284,88 L283.4,87 L282.7,86 L282.1,85 L281.5,84 L281,83 L280.5,81.9 L280,80.8 L279.5,79.8 L279.1,78.7 L278.7,77.5 L278.4,76.4 L278.1,75.3 L277.8,74.2 L277.5,73 L277.3,71.9 L277.2,70.7 L277,69.6 L276.9,68.4 L276.9,67.2 L276.8,66.1 L276.8,64.9 L276.9,63.7 L276.9,62.5 L277,61.4 L277.2,60.2 L277.4,59 L277.6,57.9 L277.8,56.7 L278.1,55.6 L278.4,54.4 L278.8,53.3 L279.1,52.2 L279.6,51.1 L280,50 L280.5,48.9 L281,47.8 L281.6,46.8 L282.2,45.7 L282.8,44.7 L283.4,43.7 L284.1,42.7 L284.8,41.8 L285.5,40.8 L286.3,39.9 L287,39 L287.8,38.2 L288.7,37.3 L289.5,36.5 L290.4,35.7 L291.3,35 L292.2,34.3 L293.1,33.6 L294.1,32.9 L295.1,32.3 L296,31.6 L297,31.1 L298.1,30.5 L299.1,30 L300.1,29.5 L301.2,29.1 L302.2,28.7 L303.3,28.3 L304.4,27.9 L305.5,27.6 L306.6,27.3 L307.7,27.1 L308.8,26.8 L309.9,26.7 L311,26.5 L312.2,26.4 L313.3,26.3 L314.4,26.2 L315.5,26.2 L316.7,26.2 L317.8,26.3 L318.9,26.4 L320,26.5 L321.2,26.6 L322.3,26.8 L323.5,27.1 L324.7,27.3 L325.8,27.6 L327,28 L328.2,28.4 L329.3,28.8 L330.5,29.3 L331.6,29.8 L332.8,30.4 L333.9,31 L335,31.6 L336.2,32.3 L337.2,33.1 L338.3,33.9 L339.4,34.7 L340.4,35.6 L341.4,36.5 L342.4,37.5 L343.3,38.5 L344.2,39.6 L345.1,40.7 L346,41.8 L346.8,43 L347.6,44.2 L348.3,45.5 L349,46.8 L349.6,48.2 L350.2,49.6 L350.7,51 L351.1,52.5 L351.5,54 L351.9,55.5 L352.2,57 L352.4,58.6 L352.5,60.2 L352.6,61.8 L352.6,63.4 L352.6,65 L352.4,66.6 L352.2,68.2 L351.9,69.8 L351.6,71.3 L351.2,72.9 L350.7,74.4 L350.1,75.9 L349.5,77.4 L348.8,78.8 L348.1,80.3 L347.3,81.6 L346.4,83 L345.5,84.3 L344.5,85.5 L343.5,86.7 L342.4,87.9 L341.3,89 L340.1,90.1 L338.8,91.1 L337.6,92 L336.3,92.9 L334.9,93.7 L333.6,94.5 L332.1,95.2 L330.7,95.9 L329.2,96.4 L327.7,97 L326.2,97.4 L324.6,97.8 L323,98.1 L321.5,98.4 L319.9,98.5 L318.2,98.7 L316.6,98.7 L315,98.7 L313.4,98.6 L311.7,98.4 L310.1,98.1 L308.5,97.8 L306.9,97.4 L305.4,97 L303.8,96.4 L302.3,95.8 L300.8,95.2 L299.3,94.4 L297.9,93.7 L296.5,92.8 L295.1,91.9 L293.8,90.9 L292.5,89.9 L291.3,88.8 L290.1,87.6 L289,86.4 L287.9,85.2 L286.9,83.9 L285.9,82.5 L285,81.2 L284.2,79.7 L283.4,78.3 L282.7,76.8 L282,75.2 L281.5,73.6 L280.9,72 L280.5,70.4 L280.1,68.8 L279.8,67.1 L279.6,65.4 L279.4,63.7 L279.4,62 L279.4,60.3 L279.4,58.6 L279.6,56.9 L279.8,55.2 L280.1,53.5 L280.5,51.8 L281,50.1 L281.5,48.4 L282.1,46.8 L282.8,45.2 L283.6,43.6 L284.4,42 L285.3,40.5 L286.3,39 L287.3,37.5 L288.4,36.1 L289.6,34.8 L290.8,33.5 L292.1,32.2 L293.5,31 L294.9,29.9 L296.3,28.8 L297.8,27.8 L299.4,26.8 L301,26 L302.6,25.1 L304.3,24.4 L306,23.8 L307.7,23.2 L309.4,22.7 L311.2,22.2 L313,21.9 L314.8,21.6" stroke="#4040ff" stroke-width="0.8" fill="none"/>
<g fill="none" stroke="#4040ff" stroke-width="0.7"><circle cx="370.1" cy="110" r="1.8"/><circle cx="354.9" cy="110" r="1.8"/><circle cx="339.9" cy="109.9" r="1.8"/><circle cx="325.4" cy="108.8" r="1.8"/><circle cx="311.3" cy="105.8" r="1.8"/><circle cx="298.9" cy="100.8" r="1.8"/><circle cx="288.8" cy="93.5" r="1.8"/><circle cx="281.5" cy="84" r="1.8"/><circle cx="277.7" cy="73.8" r="1.8"/><circle cx="276.9" cy="63.7" r="1.8"/><circle cx="278.5" cy="54.1" r="1.8"/><circle cx="282.4" cy="45.4" r="1.8"/><circle cx="287.8" cy="38.2" r="1.8"/><circle cx="295.1" cy="32.3" r="1.8"/><circle cx="303" cy="28.4" r="1.8"/><circle cx="312.2" cy="26.4" r="1.8"/><circle cx="321.2" cy="26.6" r="1.8"/><circle cx="330.1" cy="29.1" r="1.8"/><circle cx="338.3" cy="33.9" r="1.8"/><circle cx="344.8" cy="40.3" r="1.8"/><circle cx="349.4" cy="47.7" r="1.8"/><circle cx="352.1" cy="56.5" r="1.8"/><circle cx="352.6" cy="65" r="1.8"/><circle cx="351" cy="73.4" r="1.8"/><circle cx="347.3" cy="81.6" r="1.8"/><circle cx="342" cy="88.3" r="1.8"/><circle cx="335.4" cy="93.5" r="1.8"/><circle cx="327.7" cy="97" r="1.8"/><circle cx="319.3" cy="98.6" r="1.8"/><circle cx="310.7" cy="98.2" r="1.8"/><circle cx="302.8" cy="96" r="1.8"/><circle cx="295.1" cy="91.9" r="1.8"/><circle cx="289" cy="86.4" r="1.8"/><circle cx="283.9" cy="79.2" r="1.8"/><circle cx="280.8" cy="71.5" r="1.8"/><circle cx="279.4" cy="63.2" r="1.8"/><circle cx="279.9" cy="54.6" r="1.8"/><circle cx="282.6" cy="45.7" r="1.8"/><circle cx="287" cy="38" r="1.8"/><circle cx="293" cy="31.4" r="1.8"/><circle cx="300.4" cy="26.2" r="1.8"/><circle cx="309.4" cy="22.7" r="1.8"/></g>
<path d="M353.3,110.7L354.9,110 M336.8,111.2L339.9,109.9 M320.6,110.8L325.4,108.8 M304.7,108.6L311.3,105.8 M290.6,104.3L298.9,100.8 M279,97.7L288.8,93.5 M270.3,88.8L281.5,84 M265.3,79.1L277.7,73.8 M263.2,69.5L276.9,63.7 M263.8,60.3L278.5,54.1 M266.5,52.1L282.4,45.4 M271,45.3L287.8,38.2 M277.1,39.9L295.1,32.3 M284,36.5L303,28.4 M292.1,34.9L312.2,26.4 M300,35.6L321.2,26.6 M307.9,38.6L330.1,29.1 M315.1,43.7L338.3,33.9 M320.8,50.5L344.8,40.3 M324.5,58.3L349.4,47.7 M326.4,67.4L352.1,56.5 M326.1,76.2L352.6,65 M323.9,84.9L351,73.4 M319.4,93.5L347.3,81.6 M313.4,100.4L342,88.3 M306.1,105.9L335.4,93.5 M297.7,109.8L327.7,97 M288.5,111.7L319.3,98.6 M279.2,111.6L310.7,98.2 M270.6,109.7L302.8,96 M262.2,105.9L295.1,91.9 M255.4,100.7L289,86.4 M249.6,93.8L283.9,79.2 M245.8,86.4L280.8,71.5 M243.8,78.3L279.4,63.2 M243.6,70L279.9,54.6 M245.6,61.4L282.6,45.7 M249.3,54.1L287,38 M254.7,47.7L293,31.4 M261.4,42.9L300.4,26.2 M269.7,39.6L309.4,22.7" stroke="#00e000" stroke-width="0.7" fill="none"/>
<path d="M354.9,110L354.3,110.7L354,110Z M339.9,109.9L338.7,111.3L338.1,109.8Z M325.4,108.8L323.6,110.7L322.8,108.7Z M311.3,105.8L309.5,107.8L308.6,105.8Z M298.9,100.8L297.1,102.8L296.2,100.7Z M288.8,93.5L287,95.4L286.2,93.4Z M281.5,84L279.8,86L278.9,83.9Z M277.7,73.8L275.9,75.7L275.1,73.7Z M276.9,63.7L275.1,65.7L274.2,63.6Z M278.5,54.1L276.8,56L275.9,54Z M282.4,45.4L280.6,47.4L279.7,45.3Z M287.8,38.2L286.1,40.1L285.2,38.1Z M295.1,32.3L293.3,34.2L292.4,32.2Z M303,28.4L301.2,30.4L300.3,28.3Z M312.2,26.4L310.4,28.3L309.5,26.3Z M321.2,26.6L319.4,28.6L318.6,26.6Z M330.1,29.1L328.3,31.1L327.5,29Z M338.3,33.9L336.5,35.8L335.7,33.8Z M344.8,40.3L343.1,42.2L342.2,40.2Z M349.4,47.7L347.6,49.7L346.7,47.7Z M352.1,56.5L350.3,58.4L349.4,56.4Z M352.6,65L350.8,66.9L349.9,64.9Z M351,73.4L349.2,75.3L348.4,73.3Z M347.3,81.6L345.5,83.6L344.6,81.6Z M342,88.3L340.2,90.2L339.4,88.2Z M335.4,93.5L333.6,95.4L332.7,93.4Z M327.7,97L325.9,98.9L325.1,96.9Z M319.3,98.6L317.5,100.5L316.7,98.5Z M310.7,98.2L308.9,100.2L308,98.2Z M302.8,96L301,98L300.1,96Z M295.1,91.9L293.3,93.8L292.5,91.8Z M289,86.4L287.2,88.4L286.4,86.4Z M283.9,79.2L282.1,81.2L281.3,79.2Z M280.8,71.5L279,73.5L278.1,71.4Z M279.4,63.2L277.6,65.1L276.8,63.1Z M279.9,54.6L278.2,56.5L277.3,54.5Z M282.6,45.7L280.8,47.6L279.9,45.6Z M287,38L285.2,40L284.3,38Z M293,31.4L291.2,33.4L290.4,31.3Z M300.4,26.2L298.7,28.2L297.8,26.2Z M309.4,22.7L307.6,24.6L306.8,22.6Z" fill="#00e000" stroke="#00e000" stroke-width="0.3"/>
<rect x="243.1" y="149.4" width="128.4" height="102.9" fill="none" stroke="#7a7a7a" stroke-width="0.9"/>
<text x="263.3" y="261.1" font-size="6.5" font-family='"Liberation Sans", sans-serif' text-anchor="middle" fill="#2a2a2a" textLength="15.3" lengthAdjust="spacingAndGlyphs" class="t" >-1000</text>
<text x="297.2" y="261.1" font-size="6.5" font-family='"Liberation Sans", sans-serif' text-anchor="middle" fill="#2a2a2a" textLength="3.3" lengthAdjust="spacingAndGlyphs" class="t" >0</text>
<text x="331.1" y="261.1" font-size="6.5" font-family='"Liberation Sans", sans-serif' text-anchor="middle" fill="#2a2a2a" textLength="13.1" lengthAdjust="spacingAndGlyphs" class="t" >1000</text>
<text x="365" y="261.1" font-size="6.5" font-family='"Liberation Sans", sans-serif' text-anchor="middle" fill="#2a2a2a" textLength="13.1" lengthAdjust="spacingAndGlyphs" class="t" >2000</text>
<text x="240.4" y="250.9" font-size="6.5" font-family='"Liberation Sans", sans-serif' text-anchor="end" fill="#2a2a2a" textLength="3.3" lengthAdjust="spacingAndGlyphs" class="t" >0</text>
<text x="240.4" y="233.9" font-size="6.5" font-family='"Liberation Sans", sans-serif' text-anchor="end" fill="#2a2a2a" textLength="9.8" lengthAdjust="spacingAndGlyphs" class="t" >500</text>
<text x="240.4" y="216.9" font-size="6.5" font-family='"Liberation Sans", sans-serif' text-anchor="end" fill="#2a2a2a" textLength="13.1" lengthAdjust="spacingAndGlyphs" class="t" >1000</text>
<text x="240.4" y="199.8" font-size="6.5" font-family='"Liberation Sans", sans-serif' text-anchor="end" fill="#2a2a2a" textLength="13.1" lengthAdjust="spacingAndGlyphs" class="t" >1500</text>
<text x="240.4" y="182.8" font-size="6.5" font-family='"Liberation Sans", sans-serif' text-anchor="end" fill="#2a2a2a" textLength="13.1" lengthAdjust="spacingAndGlyphs" class="t" >2000</text>
<text x="240.4" y="165.8" font-size="6.5" font-family='"Liberation Sans", sans-serif' text-anchor="end" fill="#2a2a2a" textLength="13.1" lengthAdjust="spacingAndGlyphs" class="t" >2500</text>
<path d="M263.3,252.3v-1.2 M263.3,149.4v1.2 M297.2,252.3v-1.2 M297.2,149.4v1.2 M331.1,252.3v-1.2 M331.1,149.4v1.2 M365,252.3v-1.2 M365,149.4v1.2 M243.1,248.4h1.2 M371.5,248.4h-1.2 M243.1,231.4h1.2 M371.5,231.4h-1.2 M243.1,214.4h1.2 M371.5,214.4h-1.2 M243.1,197.3h1.2 M371.5,197.3h-1.2 M243.1,180.3h1.2 M371.5,180.3h-1.2 M243.1,163.3h1.2 M371.5,163.3h-1.2" stroke="#7a7a7a" stroke-width="0.8" fill="none"/>
<text x="307.3" y="269" font-size="7.4" font-family='"Liberation Serif", serif' text-anchor="middle" fill="#2a2a2a" textLength="14.4" lengthAdjust="spacingAndGlyphs" class="s" ><tspan font-style="italic">x</tspan>(m)</text>
<text x="307.3" y="277.1" font-size="8" font-family='"Liberation Serif", serif' text-anchor="middle" fill="#2a2a2a" class="s" >(d)</text>
<text x="222.8" y="200.9" font-size="7.8" font-family='"Liberation Serif", serif' text-anchor="middle" fill="#2a2a2a" textLength="14.2" lengthAdjust="spacingAndGlyphs" transform="rotate(-90 222.8 200.9)" class="s" ><tspan font-style="italic">y</tspan>(m)</text>
<path d="M297.8,251.5 L297.4,250.8 L297.1,250.1 L296.8,249.4 L296.5,248.6 L296.3,247.9 L296.1,247.1 L296,246.3 L295.9,245.5 L295.9,244.7 L296,243.9 L296,243.1 L296.2,242.3 L296.3,241.6 L296.5,240.8 L296.7,240 L296.9,239.3 L297.2,238.5 L297.5,237.8 L297.8,237 L298.1,236.3 L298.4,235.5 L298.7,234.8 L299,234.1 L299.3,233.3 L299.6,232.6 L299.9,231.9 L300.2,231.1 L300.5,230.4 L300.8,229.7 L301.1,228.9 L301.3,228.2 L301.5,227.4 L301.7,226.6 L301.9,225.8 L302,225.1 L302.1,224.3 L302.1,223.5 L302.1,222.7 L302.1,221.9 L302,221.1 L301.8,220.3 L301.6,219.5 L301.4,218.8 L301.2,218 L300.9,217.3 L300.6,216.5 L300.3,215.8 L300.1,215 L299.8,214.3 L299.5,213.5 L299.2,212.8 L298.9,212.1 L298.7,211.3 L298.5,210.5 L298.3,209.8 L298.1,209 L298,208.2 L297.9,207.4 L297.8,206.6 L297.8,205.8 L297.9,205 L298,204.2 L298.1,203.5 L298.3,202.7 L298.5,201.9 L298.8,201.2 L299,200.4 L299.3,199.6 L299.5,198.9 L299.8,198.1 L300.1,197.4 L300.3,196.6 L300.6,195.9 L300.8,195.1 L301,194.4 L301.2,193.6 L301.3,192.8 L301.5,192 L301.6,191.2 L301.7,190.4 L301.7,189.6 L301.7,188.8 L301.7,188.1 L301.7,187.3 L301.6,186.5 L301.5,185.7 L301.3,184.9 L301.1,184.1 L300.9,183.4 L300.6,182.6 L300.4,181.9 L300,181.1 L299.7,180.4 L299.4,179.7 L299.1,179 L298.7,178.2 L298.4,177.5 L298.1,176.8 L297.8,176 L297.5,175.3 L297.3,174.5 L297.1,173.8 L296.9,173 L296.8,172.2 L296.7,171.4 L296.6,170.6 L296.6,169.8 L296.7,169 L296.7,168.2 L296.8,167.4 L296.9,166.7 L297.1,165.9 L297.2,165.1 L297.4,164.3 L297.7,163.6 L297.9,162.8 L298.1,162.1 L298.4,161.3 L298.7,160.6 L299,159.8 L299.3,159.1 L299.6,158.4 L299.9,157.6 L300.2,156.9 L300.5,156.2 L300.8,155.4 L301.1,154.7 L301.4,153.9" stroke="#ff3a3a" stroke-width="0.6" fill="none" stroke-dasharray="3.6 2.4"/>
<path d="M296,251.5h3.6 M297.8,249.7v3.6 M296.6,250.2l2.6,2.6 M296.6,252.8l2.6,-2.6 M295.2,250h3.6 M297,248.2v3.6 M295.7,248.7l2.6,2.6 M295.7,251.3l2.6,-2.6 M294.6,248.4h3.6 M296.4,246.6v3.6 M295.1,247.1l2.6,2.6 M295.1,249.7l2.6,-2.6 M294.2,246.7h3.6 M296,244.9v3.6 M294.7,245.4l2.6,2.6 M294.7,248l2.6,-2.6 M294.1,245h3.6 M295.9,243.2v3.6 M294.6,243.7l2.6,2.6 M294.6,246.3l2.6,-2.6 M294.2,243.2h3.6 M296,241.4v3.6 M294.7,241.9l2.6,2.6 M294.7,244.5l2.6,-2.6 M294.5,241.5h3.6 M296.3,239.7v3.6 M295,240.2l2.6,2.6 M295,242.8l2.6,-2.6 M295,239.9h3.6 M296.8,238.1v3.6 M295.5,238.6l2.6,2.6 M295.5,241.2l2.6,-2.6 M295.5,238.2h3.6 M297.3,236.4v3.6 M296,236.9l2.6,2.6 M296,239.5l2.6,-2.6 M296.1,236.6h3.6 M297.9,234.8v3.6 M296.6,235.3l2.6,2.6 M296.6,237.9l2.6,-2.6 M296.8,235h3.6 M298.6,233.2v3.6 M297.3,233.7l2.6,2.6 M297.3,236.3l2.6,-2.6 M297.5,233.4h3.6 M299.3,231.6v3.6 M298,232.1l2.6,2.6 M298,234.7l2.6,-2.6 M298.1,231.9h3.6 M299.9,230.1v3.6 M298.6,230.6l2.6,2.6 M298.6,233.2l2.6,-2.6 M298.8,230.3h3.6 M300.6,228.5v3.6 M299.3,229l2.6,2.6 M299.3,231.5l2.6,-2.6 M299.4,228.6h3.6 M301.2,226.8v3.6 M299.9,227.3l2.6,2.6 M299.9,229.9l2.6,-2.6 M299.8,227h3.6 M301.6,225.2v3.6 M300.3,225.7l2.6,2.6 M300.3,228.3l2.6,-2.6 M300.2,225.3h3.6 M302,223.5v3.6 M300.7,224l2.6,2.6 M300.7,226.6l2.6,-2.6 M300.3,223.6h3.6 M302.1,221.8v3.6 M300.8,222.3l2.6,2.6 M300.8,224.9l2.6,-2.6 M300.3,221.8h3.6 M302.1,220v3.6 M300.8,220.5l2.6,2.6 M300.8,223.1l2.6,-2.6 M300,220.1h3.6 M301.8,218.3v3.6 M300.5,218.8l2.6,2.6 M300.5,221.4l2.6,-2.6 M299.5,218.5h3.6 M301.3,216.7v3.6 M300,217.2l2.6,2.6 M300,219.8l2.6,-2.6 M299,216.8h3.6 M300.8,215v3.6 M299.5,215.5l2.6,2.6 M299.5,218.1l2.6,-2.6 M298.3,215.2h3.6 M300.1,213.4v3.6 M298.8,213.9l2.6,2.6 M298.8,216.5l2.6,-2.6 M297.7,213.6h3.6 M299.5,211.8v3.6 M298.2,212.3l2.6,2.6 M298.2,214.9l2.6,-2.6 M297.1,212h3.6 M298.9,210.2v3.6 M297.6,210.7l2.6,2.6 M297.6,213.3l2.6,-2.6 M296.6,210.4h3.6 M298.4,208.6v3.6 M297.1,209.1l2.6,2.6 M297.1,211.6l2.6,-2.6 M296.2,208.7h3.6 M298,206.9v3.6 M296.7,207.4l2.6,2.6 M296.7,210l2.6,-2.6 M296,207h3.6 M297.8,205.2v3.6 M296.5,205.7l2.6,2.6 M296.5,208.3l2.6,-2.6 M296.1,205.2h3.6 M297.9,203.4v3.6 M296.6,203.9l2.6,2.6 M296.6,206.5l2.6,-2.6 M296.3,203.5h3.6 M298.1,201.7v3.6 M296.8,202.2l2.6,2.6 M296.8,204.8l2.6,-2.6 M296.7,201.9h3.6 M298.5,200.1v3.6 M297.3,200.6l2.6,2.6 M297.3,203.1l2.6,-2.6 M297.3,200.2h3.6 M299.1,198.4v3.6 M297.8,198.9l2.6,2.6 M297.8,201.5l2.6,-2.6 M297.8,198.6h3.6 M299.6,196.8v3.6 M298.3,197.3l2.6,2.6 M298.3,199.9l2.6,-2.6 M298.4,196.9h3.6 M300.2,195.1v3.6 M298.9,195.7l2.6,2.6 M298.9,198.2l2.6,-2.6 M298.9,195.3h3.6 M300.7,193.5v3.6 M299.4,194l2.6,2.6 M299.4,196.6l2.6,-2.6 M299.4,193.6h3.6 M301.2,191.8v3.6 M299.9,192.3l2.6,2.6 M299.9,194.9l2.6,-2.6 M299.7,191.9h3.6 M301.5,190.1v3.6 M300.2,190.6l2.6,2.6 M300.2,193.2l2.6,-2.6 M299.9,190.2h3.6 M301.7,188.4v3.6 M300.4,188.9l2.6,2.6 M300.4,191.5l2.6,-2.6 M299.9,188.5h3.6 M301.7,186.7v3.6 M300.4,187.2l2.6,2.6 M300.4,189.8l2.6,-2.6 M299.8,186.8h3.6 M301.6,185v3.6 M300.3,185.5l2.6,2.6 M300.3,188.1l2.6,-2.6 M299.5,185.1h3.6 M301.3,183.3v3.6 M300,183.8l2.6,2.6 M300,186.4l2.6,-2.6 M299.1,183.4h3.6 M300.9,181.6v3.6 M299.6,182.1l2.6,2.6 M299.6,184.7l2.6,-2.6 M298.5,181.8h3.6 M300.3,180v3.6 M299,180.5l2.6,2.6 M299,183.1l2.6,-2.6 M297.8,180.2h3.6 M299.6,178.4v3.6 M298.3,178.9l2.6,2.6 M298.3,181.5l2.6,-2.6 M297.1,178.6h3.6 M298.9,176.8v3.6 M297.6,177.3l2.6,2.6 M297.6,179.9l2.6,-2.6 M296.4,177.1h3.6 M298.2,175.3v3.6 M296.9,175.8l2.6,2.6 M296.9,178.3l2.6,-2.6 M295.8,175.4h3.6 M297.6,173.6v3.6 M296.3,174.2l2.6,2.6 M296.3,176.7l2.6,-2.6 M295.3,173.8h3.6 M297.1,172v3.6 M295.8,172.5l2.6,2.6 M295.8,175.1l2.6,-2.6 M295,172.1h3.6 M296.8,170.3v3.6 M295.5,170.8l2.6,2.6 M295.5,173.4l2.6,-2.6 M294.8,170.4h3.6 M296.6,168.6v3.6 M295.3,169.1l2.6,2.6 M295.3,171.7l2.6,-2.6 M294.9,168.7h3.6 M296.7,166.9v3.6 M295.4,167.4l2.6,2.6 M295.4,170l2.6,-2.6 M295.1,166.9h3.6 M296.9,165.1v3.6 M295.6,165.6l2.6,2.6 M295.6,168.2l2.6,-2.6 M295.4,165.2h3.6 M297.2,163.4v3.6 M295.9,164l2.6,2.6 M295.9,166.5l2.6,-2.6 M295.8,163.6h3.6 M297.6,161.8v3.6 M296.4,162.3l2.6,2.6 M296.4,164.9l2.6,-2.6 M296.4,161.9h3.6 M298.2,160.1v3.6 M296.9,160.6l2.6,2.6 M296.9,163.2l2.6,-2.6 M297,160.3h3.6 M298.8,158.5v3.6 M297.5,159l2.6,2.6 M297.5,161.6l2.6,-2.6 M297.7,158.7h3.6 M299.5,156.9v3.6 M298.2,157.4l2.6,2.6 M298.2,160l2.6,-2.6 M298.3,157.1h3.6 M300.1,155.3v3.6 M298.8,155.8l2.6,2.6 M298.8,158.4l2.6,-2.6 M299,155.5h3.6 M300.8,153.7v3.6 M299.5,154.2l2.6,2.6 M299.5,156.8l2.6,-2.6 M299.6,153.9h3.6 M301.4,152.1v3.6 M300.1,152.6l2.6,2.6 M300.1,155.2l2.6,-2.6" stroke="#ff3a3a" stroke-width="0.8" fill="none"/>
<path d="M297,250L297.5,249.7 M296.4,248.4L297.6,247.8 M296,246.7L297.8,246 M295.9,245L298.2,244.2 M296,243.2L298.7,242.4 M296.3,241.5L299.3,240.7 M296.8,239.9L300,239 M297.3,238.2L300.8,237.3 M297.9,236.6L301.6,235.7 M298.6,235L302.4,234 M299.3,233.4L303.2,232.3 M299.9,231.9L303.9,230.7 M300.6,230.3L304.6,229 M301.2,228.6L305.3,227.2 M301.6,227L305.8,225.4 M302,225.3L306.2,223.6 M302.1,223.6L306.4,221.8 M302.1,221.8L306.4,220 M301.8,220.1L306.2,218.1 M301.3,218.5L305.9,216.3 M300.8,216.8L305.6,214.5 M300.1,215.2L305.2,212.7 M299.5,213.6L304.8,210.9 M298.9,212L304.4,209.1 M298.4,210.4L304,207.3 M298,208.7L303.9,205.5 M297.8,207L304,203.6 M297.9,205.2L304.2,201.8 M298.1,203.5L304.7,200 M298.5,201.9L305.4,198.3 M299.1,200.2L306.1,196.6 M299.6,198.6L306.9,195 M300.2,196.9L307.8,193.4 M300.7,195.3L308.7,191.7 M301.2,193.6L309.6,190.1 M301.5,191.9L310.5,188.5 M301.7,190.2L311.2,186.8 M301.7,188.5L311.7,185 M301.6,186.8L312,183.2 M301.3,185.1L312,181.4 M300.9,183.4L311.8,179.5 M300.3,181.8L311.4,177.7 M299.6,180.2L311,175.9 M298.9,178.6L310.5,174.2 M298.2,177.1L310.1,172.4 M297.6,175.4L309.9,170.5 M297.1,173.8L309.8,168.7 M296.8,172.1L310,166.9 M296.6,170.4L310.4,165.1 M296.7,168.7L311,163.3 M296.9,166.9L311.8,161.7 M297.2,165.2L312.7,160.1 M297.6,163.6L313.8,158.5 M298.2,161.9L314.9,157 M298.8,160.3L316,155.6 M299.5,158.7L317.2,154.2 M300.1,157.1L318.3,152.7 M300.8,155.5L319.4,151.2 M301.4,153.9L320.4,149.7" stroke="#00e000" stroke-width="0.6" fill="none"/>
<path d="M297.5,249.7L297.3,249.9L297.2,249.7Z M297.6,247.8L297.1,248.4L296.9,247.8Z M297.8,246L297.1,246.7L296.8,245.9Z M298.2,244.2L297.2,245.1L296.9,244.1Z M298.7,242.4L297.5,243.5L297.2,242.2Z M299.3,240.7L298,241.8L297.6,240.4Z M300,239L298.6,240.2L298.2,238.7Z M300.8,237.3L299.3,238.6L298.8,237Z M301.6,235.7L300,237L299.5,235.3Z M302.4,234L300.7,235.4L300.2,233.6Z M303.2,232.3L301.5,233.8L301,232Z M303.9,230.7L302.2,232.2L301.7,230.3Z M304.6,229L302.9,230.5L302.3,228.7Z M305.3,227.2L303.5,228.9L302.9,227Z M305.8,225.4L304.1,227.2L303.4,225.3Z M306.2,223.6L304.4,225.4L303.7,223.5Z M306.4,221.8L304.7,223.7L303.8,221.7Z M306.4,220L304.6,221.9L303.8,219.9Z M306.2,218.1L304.5,220.1L303.6,218.1Z M305.9,216.3L304.2,218.3L303.3,216.3Z M305.6,214.5L303.9,216.5L303,214.6Z M305.2,212.7L303.5,214.8L302.6,212.8Z M304.8,210.9L303.1,213L302.1,211Z M304.4,209.1L302.8,211.2L301.7,209.3Z M304,207.3L302.5,209.4L301.4,207.5Z M303.9,205.5L302.3,207.6L301.2,205.7Z M304,203.6L302.4,205.7L301.3,203.8Z M304.2,201.8L302.7,203.9L301.6,202Z M304.7,200L303.1,202.1L302.1,200.2Z M305.4,198.3L303.7,200.4L302.7,198.4Z M306.1,196.6L304.5,198.7L303.5,196.7Z M306.9,195L305.3,197L304.3,195Z M307.8,193.4L306.1,195.4L305.2,193.4Z M308.7,191.7L307,193.7L306.1,191.7Z M309.6,190.1L307.8,192.1L307,190Z M310.5,188.5L308.6,190.4L307.8,188.3Z M311.2,186.8L309.3,188.6L308.5,186.6Z M311.7,185L309.8,186.9L309.1,184.8Z M312,183.2L310.1,185L309.4,182.9Z M312,181.4L310.1,183.2L309.4,181.1Z M311.8,179.5L309.9,181.4L309.2,179.3Z M311.4,177.7L309.5,179.6L308.8,177.5Z M311,175.9L309.1,177.8L308.3,175.8Z M310.5,174.2L308.7,176L307.9,174Z M310.1,172.4L308.3,174.3L307.5,172.2Z M309.9,170.5L308,172.4L307.2,170.4Z M309.8,168.7L308,170.6L307.2,168.6Z M310,166.9L308.2,168.8L307.4,166.7Z M310.4,165.1L308.6,167L307.8,164.9Z M311,163.3L309.2,165.2L308.4,163.1Z M311.8,161.7L309.9,163.5L309.2,161.4Z M312.7,160.1L310.8,161.9L310.1,159.8Z M313.8,158.5L311.8,160.3L311.1,158.2Z M314.9,157L312.9,158.8L312.2,156.7Z M316,155.6L314,157.3L313.4,155.2Z M317.2,154.2L315.1,155.8L314.6,153.7Z M318.3,152.7L316.2,154.4L315.7,152.2Z M319.4,151.2L317.3,152.9L316.8,150.7Z M320.4,149.7L318.3,151.3L317.8,149.1Z" fill="#00e000" stroke="#00e000" stroke-width="0.3"/>
<path d="M297.7,251.5 L297.6,250.7 L297.5,249.9 L297.5,249.1 L297.5,248.3 L297.6,247.5 L297.7,246.7 L297.8,245.9 L298,245.2 L298.1,244.4 L298.3,243.6 L298.6,242.8 L298.8,242.1 L299.1,241.3 L299.4,240.6 L299.7,239.8 L300,239.1 L300.3,238.4 L300.6,237.6 L301,236.9 L301.3,236.2 L301.7,235.5 L302,234.8 L302.4,234 L302.7,233.3 L303.1,232.6 L303.4,231.9 L303.7,231.1 L304,230.4 L304.4,229.7 L304.7,228.9 L304.9,228.2 L305.2,227.4 L305.4,226.7 L305.7,225.9 L305.9,225.1 L306,224.3 L306.2,223.6 L306.3,222.8 L306.4,222 L306.4,221.2 L306.4,220.4 L306.3,219.6 L306.3,218.8 L306.2,218 L306.1,217.2 L306,216.4 L305.8,215.6 L305.7,214.8 L305.5,214 L305.3,213.3 L305.1,212.5 L305,211.7 L304.8,210.9 L304.6,210.1 L304.4,209.4 L304.3,208.6 L304.1,207.8 L304,207 L303.9,206.2 L303.9,205.4 L303.9,204.6 L303.9,203.8 L304,203 L304.2,202.2 L304.3,201.4 L304.5,200.7 L304.8,199.9 L305,199.2 L305.3,198.4 L305.6,197.7 L305.9,196.9 L306.3,196.2 L306.7,195.5 L307,194.8 L307.4,194.1 L307.8,193.4 L308.2,192.7 L308.6,192 L309,191.3 L309.4,190.6 L309.7,189.9 L310.1,189.2 L310.5,188.5 L310.8,187.7 L311.1,187 L311.4,186.2 L311.6,185.5 L311.8,184.7 L311.9,183.9 L312,183.1 L312,182.3 L312,181.5 L312,180.7 L311.8,179.9 L311.7,179.2 L311.6,178.4 L311.4,177.6 L311.2,176.8 L311,176 L310.8,175.3 L310.6,174.5 L310.4,173.7 L310.2,172.9 L310.1,172.1 L310,171.4 L309.9,170.6 L309.8,169.8 L309.8,169 L309.8,168.2 L309.9,167.4 L310.1,166.6 L310.2,165.8 L310.4,165 L310.7,164.3 L311,163.5 L311.3,162.8 L311.6,162.1 L312,161.3 L312.4,160.7 L312.8,160 L313.2,159.3 L313.7,158.6 L314.1,158 L314.6,157.3 L315.1,156.7 L315.6,156.1 L316.1,155.5 L316.6,154.8 L317.1,154.2 L317.6,153.6 L318.1,153 L318.6,152.3 L319.1,151.7 L319.5,151 L320,150.4 L320.4,149.7" stroke="#4040ff" stroke-width="0.6" fill="none"/>
<g fill="none" stroke="#4040ff" stroke-width="0.4"><circle cx="297.7" cy="251.5" r="1.6"/><circle cx="297.5" cy="249.7" r="1.6"/><circle cx="297.6" cy="247.8" r="1.6"/><circle cx="297.8" cy="246" r="1.6"/><circle cx="298.2" cy="244.2" r="1.6"/><circle cx="298.7" cy="242.4" r="1.6"/><circle cx="299.3" cy="240.7" r="1.6"/><circle cx="300" cy="239" r="1.6"/><circle cx="300.8" cy="237.3" r="1.6"/><circle cx="301.6" cy="235.7" r="1.6"/><circle cx="302.4" cy="234" r="1.6"/><circle cx="303.2" cy="232.3" r="1.6"/><circle cx="303.9" cy="230.7" r="1.6"/><circle cx="304.6" cy="229" r="1.6"/><circle cx="305.3" cy="227.2" r="1.6"/><circle cx="305.8" cy="225.4" r="1.6"/><circle cx="306.2" cy="223.6" r="1.6"/><circle cx="306.4" cy="221.8" r="1.6"/><circle cx="306.4" cy="220" r="1.6"/><circle cx="306.2" cy="218.1" r="1.6"/><circle cx="305.9" cy="216.3" r="1.6"/><circle cx="305.6" cy="214.5" r="1.6"/><circle cx="305.2" cy="212.7" r="1.6"/><circle cx="304.8" cy="210.9" r="1.6"/><circle cx="304.4" cy="209.1" r="1.6"/><circle cx="304" cy="207.3" r="1.6"/><circle cx="303.9" cy="205.5" r="1.6"/><circle cx="304" cy="203.6" r="1.6"/><circle cx="304.2" cy="201.8" r="1.6"/><circle cx="304.7" cy="200" r="1.6"/><circle cx="305.4" cy="198.3" r="1.6"/><circle cx="306.1" cy="196.6" r="1.6"/><circle cx="306.9" cy="195" r="1.6"/><circle cx="307.8" cy="193.4" r="1.6"/><circle cx="308.7" cy="191.7" r="1.6"/><circle cx="309.6" cy="190.1" r="1.6"/><circle cx="310.5" cy="188.5" r="1.6"/><circle cx="311.2" cy="186.8" r="1.6"/><circle cx="311.7" cy="185" r="1.6"/><circle cx="312" cy="183.2" r="1.6"/><circle cx="312" cy="181.4" r="1.6"/><circle cx="311.8" cy="179.5" r="1.6"/><circle cx="311.4" cy="177.7" r="1.6"/><circle cx="311" cy="175.9" r="1.6"/><circle cx="310.5" cy="174.2" r="1.6"/><circle cx="310.1" cy="172.4" r="1.6"/><circle cx="309.9" cy="170.5" r="1.6"/><circle cx="309.8" cy="168.7" r="1.6"/><circle cx="310" cy="166.9" r="1.6"/><circle cx="310.4" cy="165.1" r="1.6"/><circle cx="311" cy="163.3" r="1.6"/><circle cx="311.8" cy="161.7" r="1.6"/><circle cx="312.7" cy="160.1" r="1.6"/><circle cx="313.8" cy="158.5" r="1.6"/><circle cx="314.9" cy="157" r="1.6"/><circle cx="316" cy="155.6" r="1.6"/><circle cx="317.2" cy="154.2" r="1.6"/><circle cx="318.3" cy="152.7" r="1.6"/><circle cx="319.4" cy="151.2" r="1.6"/><circle cx="320.4" cy="149.7" r="1.6"/></g>
<rect x="243.1" y="282.5" width="128.4" height="102.9" fill="none" stroke="#7a7a7a" stroke-width="0.9"/>
<text x="258.6" y="394.2" font-size="6.5" font-family='"Liberation Sans", sans-serif' text-anchor="middle" fill="#2a2a2a" textLength="15.3" lengthAdjust="spacingAndGlyphs" class="t" >-1000</text>
<text x="290.6" y="394.2" font-size="6.5" font-family='"Liberation Sans", sans-serif' text-anchor="middle" fill="#2a2a2a" textLength="3.3" lengthAdjust="spacingAndGlyphs" class="t" >0</text>
<text x="322.6" y="394.2" font-size="6.5" font-family='"Liberation Sans", sans-serif' text-anchor="middle" fill="#2a2a2a" textLength="13.1" lengthAdjust="spacingAndGlyphs" class="t" >1000</text>
<text x="354.6" y="394.2" font-size="6.5" font-family='"Liberation Sans", sans-serif' text-anchor="middle" fill="#2a2a2a" textLength="13.1" lengthAdjust="spacingAndGlyphs" class="t" >2000</text>
<text x="240.4" y="384.1" font-size="6.5" font-family='"Liberation Sans", sans-serif' text-anchor="end" fill="#2a2a2a" textLength="3.3" lengthAdjust="spacingAndGlyphs" class="t" >0</text>
<text x="240.4" y="368.1" font-size="6.5" font-family='"Liberation Sans", sans-serif' text-anchor="end" fill="#2a2a2a" textLength="9.8" lengthAdjust="spacingAndGlyphs" class="t" >500</text>
<text x="240.4" y="352.1" font-size="6.5" font-family='"Liberation Sans", sans-serif' text-anchor="end" fill="#2a2a2a" textLength="13.1" lengthAdjust="spacingAndGlyphs" class="t" >1000</text>
<text x="240.4" y="336.1" font-size="6.5" font-family='"Liberation Sans", sans-serif' text-anchor="end" fill="#2a2a2a" textLength="13.1" lengthAdjust="spacingAndGlyphs" class="t" >1500</text>
<text x="240.4" y="320" font-size="6.5" font-family='"Liberation Sans", sans-serif' text-anchor="end" fill="#2a2a2a" textLength="13.1" lengthAdjust="spacingAndGlyphs" class="t" >2000</text>
<text x="240.4" y="304" font-size="6.5" font-family='"Liberation Sans", sans-serif' text-anchor="end" fill="#2a2a2a" textLength="13.1" lengthAdjust="spacingAndGlyphs" class="t" >2500</text>
<text x="240.4" y="288" font-size="6.5" font-family='"Liberation Sans", sans-serif' text-anchor="end" fill="#2a2a2a" textLength="13.1" lengthAdjust="spacingAndGlyphs" class="t" >3000</text>
<path d="M258.6,385.4v-1.2 M258.6,282.5v1.2 M290.6,385.4v-1.2 M290.6,282.5v1.2 M322.6,385.4v-1.2 M322.6,282.5v1.2 M354.6,385.4v-1.2 M354.6,282.5v1.2 M243.1,381.6h1.2 M371.5,381.6h-1.2 M243.1,365.6h1.2 M371.5,365.6h-1.2 M243.1,349.6h1.2 M371.5,349.6h-1.2 M243.1,333.6h1.2 M371.5,333.6h-1.2 M243.1,317.5h1.2 M371.5,317.5h-1.2 M243.1,301.5h1.2 M371.5,301.5h-1.2 M243.1,285.5h1.2 M371.5,285.5h-1.2" stroke="#7a7a7a" stroke-width="0.8" fill="none"/>
<text x="307.3" y="402.1" font-size="7.4" font-family='"Liberation Serif", serif' text-anchor="middle" fill="#2a2a2a" textLength="14.4" lengthAdjust="spacingAndGlyphs" class="s" ><tspan font-style="italic">x</tspan>(m)</text>
<text x="307.3" y="410.3" font-size="8" font-family='"Liberation Serif", serif' text-anchor="middle" fill="#2a2a2a" class="s" >(f)</text>
<text x="222.8" y="333.9" font-size="7.8" font-family='"Liberation Serif", serif' text-anchor="middle" fill="#2a2a2a" textLength="14.2" lengthAdjust="spacingAndGlyphs" transform="rotate(-90 222.8 333.9)" class="s" ><tspan font-style="italic">y</tspan>(m)</text>
<path d="M290.8,384.4 L291,383.7 L291.1,382.9 L291.1,382.1 L291.1,381.3 L291,380.5 L291,379.7 L290.9,378.9 L290.8,378.1 L290.8,377.3 L290.7,376.5 L290.7,375.7 L290.7,374.9 L290.8,374.1 L290.9,373.3 L291,372.6 L291.3,371.8 L291.6,371.1 L292.1,370.4 L292.6,369.8 L293.1,369.2 L293.7,368.7 L294.4,368.3 L295.1,367.8 L295.8,367.4 L296.4,367.1 L297.2,366.7 L297.9,366.3 L298.6,366 L299.3,365.6 L300,365.2 L300.7,364.8 L301.4,364.4 L302,364 L302.7,363.5 L303.3,363 L303.8,362.4 L304.2,361.7 L304.6,361 L304.9,360.3 L305.1,359.5 L305.3,358.7 L305.4,357.9 L305.4,357.1 L305.5,356.4 L305.5,355.6 L305.5,354.8 L305.5,354 L305.5,353.2 L305.5,352.4 L305.5,351.6 L305.5,350.8 L305.6,350 L305.7,349.2 L305.8,348.4 L305.9,347.6 L306.1,346.8 L306.2,346.1 L306.4,345.3 L306.6,344.5 L306.8,343.7 L307,343 L307.3,342.2 L307.5,341.5 L307.8,340.7 L308,340 L308.3,339.2 L308.6,338.5 L308.8,337.7 L309.1,337 L309.4,336.2 L309.6,335.4 L309.8,334.7 L309.9,333.9 L310,333.1 L310,332.3 L309.9,331.5 L309.6,330.8 L309.3,330.1 L308.8,329.4 L308.3,328.8 L307.8,328.2 L307.2,327.6 L306.7,327 L306.2,326.4 L305.7,325.8 L305.3,325.1 L304.9,324.4 L304.6,323.6 L304.4,322.9 L304.3,322.1 L304.3,321.3 L304.4,320.5 L304.6,319.7 L304.8,319 L305.1,318.2 L305.4,317.5 L305.8,316.8 L306.1,316 L306.4,315.3 L306.6,314.5 L306.8,313.8 L307,313 L307,312.2 L307,311.4 L306.8,310.6 L306.5,309.9 L306.1,309.2 L305.7,308.5 L305.2,307.9 L304.8,307.2 L304.3,306.6 L303.8,306 L303.3,305.4 L302.8,304.7 L302.4,304 L302,303.4 L301.6,302.7 L301.2,302 L300.9,301.2 L300.6,300.5 L300.4,299.7 L300.3,298.9 L300.3,298.1 L300.3,297.3 L300.4,296.6 L300.7,295.8 L300.9,295.1 L301.3,294.3 L301.7,293.7" stroke="#ff3a3a" stroke-width="0.6" fill="none" stroke-dasharray="3.6 2.4"/>
<path d="M289,384.4h3.6 M290.8,382.6v3.6 M289.5,383.1l2.6,2.6 M289.5,385.7l2.6,-2.6 M289.3,383h3.6 M291.1,381.2v3.6 M289.8,381.7l2.6,2.6 M289.8,384.3l2.6,-2.6 M289.3,381.5h3.6 M291.1,379.7v3.6 M289.8,380.2l2.6,2.6 M289.8,382.8l2.6,-2.6 M289.2,380h3.6 M291,378.2v3.6 M289.7,378.7l2.6,2.6 M289.7,381.3l2.6,-2.6 M289.1,378.5h3.6 M290.9,376.7v3.6 M289.6,377.2l2.6,2.6 M289.6,379.8l2.6,-2.6 M289,377h3.6 M290.8,375.2v3.6 M289.5,375.7l2.6,2.6 M289.5,378.3l2.6,-2.6 M288.9,375.5h3.6 M290.7,373.7v3.6 M289.4,374.2l2.6,2.6 M289.4,376.8l2.6,-2.6 M289,374.1h3.6 M290.8,372.3v3.6 M289.5,372.8l2.6,2.6 M289.5,375.3l2.6,-2.6 M289.2,372.6h3.6 M291,370.8v3.6 M289.7,371.3l2.6,2.6 M289.7,373.9l2.6,-2.6 M289.8,371.2h3.6 M291.6,369.4v3.6 M290.3,369.9l2.6,2.6 M290.3,372.5l2.6,-2.6 M290.6,370h3.6 M292.4,368.2v3.6 M291.1,368.7l2.6,2.6 M291.1,371.3l2.6,-2.6 M291.7,368.9h3.6 M293.5,367.1v3.6 M292.2,367.6l2.6,2.6 M292.2,370.2l2.6,-2.6 M292.9,368.1h3.6 M294.7,366.3v3.6 M293.4,366.8l2.6,2.6 M293.4,369.4l2.6,-2.6 M294.2,367.3h3.6 M296,365.5v3.6 M294.7,366l2.6,2.6 M294.7,368.6l2.6,-2.6 M295.5,366.6h3.6 M297.3,364.8v3.6 M296,365.3l2.6,2.6 M296,367.9l2.6,-2.6 M296.8,365.9h3.6 M298.6,364.1v3.6 M297.3,364.6l2.6,2.6 M297.3,367.2l2.6,-2.6 M298.1,365.3h3.6 M299.9,363.5v3.6 M298.6,364l2.6,2.6 M298.6,366.6l2.6,-2.6 M299.4,364.5h3.6 M301.2,362.7v3.6 M299.9,363.2l2.6,2.6 M299.9,365.8l2.6,-2.6 M300.6,363.7h3.6 M302.4,361.9v3.6 M301.1,362.4l2.6,2.6 M301.1,365l2.6,-2.6 M301.7,362.7h3.6 M303.5,360.9v3.6 M302.2,361.4l2.6,2.6 M302.2,364l2.6,-2.6 M302.6,361.5h3.6 M304.4,359.7v3.6 M303.1,360.2l2.6,2.6 M303.1,362.8l2.6,-2.6 M303.2,360.1h3.6 M305,358.3v3.6 M303.7,358.8l2.6,2.6 M303.7,361.4l2.6,-2.6 M303.5,358.6h3.6 M305.3,356.8v3.6 M304,357.3l2.6,2.6 M304,359.9l2.6,-2.6 M303.6,357.1h3.6 M305.4,355.3v3.6 M304.1,355.9l2.6,2.6 M304.1,358.4l2.6,-2.6 M303.7,355.7h3.6 M305.5,353.9v3.6 M304.2,354.4l2.6,2.6 M304.2,357l2.6,-2.6 M303.7,354.2h3.6 M305.5,352.4v3.6 M304.2,352.9l2.6,2.6 M304.2,355.5l2.6,-2.6 M303.7,352.7h3.6 M305.5,350.9v3.6 M304.2,351.4l2.6,2.6 M304.2,354l2.6,-2.6 M303.7,351.2h3.6 M305.5,349.4v3.6 M304.2,349.9l2.6,2.6 M304.2,352.5l2.6,-2.6 M303.8,349.7h3.6 M305.6,347.9v3.6 M304.3,348.4l2.6,2.6 M304.3,351l2.6,-2.6 M304,348.2h3.6 M305.8,346.4v3.6 M304.5,346.9l2.6,2.6 M304.5,349.5l2.6,-2.6 M304.3,346.8h3.6 M306.1,345v3.6 M304.8,345.5l2.6,2.6 M304.8,348.1l2.6,-2.6 M304.6,345.3h3.6 M306.4,343.5v3.6 M305.1,344l2.6,2.6 M305.1,346.6l2.6,-2.6 M305,343.9h3.6 M306.8,342.1v3.6 M305.5,342.6l2.6,2.6 M305.5,345.2l2.6,-2.6 M305.4,342.4h3.6 M307.2,340.6v3.6 M305.9,341.2l2.6,2.6 M305.9,343.7l2.6,-2.6 M305.9,341h3.6 M307.7,339.2v3.6 M306.4,339.7l2.6,2.6 M306.4,342.3l2.6,-2.6 M306.3,339.6h3.6 M308.1,337.8v3.6 M306.8,338.3l2.6,2.6 M306.8,340.9l2.6,-2.6 M306.8,338.2h3.6 M308.6,336.4v3.6 M307.3,336.9l2.6,2.6 M307.3,339.5l2.6,-2.6 M307.4,336.8h3.6 M309.2,335v3.6 M307.9,335.5l2.6,2.6 M307.9,338.1l2.6,-2.6 M307.8,335.4h3.6 M309.6,333.6v3.6 M308.3,334.1l2.6,2.6 M308.3,336.7l2.6,-2.6 M308.1,334h3.6 M309.9,332.2v3.6 M308.6,332.7l2.6,2.6 M308.6,335.3l2.6,-2.6 M308.2,332.5h3.6 M310,330.7v3.6 M308.7,331.2l2.6,2.6 M308.7,333.8l2.6,-2.6 M307.9,331h3.6 M309.7,329.2v3.6 M308.4,329.7l2.6,2.6 M308.4,332.3l2.6,-2.6 M307.2,329.7h3.6 M309,327.9v3.6 M307.7,328.4l2.6,2.6 M307.7,331l2.6,-2.6 M306.3,328.5h3.6 M308.1,326.7v3.6 M306.8,327.2l2.6,2.6 M306.8,329.8l2.6,-2.6 M305.3,327.4h3.6 M307.1,325.6v3.6 M305.8,326.1l2.6,2.6 M305.8,328.7l2.6,-2.6 M304.3,326.3h3.6 M306.1,324.5v3.6 M304.8,325l2.6,2.6 M304.8,327.6l2.6,-2.6 M303.5,325.1h3.6 M305.3,323.3v3.6 M304,323.8l2.6,2.6 M304,326.4l2.6,-2.6 M302.9,323.7h3.6 M304.7,321.9v3.6 M303.4,322.4l2.6,2.6 M303.4,325l2.6,-2.6 M302.5,322.3h3.6 M304.3,320.5v3.6 M303,321l2.6,2.6 M303,323.6l2.6,-2.6 M302.5,320.8h3.6 M304.3,319v3.6 M303,319.5l2.6,2.6 M303,322.1l2.6,-2.6 M302.9,319.4h3.6 M304.7,317.6v3.6 M303.4,318.1l2.6,2.6 M303.4,320.7l2.6,-2.6 M303.4,318h3.6 M305.2,316.2v3.6 M303.9,316.7l2.6,2.6 M303.9,319.3l2.6,-2.6 M304,316.6h3.6 M305.8,314.8v3.6 M304.5,315.3l2.6,2.6 M304.5,317.9l2.6,-2.6 M304.6,315.2h3.6 M306.4,313.4v3.6 M305.1,313.9l2.6,2.6 M305.1,316.5l2.6,-2.6 M305,313.8h3.6 M306.8,312v3.6 M305.5,312.5l2.6,2.6 M305.5,315.1l2.6,-2.6 M305.2,312.3h3.6 M307,310.5v3.6 M305.7,311l2.6,2.6 M305.7,313.6l2.6,-2.6 M305.1,310.9h3.6 M306.9,309.1v3.6 M305.6,309.6l2.6,2.6 M305.6,312.2l2.6,-2.6 M304.5,309.5h3.6 M306.3,307.7v3.6 M305,308.2l2.6,2.6 M305,310.8l2.6,-2.6 M303.7,308.2h3.6 M305.5,306.4v3.6 M304.2,306.9l2.6,2.6 M304.2,309.5l2.6,-2.6 M302.8,307.1h3.6 M304.6,305.3v3.6 M303.3,305.8l2.6,2.6 M303.3,308.3l2.6,-2.6 M301.9,305.9h3.6 M303.7,304.1v3.6 M302.4,304.6l2.6,2.6 M302.4,307.2l2.6,-2.6 M301,304.7h3.6 M302.8,302.9v3.6 M301.5,303.4l2.6,2.6 M301.5,306l2.6,-2.6 M300.2,303.4h3.6 M302,301.6v3.6 M300.7,302.1l2.6,2.6 M300.7,304.7l2.6,-2.6 M299.5,302.1h3.6 M301.3,300.3v3.6 M300,300.8l2.6,2.6 M300,303.4l2.6,-2.6 M298.9,300.8h3.6 M300.7,299v3.6 M299.4,299.5l2.6,2.6 M299.4,302.1l2.6,-2.6 M298.6,299.3h3.6 M300.4,297.5v3.6 M299.1,298l2.6,2.6 M299.1,300.6l2.6,-2.6 M298.5,297.8h3.6 M300.3,296v3.6 M299,296.5l2.6,2.6 M299,299.1l2.6,-2.6 M298.7,296.4h3.6 M300.5,294.6v3.6 M299.2,295.1l2.6,2.6 M299.2,297.7l2.6,-2.6 M299.2,295h3.6 M301,293.2v3.6 M299.7,293.7l2.6,2.6 M299.7,296.3l2.6,-2.6 M299.9,293.7h3.6 M301.7,291.9v3.6 M300.4,292.4l2.6,2.6 M300.4,295l2.6,-2.6" stroke="#ff3a3a" stroke-width="0.8" fill="none"/>
<path d="M291.1,383L290.7,382.9 M291.1,381.5L290.6,381.2 M291,380L290.6,379.4 M290.9,378.5L290.8,377.7 M290.8,377L291.1,376 M290.7,375.5L291.7,374.4 M290.8,374.1L292.7,373 M291,372.6L293.9,371.7 M291.6,371.2L295.3,370.7 M292.4,370L296.8,370 M293.5,368.9L298.4,369.3 M294.7,368.1L300.1,368.7 M296,367.3L301.7,368.2 M297.3,366.6L303.3,367.6 M298.6,365.9L305,367 M299.9,365.3L306.5,366.2 M301.2,364.5L308,365.3 M302.4,363.7L309.2,364.1 M303.5,362.7L310,362.6 M304.4,361.5L310.6,360.9 M305,360.1L310.9,359.2 M305.3,358.6L311.1,357.5 M305.4,357.1L311.1,355.8 M305.5,355.7L311.2,354.1 M305.5,354.2L311.2,352.3 M305.5,352.7L311.3,350.6 M305.5,351.2L311.6,348.9 M305.6,349.7L311.9,347.2 M305.8,348.2L312.5,345.5 M306.1,346.8L313.2,344 M306.4,345.3L314,342.5 M306.8,343.9L315,341 M307.2,342.4L315.9,339.6 M307.7,341L316.9,338.1 M308.1,339.6L317.8,336.7 M308.6,338.2L318.6,335.1 M309.2,336.8L319.2,333.5 M309.6,335.4L319.6,331.8 M309.9,334L319.8,330.1 M310,332.5L319.7,328.4 M309.7,331L319.3,326.7 M309,329.7L318.8,325 M308.1,328.5L318.3,323.4 M307.1,327.4L317.9,321.7 M306.1,326.3L317.6,320 M305.3,325.1L317.8,318.3 M304.7,323.7L318.2,316.6 M304.3,322.3L318.9,315 M304.3,320.8L319.8,313.5 M304.7,319.4L320.7,312 M305.2,318L321.6,310.6 M305.8,316.6L322.5,309.1 M306.4,315.2L323.3,307.6 M306.8,313.8L324,306 M307,312.3L324.4,304.3 M306.9,310.9L324.7,302.6 M306.3,309.5L324.8,300.9 M305.5,308.2L324.7,299.1 M304.6,307.1L324.6,297.4 M303.7,305.9L324.3,295.7 M302.8,304.7L324,294 M302,303.4L323.6,292.3 M301.3,302.1L323.2,290.6 M300.7,300.8L322.8,289 M300.4,299.3L322.6,287.2 M300.3,297.8L322.8,285.5 M300.5,296.4L323.5,283.9 M301,295L324.6,282.6 M301.7,293.7L326,281.6" stroke="#00e000" stroke-width="0.6" fill="none"/>
<path d="M290.7,382.9L290.9,382.8L290.9,383Z M290.6,381.2L290.9,381.2L290.8,381.4Z M290.6,379.4L290.9,379.6L290.7,379.8Z M290.8,377.7L291,378.1L290.6,378.1Z M291.1,376L291.2,376.6L290.7,376.4Z M291.7,374.4L291.5,375.2L291,374.7Z M292.7,373L292,373.9L291.5,373.1Z M293.9,371.7L292.6,372.8L292.3,371.5Z M295.3,370.7L293.5,371.8L293.3,370.1Z M296.8,370L294.6,371L294.6,369Z M298.4,369.3L296,370.2L296.1,368Z M300.1,368.7L297.6,369.5L297.8,367.4Z M301.7,368.2L299.2,368.9L299.5,366.7Z M303.3,367.6L300.8,368.3L301.1,366.1Z M305,367L302.4,367.7L302.8,365.5Z M306.5,366.2L304,367L304.3,364.8Z M308,365.3L305.5,366.1L305.7,363.9Z M309.2,364.1L306.7,365L306.8,362.8Z M310,362.6L307.7,363.7L307.6,361.5Z M310.6,360.9L308.3,362.2L308.1,360Z M310.9,359.2L308.7,360.7L308.4,358.5Z M311.1,357.5L308.9,359L308.5,356.9Z M311.1,355.8L309.1,357.4L308.5,355.3Z M311.2,354.1L309.2,355.8L308.6,353.6Z M311.2,352.3L309.3,354.1L308.6,352Z M311.3,350.6L309.5,352.4L308.7,350.4Z M311.6,348.9L309.7,350.8L308.9,348.7Z M311.9,347.2L310.1,349.1L309.3,347.1Z M312.5,345.5L310.6,347.5L309.8,345.4Z M313.2,344L311.3,345.9L310.5,343.8Z M314,342.5L312.2,344.3L311.4,342.3Z M315,341L313.1,342.8L312.3,340.8Z M315.9,339.6L314,341.4L313.3,339.3Z M316.9,338.1L314.9,339.9L314.3,337.8Z M317.8,336.7L315.8,338.4L315.2,336.3Z M318.6,335.1L316.6,336.9L316,334.8Z M319.2,333.5L317.3,335.3L316.6,333.2Z M319.6,331.8L317.7,333.7L317,331.6Z M319.8,330.1L318,332L317.2,330Z M319.7,328.4L317.9,330.3L317.1,328.3Z M319.3,326.7L317.6,328.7L316.7,326.7Z M318.8,325L317.1,327.1L316.2,325.1Z M318.3,323.4L316.7,325.4L315.7,323.5Z M317.9,321.7L316.3,323.8L315.2,321.9Z M317.6,320L316.1,322.1L315,320.2Z M317.8,318.3L316.2,320.4L315.1,318.5Z M318.2,316.6L316.6,318.7L315.6,316.8Z M318.9,315L317.3,317.1L316.3,315.1Z M319.8,313.5L318.1,315.5L317.1,313.5Z M320.7,312L318.9,314L318,312Z M321.6,310.6L319.8,312.6L318.9,310.6Z M322.5,309.1L320.7,311.1L319.8,309.1Z M323.3,307.6L321.6,309.6L320.6,307.5Z M324,306L322.2,308L321.3,306Z M324.4,304.3L322.7,306.3L321.8,304.3Z M324.7,302.6L323,304.6L322.1,302.6Z M324.8,300.9L323.1,302.9L322.2,300.9Z M324.7,299.1L323,301.2L322.1,299.2Z M324.6,297.4L322.9,299.5L321.9,297.5Z M324.3,295.7L322.6,297.8L321.7,295.8Z M324,294L322.3,296.1L321.3,294.1Z M323.6,292.3L321.9,294.4L320.9,292.4Z M323.2,290.6L321.6,292.7L320.5,290.8Z M322.8,289L321.2,291.1L320.2,289.1Z M322.6,287.2L321,289.3L320,287.4Z M322.8,285.5L321.2,287.6L320.2,285.7Z M323.5,283.9L321.9,286L320.8,284.1Z M324.6,282.6L323,284.7L322,282.8Z M326,281.6L324.3,283.6L323.3,281.7Z" fill="#00e000" stroke="#00e000" stroke-width="0.3"/>
<path d="M290.9,384.6 L290.8,383.8 L290.7,383 L290.6,382.2 L290.6,381.5 L290.6,380.7 L290.6,379.9 L290.6,379.1 L290.7,378.3 L290.8,377.5 L290.9,376.7 L291.2,375.9 L291.4,375.2 L291.7,374.5 L292.1,373.8 L292.6,373.1 L293.1,372.5 L293.6,371.9 L294.2,371.4 L294.9,371 L295.6,370.6 L296.3,370.2 L297,369.9 L297.8,369.6 L298.5,369.3 L299.2,369 L300,368.8 L300.8,368.5 L301.5,368.2 L302.3,368 L303,367.7 L303.8,367.5 L304.5,367.2 L305.2,366.9 L306,366.5 L306.7,366.1 L307.3,365.7 L308,365.3 L308.6,364.7 L309.1,364.2 L309.6,363.5 L309.9,362.8 L310.2,362.1 L310.5,361.3 L310.7,360.5 L310.8,359.7 L310.9,359 L311,358.2 L311.1,357.4 L311.1,356.6 L311.1,355.8 L311.2,355 L311.2,354.2 L311.2,353.4 L311.2,352.6 L311.3,351.8 L311.3,351 L311.4,350.2 L311.5,349.4 L311.6,348.6 L311.7,347.9 L311.9,347.1 L312.2,346.3 L312.4,345.6 L312.8,344.8 L313.1,344.1 L313.5,343.4 L313.9,342.7 L314.3,342.1 L314.7,341.4 L315.2,340.7 L315.6,340.1 L316,339.4 L316.5,338.7 L316.9,338.1 L317.3,337.4 L317.7,336.7 L318.1,336 L318.5,335.3 L318.8,334.6 L319.1,333.8 L319.3,333.1 L319.5,332.3 L319.7,331.5 L319.8,330.7 L319.8,329.9 L319.8,329.1 L319.7,328.3 L319.5,327.6 L319.4,326.8 L319.1,326 L318.9,325.3 L318.7,324.5 L318.4,323.7 L318.2,323 L318,322.2 L317.8,321.4 L317.7,320.7 L317.6,319.9 L317.7,319.1 L317.8,318.3 L318,317.5 L318.2,316.7 L318.5,316 L318.8,315.3 L319.2,314.6 L319.5,313.9 L319.9,313.2 L320.4,312.5 L320.8,311.8 L321.2,311.1 L321.6,310.5 L322,309.8 L322.5,309.1 L322.8,308.4 L323.2,307.7 L323.6,307 L323.9,306.3 L324.1,305.5 L324.3,304.7 L324.5,304 L324.6,303.2 L324.7,302.4 L324.8,301.6 L324.8,300.8 L324.8,300 L324.8,299.2 L324.7,298.4 L324.6,297.6 L324.5,296.8 L324.4,296 L324.2,295.3 L324.1,294.5 L323.9,293.7 L323.7,292.9 L323.5,292.2 L323.3,291.4 L323.2,290.6 L323,289.8 L322.8,289.1 L322.7,288.3 L322.6,287.5 L322.6,286.7 L322.7,285.9 L322.9,285.1 L323.2,284.4 L323.6,283.7 L324.1,283.1 L324.7,282.5 L325.3,282 L326,281.6" stroke="#4040ff" stroke-width="0.6" fill="none"/>
<g fill="none" stroke="#4040ff" stroke-width="0.4"><circle cx="290.9" cy="384.6" r="1.6"/><circle cx="290.7" cy="382.9" r="1.6"/><circle cx="290.6" cy="381.2" r="1.6"/><circle cx="290.6" cy="379.4" r="1.6"/><circle cx="290.8" cy="377.7" r="1.6"/><circle cx="291.1" cy="376" r="1.6"/><circle cx="291.7" cy="374.4" r="1.6"/><circle cx="292.7" cy="373" r="1.6"/><circle cx="293.9" cy="371.7" r="1.6"/><circle cx="295.3" cy="370.7" r="1.6"/><circle cx="296.8" cy="370" r="1.6"/><circle cx="298.4" cy="369.3" r="1.6"/><circle cx="300.1" cy="368.7" r="1.6"/><circle cx="301.7" cy="368.2" r="1.6"/><circle cx="303.3" cy="367.6" r="1.6"/><circle cx="305" cy="367" r="1.6"/><circle cx="306.5" cy="366.2" r="1.6"/><circle cx="308" cy="365.3" r="1.6"/><circle cx="309.2" cy="364.1" r="1.6"/><circle cx="310" cy="362.6" r="1.6"/><circle cx="310.6" cy="360.9" r="1.6"/><circle cx="310.9" cy="359.2" r="1.6"/><circle cx="311.1" cy="357.5" r="1.6"/><circle cx="311.1" cy="355.8" r="1.6"/><circle cx="311.2" cy="354.1" r="1.6"/><circle cx="311.2" cy="352.3" r="1.6"/><circle cx="311.3" cy="350.6" r="1.6"/><circle cx="311.6" cy="348.9" r="1.6"/><circle cx="311.9" cy="347.2" r="1.6"/><circle cx="312.5" cy="345.5" r="1.6"/><circle cx="313.2" cy="344" r="1.6"/><circle cx="314" cy="342.5" r="1.6"/><circle cx="315" cy="341" r="1.6"/><circle cx="315.9" cy="339.6" r="1.6"/><circle cx="316.9" cy="338.1" r="1.6"/><circle cx="317.8" cy="336.7" r="1.6"/><circle cx="318.6" cy="335.1" r="1.6"/><circle cx="319.2" cy="333.5" r="1.6"/><circle cx="319.6" cy="331.8" r="1.6"/><circle cx="319.8" cy="330.1" r="1.6"/><circle cx="319.7" cy="328.4" r="1.6"/><circle cx="319.3" cy="326.7" r="1.6"/><circle cx="318.8" cy="325" r="1.6"/><circle cx="318.3" cy="323.4" r="1.6"/><circle cx="317.9" cy="321.7" r="1.6"/><circle cx="317.6" cy="320" r="1.6"/><circle cx="317.8" cy="318.3" r="1.6"/><circle cx="318.2" cy="316.6" r="1.6"/><circle cx="318.9" cy="315" r="1.6"/><circle cx="319.8" cy="313.5" r="1.6"/><circle cx="320.7" cy="312" r="1.6"/><circle cx="321.6" cy="310.6" r="1.6"/><circle cx="322.5" cy="309.1" r="1.6"/><circle cx="323.3" cy="307.6" r="1.6"/><circle cx="324" cy="306" r="1.6"/><circle cx="324.4" cy="304.3" r="1.6"/><circle cx="324.7" cy="302.6" r="1.6"/><circle cx="324.8" cy="300.9" r="1.6"/><circle cx="324.7" cy="299.1" r="1.6"/><circle cx="324.6" cy="297.4" r="1.6"/><circle cx="324.3" cy="295.7" r="1.6"/><circle cx="324" cy="294" r="1.6"/><circle cx="323.6" cy="292.3" r="1.6"/><circle cx="323.2" cy="290.6" r="1.6"/><circle cx="322.8" cy="289" r="1.6"/><circle cx="322.6" cy="287.2" r="1.6"/><circle cx="322.8" cy="285.5" r="1.6"/><circle cx="323.5" cy="283.9" r="1.6"/><circle cx="324.6" cy="282.6" r="1.6"/><circle cx="326" cy="281.6" r="1.6"/></g>
<rect x="243.1" y="415.6" width="128.4" height="102.9" fill="none" stroke="#7a7a7a" stroke-width="0.9"/>
<text x="244.3" y="527.3" font-size="6.5" font-family='"Liberation Sans", sans-serif' text-anchor="middle" fill="#2a2a2a" textLength="3.3" lengthAdjust="spacingAndGlyphs" class="t" >0</text>
<text x="275.1" y="527.3" font-size="6.5" font-family='"Liberation Sans", sans-serif' text-anchor="middle" fill="#2a2a2a" textLength="9.8" lengthAdjust="spacingAndGlyphs" class="t" >500</text>
<text x="305.9" y="527.3" font-size="6.5" font-family='"Liberation Sans", sans-serif' text-anchor="middle" fill="#2a2a2a" textLength="13.1" lengthAdjust="spacingAndGlyphs" class="t" >1000</text>
<text x="336.7" y="527.3" font-size="6.5" font-family='"Liberation Sans", sans-serif' text-anchor="middle" fill="#2a2a2a" textLength="13.1" lengthAdjust="spacingAndGlyphs" class="t" >1500</text>
<text x="367.5" y="527.3" font-size="6.5" font-family='"Liberation Sans", sans-serif' text-anchor="middle" fill="#2a2a2a" textLength="13.1" lengthAdjust="spacingAndGlyphs" class="t" >2000</text>
<text x="240.4" y="497.6" font-size="6.5" font-family='"Liberation Sans", sans-serif' text-anchor="end" fill="#2a2a2a" textLength="12" lengthAdjust="spacingAndGlyphs" class="t" >-500</text>
<text x="240.4" y="466.9" font-size="6.5" font-family='"Liberation Sans", sans-serif' text-anchor="end" fill="#2a2a2a" textLength="3.3" lengthAdjust="spacingAndGlyphs" class="t" >0</text>
<text x="240.4" y="436.1" font-size="6.5" font-family='"Liberation Sans", sans-serif' text-anchor="end" fill="#2a2a2a" textLength="9.8" lengthAdjust="spacingAndGlyphs" class="t" >500</text>
<path d="M244.3,518.5v-1.2 M244.3,415.6v1.2 M275.1,518.5v-1.2 M275.1,415.6v1.2 M305.9,518.5v-1.2 M305.9,415.6v1.2 M336.7,518.5v-1.2 M336.7,415.6v1.2 M367.5,518.5v-1.2 M367.5,415.6v1.2 M243.1,495.1h1.2 M371.5,495.1h-1.2 M243.1,464.4h1.2 M371.5,464.4h-1.2 M243.1,433.6h1.2 M371.5,433.6h-1.2" stroke="#7a7a7a" stroke-width="0.8" fill="none"/>
<text x="307.3" y="535.2" font-size="7.4" font-family='"Liberation Serif", serif' text-anchor="middle" fill="#2a2a2a" textLength="14.4" lengthAdjust="spacingAndGlyphs" class="s" ><tspan font-style="italic">x</tspan>(m)</text>
<text x="307.3" y="543.5" font-size="8" font-family='"Liberation Serif", serif' text-anchor="middle" fill="#2a2a2a" class="s" >(h)</text>
<text x="223.9" y="467.1" font-size="7.8" font-family='"Liberation Serif", serif' text-anchor="middle" fill="#2a2a2a" textLength="14.2" lengthAdjust="spacingAndGlyphs" transform="rotate(-90 223.9 467.1)" class="s" ><tspan font-style="italic">y</tspan>(m)</text>
<path d="M243.3,464.6 L244.1,464.7 L244.9,464.8 L245.7,464.9 L246.4,465 L247.2,465.1 L248,465.1 L248.8,465.1 L249.6,465 L250.4,465 L251.2,464.9 L252,464.8 L252.8,464.7 L253.6,464.6 L254.4,464.5 L255.2,464.3 L255.9,464.2 L256.7,464 L257.5,463.8 L258.3,463.6 L259,463.4 L259.8,463.3 L260.6,463.1 L261.4,462.9 L262.1,462.7 L262.9,462.5 L263.7,462.3 L264.5,462.1 L265.2,461.9 L266,461.7 L266.8,461.6 L267.6,461.4 L268.3,461.2 L269.1,461.1 L269.9,461 L270.7,460.9 L271.5,460.8 L272.3,460.7 L273.1,460.6 L273.9,460.6 L274.7,460.6 L275.5,460.6 L276.3,460.7 L277.1,460.7 L277.8,460.8 L278.6,461 L279.4,461.2 L280.2,461.4 L280.9,461.6 L281.7,461.9 L282.4,462.1 L283.2,462.4 L283.9,462.8 L284.6,463.1 L285.3,463.4 L286.1,463.8 L286.8,464.2 L287.5,464.6 L288.2,464.9 L288.9,465.3 L289.5,465.7 L290.2,466.1 L290.9,466.5 L291.6,467 L292.3,467.4 L293,467.8 L293.7,468.2 L294.3,468.6 L295,469 L295.7,469.3 L296.4,469.7 L297.1,470.1 L297.9,470.5 L298.6,470.8 L299.3,471.1 L300,471.5 L300.8,471.8 L301.5,472.1 L302.3,472.3 L303,472.5 L303.8,472.8 L304.6,472.9 L305.3,473.1 L306.1,473.2 L306.9,473.2 L307.7,473.3 L308.5,473.3 L309.3,473.2 L310.1,473.1 L310.9,473 L311.7,472.9 L312.5,472.7 L313.2,472.6 L314,472.4 L314.8,472.1 L315.5,471.9 L316.3,471.6 L317,471.4 L317.8,471.1 L318.5,470.8 L319.3,470.5 L320,470.2 L320.7,469.9 L321.5,469.6 L322.2,469.3 L322.9,469 L323.7,468.6 L324.4,468.3 L325.1,468 L325.9,467.7 L326.6,467.4 L327.3,467.1 L328.1,466.8 L328.8,466.5 L329.6,466.2 L330.3,465.9 L331.1,465.7 L331.8,465.5 L332.6,465.3 L333.4,465.1 L334.2,465 L335,464.9 L335.8,464.9 L336.6,464.9 L337.4,464.9 L338.1,465 L338.9,465.1 L339.7,465.3 L340.5,465.5 L341.2,465.7 L342,466 L342.7,466.3 L343.5,466.6 L344.2,466.9 L344.9,467.3 L345.6,467.6 L346.3,468 L347,468.4 L347.7,468.8 L348.4,469.2 L349,469.7 L349.7,470.1 L350.4,470.6 L351,471 L351.7,471.5 L352.3,472 L352.9,472.4 L353.6,472.9 L354.2,473.4 L354.9,473.9" stroke="#ff3a3a" stroke-width="0.6" fill="none" stroke-dasharray="3.6 2.4"/>
<path d="M241.9,464.6h2.8 M243.3,463.2v2.8 M242.3,463.5l2,2 M242.3,465.6l2,-2 M245.3,465h2.8 M246.7,463.6v2.8 M245.6,464l2,2 M245.6,466l2,-2 M248.6,465h2.8 M250,463.6v2.8 M249,464l2,2 M249,466l2,-2 M252,464.6h2.8 M253.4,463.2v2.8 M252.4,463.6l2,2 M252.4,465.6l2,-2 M255.3,464h2.8 M256.7,462.6v2.8 M255.7,463l2,2 M255.7,465l2,-2 M258.6,463.2h2.8 M260,461.8v2.8 M259,462.2l2,2 M259,464.2l2,-2 M261.9,462.4h2.8 M263.3,461v2.8 M262.3,461.4l2,2 M262.3,463.4l2,-2 M265.2,461.6h2.8 M266.6,460.2v2.8 M265.6,460.6l2,2 M265.6,462.6l2,-2 M268.6,461h2.8 M270,459.6v2.8 M269,460l2,2 M269,462l2,-2 M271.9,460.6h2.8 M273.3,459.2v2.8 M272.3,459.6l2,2 M272.3,461.6l2,-2 M275.3,460.7h2.8 M276.7,459.3v2.8 M275.7,459.7l2,2 M275.7,461.7l2,-2 M278.6,461.3h2.8 M280,459.9v2.8 M279,460.3l2,2 M279,462.3l2,-2 M281.8,462.5h2.8 M283.2,461.1v2.8 M282.2,461.5l2,2 M282.2,463.5l2,-2 M284.9,463.9h2.8 M286.3,462.5v2.8 M285.3,462.9l2,2 M285.3,464.9l2,-2 M287.9,465.6h2.8 M289.3,464.2v2.8 M288.3,464.6l2,2 M288.3,466.6l2,-2 M290.8,467.3h2.8 M292.2,465.9v2.8 M291.2,466.3l2,2 M291.2,468.3l2,-2 M293.7,469h2.8 M295.1,467.6v2.8 M294.1,468l2,2 M294.1,470l2,-2 M296.7,470.6h2.8 M298.1,469.2v2.8 M297.1,469.6l2,2 M297.1,471.6l2,-2 M299.8,471.9h2.8 M301.2,470.5v2.8 M300.2,470.9l2,2 M300.2,473l2,-2 M303.1,472.9h2.8 M304.5,471.5v2.8 M303.5,471.9l2,2 M303.5,473.9l2,-2 M306.4,473.3h2.8 M307.8,471.9v2.8 M306.8,472.3l2,2 M306.8,474.3l2,-2 M309.8,473h2.8 M311.2,471.6v2.8 M310.2,472l2,2 M310.2,474l2,-2 M313.1,472.2h2.8 M314.5,470.8v2.8 M313.5,471.2l2,2 M313.5,473.2l2,-2 M316.3,471.1h2.8 M317.7,469.7v2.8 M316.7,470.1l2,2 M316.7,472.1l2,-2 M319.5,469.9h2.8 M320.9,468.5v2.8 M319.9,468.9l2,2 M319.9,470.9l2,-2 M322.6,468.5h2.8 M324,467.1v2.8 M323,467.5l2,2 M323,469.5l2,-2 M325.7,467.2h2.8 M327.1,465.8v2.8 M326.1,466.1l2,2 M326.1,468.2l2,-2 M328.9,466h2.8 M330.3,464.6v2.8 M329.3,464.9l2,2 M329.3,467l2,-2 M332.1,465.1h2.8 M333.5,463.7v2.8 M332.5,464.1l2,2 M332.5,466.1l2,-2 M335.5,464.9h2.8 M336.9,463.5v2.8 M335.9,463.9l2,2 M335.9,465.9l2,-2 M338.9,465.4h2.8 M340.3,464v2.8 M339.3,464.4l2,2 M339.3,466.4l2,-2 M342.1,466.6h2.8 M343.5,465.2v2.8 M342.4,465.6l2,2 M342.4,467.6l2,-2 M345.1,468.1h2.8 M346.5,466.7v2.8 M345.5,467.1l2,2 M345.5,469.1l2,-2 M348,469.9h2.8 M349.4,468.5v2.8 M348.4,468.9l2,2 M348.4,470.9l2,-2 M350.7,471.8h2.8 M352.1,470.4v2.8 M351.1,470.8l2,2 M351.1,472.8l2,-2 M353.5,473.9h2.8 M354.9,472.5v2.8 M353.9,472.8l2,2 M353.9,474.9l2,-2" stroke="#ff3a3a" stroke-width="0.6" fill="none"/>
<path d="M243.3,463.7 L244.1,463.9 L244.9,464 L245.7,464.1 L246.5,464.1 L247.3,464.1 L248.1,464.1 L248.9,464.1 L249.7,464.1 L250.5,464 L251.3,463.9 L252.1,463.8 L252.9,463.7 L253.6,463.6 L254.4,463.4 L255.2,463.3 L256,463.1 L256.8,463 L257.5,462.8 L258.3,462.6 L259.1,462.4 L259.9,462.2 L260.6,462 L261.4,461.8 L262.2,461.6 L262.9,461.4 L263.7,461.2 L264.5,461 L265.2,460.8 L266,460.6 L266.8,460.4 L267.6,460.2 L268.3,460 L269.1,459.8 L269.9,459.7 L270.7,459.5 L271.5,459.4 L272.3,459.3 L273,459.2 L273.8,459.1 L274.6,459 L275.4,459 L276.2,458.9 L277,458.9 L277.8,459 L278.6,459 L279.4,459.1 L280.2,459.2 L281,459.4 L281.7,459.5 L282.5,459.7 L283.3,459.9 L284,460.2 L284.8,460.5 L285.5,460.7 L286.3,461.1 L287,461.4 L287.7,461.7 L288.4,462.1 L289.1,462.4 L289.9,462.8 L290.6,463.2 L291.3,463.5 L291.9,463.9 L292.6,464.3 L293.3,464.7 L294,465.1 L294.7,465.5 L295.4,465.9 L296.1,466.3 L296.8,466.8 L297.4,467.2 L298.1,467.6 L298.8,468 L299.5,468.3 L300.2,468.7 L300.9,469.1 L301.6,469.5 L302.3,469.8 L303,470.2 L303.8,470.5 L304.5,470.9 L305.2,471.2 L306,471.5 L306.7,471.8 L307.5,472 L308.2,472.2 L309,472.5 L309.8,472.6 L310.5,472.8 L311.3,472.9 L312.1,473 L312.9,473.1 L313.7,473.2 L314.5,473.2 L315.3,473.2 L316.1,473.1 L316.9,473.1 L317.7,473 L318.5,472.9 L319.3,472.8 L320,472.6 L320.8,472.4 L321.6,472.2 L322.4,472 L323.1,471.8 L323.9,471.5 L324.6,471.3 L325.4,471 L326.1,470.7 L326.8,470.3 L327.6,470 L328.3,469.7 L329,469.3 L329.7,468.9 L330.4,468.6 L331.1,468.2 L331.8,467.8 L332.5,467.5 L333.2,467.1 L333.9,466.7 L334.6,466.4 L335.3,466 L336.1,465.6 L336.8,465.3 L337.5,465 L338.2,464.7 L339,464.4 L339.7,464.1 L340.5,463.8 L341.2,463.6 L342,463.4 L342.8,463.2 L343.6,463.1 L344.4,463 L345.2,462.9 L345.9,462.9 L346.7,462.9 L347.5,463 L348.3,463 L349.1,463.1 L349.9,463.2 L350.7,463.4 L351.5,463.5 L352.3,463.7 L353,463.9 L353.8,464.1 L354.5,464.4 L355.3,464.7 L356,464.9 L356.8,465.2 L357.5,465.5 L358.3,465.8 L359,466.2 L359.7,466.5 L360.4,466.9 L361.1,467.2 L361.8,467.6 L362.5,468 L363.2,468.3 L363.9,468.7 L364.6,469.1 L365.3,469.6 L366,470 L366.7,470.4 L367.3,470.8 L368,471.2 L368.7,471.7 L369.3,472.1 L370,472.5 L370.7,473 L371.3,473.4" stroke="#4040ff" stroke-width="0.6" fill="none"/>
<g fill="none" stroke="#4040ff" stroke-width="0.5"><circle cx="243.3" cy="463.7" r="1.9"/><circle cx="247.2" cy="464.1" r="1.9"/><circle cx="251.1" cy="463.9" r="1.9"/><circle cx="254.9" cy="463.3" r="1.9"/><circle cx="258.7" cy="462.5" r="1.9"/><circle cx="262.5" cy="461.5" r="1.9"/><circle cx="266.3" cy="460.5" r="1.9"/><circle cx="270.1" cy="459.7" r="1.9"/><circle cx="273.9" cy="459.1" r="1.9"/><circle cx="277.8" cy="459" r="1.9"/><circle cx="281.6" cy="459.5" r="1.9"/><circle cx="285.3" cy="460.7" r="1.9"/><circle cx="288.9" cy="462.3" r="1.9"/><circle cx="292.3" cy="464.1" r="1.9"/><circle cx="295.7" cy="466.1" r="1.9"/><circle cx="299" cy="468.1" r="1.9"/><circle cx="302.4" cy="469.9" r="1.9"/><circle cx="306" cy="471.5" r="1.9"/><circle cx="309.7" cy="472.6" r="1.9"/><circle cx="313.6" cy="473.1" r="1.9"/><circle cx="317.5" cy="473" r="1.9"/><circle cx="321.3" cy="472.3" r="1.9"/><circle cx="325" cy="471.1" r="1.9"/><circle cx="328.5" cy="469.5" r="1.9"/><circle cx="332" cy="467.7" r="1.9"/><circle cx="335.4" cy="465.9" r="1.9"/><circle cx="339" cy="464.4" r="1.9"/><circle cx="342.7" cy="463.3" r="1.9"/><circle cx="346.6" cy="462.9" r="1.9"/><circle cx="350.5" cy="463.3" r="1.9"/><circle cx="354.2" cy="464.3" r="1.9"/><circle cx="357.9" cy="465.7" r="1.9"/><circle cx="361.4" cy="467.3" r="1.9"/><circle cx="364.8" cy="469.2" r="1.9"/><circle cx="368.1" cy="471.3" r="1.9"/><circle cx="371.3" cy="473.4" r="1.9"/></g>
<path d="M243.3,464.6L243.3,463.7 M246.7,465L247.2,464.1 M250,465L251.1,463.9 M253.4,464.6L254.9,463.3 M256.7,464L258.7,462.5 M260,463.2L262.5,461.5 M263.3,462.4L266.3,460.5 M266.6,461.6L270.1,459.7 M270,461L273.9,459.1 M273.3,460.6L277.8,459 M276.7,460.7L281.6,459.5 M280,461.3L285.3,460.7 M283.2,462.5L288.9,462.3 M286.3,463.9L292.3,464.1 M289.3,465.6L295.7,466.1 M292.2,467.3L299,468.1 M295.1,469L302.4,469.9 M298.1,470.6L306,471.5 M301.2,471.9L309.7,472.6 M304.5,472.9L313.6,473.1 M307.8,473.3L317.5,473 M311.2,473L321.3,472.3 M314.5,472.2L325,471.1 M317.7,471.1L328.5,469.5 M320.9,469.9L332,467.7 M324,468.5L335.4,465.9 M327.1,467.2L339,464.4 M330.3,466L342.7,463.3 M333.5,465.1L346.6,462.9 M336.9,464.9L350.5,463.3 M340.3,465.4L354.2,464.3 M343.5,466.6L357.9,465.7 M346.5,468.1L361.4,467.3 M349.4,469.9L364.8,469.2 M352.1,471.8L368.1,471.3 M354.9,473.9L371.3,473.4" stroke="#00e000" stroke-width="0.5" fill="none"/>
<path d="M243.3,463.7L243.5,464.2L243.1,464.1Z M247.2,464.1L247.1,464.7L246.7,464.5Z M251.1,463.9L250.8,464.7L250.3,464.2Z M254.9,463.3L254.5,464.3L253.9,463.6Z M258.7,462.5L258.1,463.7L257.4,462.8Z M262.5,461.5L261.7,462.9L260.9,461.8Z M266.3,460.5L265.2,462.1L264.4,460.8Z M270.1,459.7L268.8,461.4L267.9,459.8Z M273.9,459.1L272.5,460.8L271.7,459.1Z M277.8,459L276.2,460.5L275.6,458.8Z M281.6,459.5L279.9,460.8L279.5,459.1Z M285.3,460.7L283.5,461.8L283.2,460Z M288.9,462.3L286.9,463.2L286.9,461.4Z M292.3,464.1L290.3,465L290.3,463.2Z M295.7,466.1L293.6,466.8L293.7,465Z M299,468.1L296.9,468.7L297.1,466.9Z M302.4,469.9L300.4,470.6L300.6,468.8Z M306,471.5L303.9,472.2L304.1,470.4Z M309.7,472.6L307.7,473.4L307.8,471.6Z M313.6,473.1L311.5,474L311.6,472.2Z M317.5,473L315.5,474L315.4,472.2Z M321.3,472.3L319.3,473.3L319.2,471.5Z M325,471.1L323.1,472.2L322.9,470.4Z M328.5,469.5L326.7,470.7L326.4,468.9Z M332,467.7L330.2,469L329.9,467.2Z M335.4,465.9L333.7,467.3L333.3,465.5Z M339,464.4L337.2,465.7L336.8,463.9Z M342.7,463.3L341,464.6L340.6,462.8Z M346.6,462.9L344.8,464.1L344.5,462.4Z M350.5,463.3L348.6,464.4L348.4,462.7Z M354.2,464.3L352.3,465.3L352.2,463.6Z M357.9,465.7L355.9,466.7L355.8,464.9Z M361.4,467.3L359.4,468.3L359.3,466.5Z M364.8,469.2L362.8,470.2L362.7,468.4Z M368.1,471.3L366.1,472.3L366,470.5Z M371.3,473.4L369.3,474.4L369.3,472.6Z" fill="#00e000" stroke="#00e000" stroke-width="0.3"/>
</svg></body></html>
